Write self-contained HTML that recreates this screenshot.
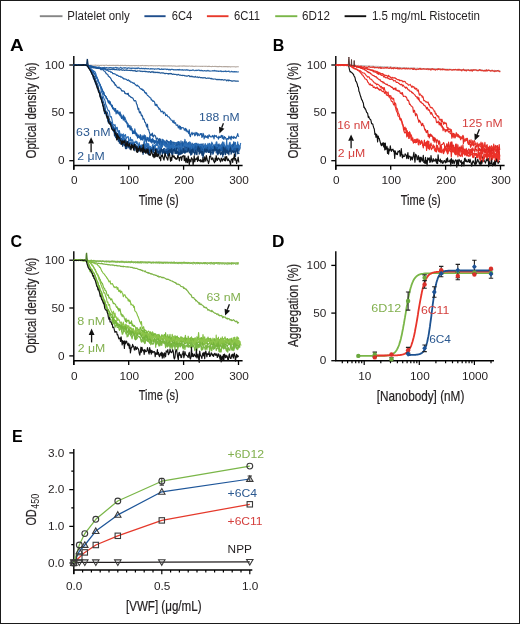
<!DOCTYPE html>
<html><head><meta charset="utf-8"><title>Figure</title><style>
html,body{margin:0;padding:0;background:#fff;overflow:hidden;}
svg{display:block;will-change:transform;}
text{font-family:"Liberation Sans",sans-serif;}
</style></head><body>
<svg width="520" height="624" viewBox="0 0 520 624">
<rect x="0" y="0" width="520" height="624" fill="#fff"/>
<line x1="39.8" y1="16.2" x2="62.5" y2="16.2" stroke="#858585" stroke-width="1.9"/>
<line x1="144.4" y1="16.2" x2="165.6" y2="16.2" stroke="#1f4e8c" stroke-width="1.9"/>
<line x1="206.9" y1="16.2" x2="228.5" y2="16.2" stroke="#e8392b" stroke-width="1.9"/>
<line x1="275.2" y1="16.2" x2="297.3" y2="16.2" stroke="#7ab648" stroke-width="1.9"/>
<line x1="344.6" y1="16.2" x2="366.2" y2="16.2" stroke="#111" stroke-width="1.9"/>
<text x="67.3" y="19.8" font-size="12.3" fill="#231f20" textLength="62.5" lengthAdjust="spacingAndGlyphs">Platelet only</text>
<text x="171.7" y="19.8" font-size="12.3" fill="#231f20" textLength="20.5" lengthAdjust="spacingAndGlyphs">6C4</text>
<text x="234" y="19.8" font-size="12.3" fill="#231f20" textLength="26" lengthAdjust="spacingAndGlyphs">6C11</text>
<text x="302.1" y="19.8" font-size="12.3" fill="#231f20" textLength="27.8" lengthAdjust="spacingAndGlyphs">6D12</text>
<text x="371.9" y="19.8" font-size="12.3" fill="#231f20" textLength="108" lengthAdjust="spacingAndGlyphs">1.5 mg/mL Ristocetin</text>
<text transform="translate(16.7 0) scale(1.17 1) translate(-16.7 0)" x="10.9" y="50.8" font-size="16.2" font-weight="bold" fill="#000">A</text>
<path d="M73.8 56 V169.8 M73.1 165.5 H242.6" stroke="#000" stroke-width="1.4" fill="none"/>
<line x1="69.3" y1="65" x2="73.8" y2="65" stroke="#000" stroke-width="1.3"/>
<text x="64.5" y="68.6" font-size="11.8" fill="#231f20" text-anchor="end">100</text>
<line x1="69.3" y1="112.8" x2="73.8" y2="112.8" stroke="#000" stroke-width="1.3"/>
<text x="64.5" y="116.4" font-size="11.8" fill="#231f20" text-anchor="end">50</text>
<line x1="69.3" y1="160.7" x2="73.8" y2="160.7" stroke="#000" stroke-width="1.3"/>
<text x="64.5" y="164.3" font-size="11.8" fill="#231f20" text-anchor="end">0</text>
<line x1="73.8" y1="165.5" x2="73.8" y2="169.8" stroke="#000" stroke-width="1.3"/>
<text x="74.4" y="184.3" font-size="11.8" fill="#231f20" text-anchor="middle">0</text>
<line x1="128.7" y1="165.5" x2="128.7" y2="169.8" stroke="#000" stroke-width="1.3"/>
<text x="129.3" y="184.3" font-size="11.8" fill="#231f20" text-anchor="middle">100</text>
<line x1="183.6" y1="165.5" x2="183.6" y2="169.8" stroke="#000" stroke-width="1.3"/>
<text x="184.2" y="184.3" font-size="11.8" fill="#231f20" text-anchor="middle">200</text>
<line x1="238.5" y1="165.5" x2="238.5" y2="169.8" stroke="#000" stroke-width="1.3"/>
<text x="239.1" y="184.3" font-size="11.8" fill="#231f20" text-anchor="middle">300</text>
<text x="138.8" y="204.5" font-size="14.5" fill="#231f20" textLength="40" lengthAdjust="spacingAndGlyphs" stroke="#231f20" stroke-width="0.22">Time (s)</text>
<text transform="translate(36.2 110.4) rotate(-90)" x="0" y="0" font-size="14.5" fill="#231f20" text-anchor="middle" stroke="#231f20" stroke-width="0.22" textLength="96" lengthAdjust="spacingAndGlyphs">Optical density (%)</text>
<text x="272.7" y="50.5" font-size="16" font-weight="bold" fill="#000">B</text>
<path d="M335.8 56 V169.8 M335.1 165.5 H504.6" stroke="#000" stroke-width="1.4" fill="none"/>
<line x1="331.3" y1="65" x2="335.8" y2="65" stroke="#000" stroke-width="1.3"/>
<text x="326.5" y="68.6" font-size="11.8" fill="#231f20" text-anchor="end">100</text>
<line x1="331.3" y1="112.8" x2="335.8" y2="112.8" stroke="#000" stroke-width="1.3"/>
<text x="326.5" y="116.4" font-size="11.8" fill="#231f20" text-anchor="end">50</text>
<line x1="331.3" y1="160.7" x2="335.8" y2="160.7" stroke="#000" stroke-width="1.3"/>
<text x="326.5" y="164.3" font-size="11.8" fill="#231f20" text-anchor="end">0</text>
<line x1="335.8" y1="165.5" x2="335.8" y2="169.8" stroke="#000" stroke-width="1.3"/>
<text x="336.4" y="184.3" font-size="11.8" fill="#231f20" text-anchor="middle">0</text>
<line x1="390.7" y1="165.5" x2="390.7" y2="169.8" stroke="#000" stroke-width="1.3"/>
<text x="391.3" y="184.3" font-size="11.8" fill="#231f20" text-anchor="middle">100</text>
<line x1="445.6" y1="165.5" x2="445.6" y2="169.8" stroke="#000" stroke-width="1.3"/>
<text x="446.2" y="184.3" font-size="11.8" fill="#231f20" text-anchor="middle">200</text>
<line x1="500.5" y1="165.5" x2="500.5" y2="169.8" stroke="#000" stroke-width="1.3"/>
<text x="501.1" y="184.3" font-size="11.8" fill="#231f20" text-anchor="middle">300</text>
<text x="400.8" y="204.5" font-size="14.5" fill="#231f20" textLength="40" lengthAdjust="spacingAndGlyphs" stroke="#231f20" stroke-width="0.22">Time (s)</text>
<text transform="translate(298.2 110.4) rotate(-90)" x="0" y="0" font-size="14.5" fill="#231f20" text-anchor="middle" stroke="#231f20" stroke-width="0.22" textLength="96" lengthAdjust="spacingAndGlyphs">Optical density (%)</text>
<text x="10.5" y="246.8" font-size="16" font-weight="bold" fill="#000">C</text>
<path d="M73.8 251.2 V365 M73.1 360.7 H242.6" stroke="#000" stroke-width="1.4" fill="none"/>
<line x1="69.3" y1="260.2" x2="73.8" y2="260.2" stroke="#000" stroke-width="1.3"/>
<text x="64.5" y="263.8" font-size="11.8" fill="#231f20" text-anchor="end">100</text>
<line x1="69.3" y1="308" x2="73.8" y2="308" stroke="#000" stroke-width="1.3"/>
<text x="64.5" y="311.6" font-size="11.8" fill="#231f20" text-anchor="end">50</text>
<line x1="69.3" y1="355.9" x2="73.8" y2="355.9" stroke="#000" stroke-width="1.3"/>
<text x="64.5" y="359.5" font-size="11.8" fill="#231f20" text-anchor="end">0</text>
<line x1="73.8" y1="360.7" x2="73.8" y2="365" stroke="#000" stroke-width="1.3"/>
<text x="74.4" y="379.5" font-size="11.8" fill="#231f20" text-anchor="middle">0</text>
<line x1="128.7" y1="360.7" x2="128.7" y2="365" stroke="#000" stroke-width="1.3"/>
<text x="129.3" y="379.5" font-size="11.8" fill="#231f20" text-anchor="middle">100</text>
<line x1="183.6" y1="360.7" x2="183.6" y2="365" stroke="#000" stroke-width="1.3"/>
<text x="184.2" y="379.5" font-size="11.8" fill="#231f20" text-anchor="middle">200</text>
<line x1="238.5" y1="360.7" x2="238.5" y2="365" stroke="#000" stroke-width="1.3"/>
<text x="239.1" y="379.5" font-size="11.8" fill="#231f20" text-anchor="middle">300</text>
<text x="138.8" y="399.7" font-size="14.5" fill="#231f20" textLength="40" lengthAdjust="spacingAndGlyphs" stroke="#231f20" stroke-width="0.22">Time (s)</text>
<text transform="translate(36.2 305.6) rotate(-90)" x="0" y="0" font-size="14.5" fill="#231f20" text-anchor="middle" stroke="#231f20" stroke-width="0.22" textLength="96" lengthAdjust="spacingAndGlyphs">Optical density (%)</text>
<path d="M73.8 64.9 L74.3 65 L74.9 65.1 L75.4 65.1 L76 64.9 L76.5 65.2 L77.1 65.1 L77.6 65.1 L78.2 65.2 L78.7 65.2 L79.3 65.4 L79.8 65 L80.4 65.1 L80.9 65.3 L81.5 65 L82 65.2 L82.6 65.1 L83.1 65.1 L83.7 65.2 L84.2 64.9 L84.8 65.1 L85.3 65 L85.9 65.2 L86.4 65.1 L87 65.4 L87.5 65.1 L88.1 65.4 L88.6 65.2 L89.2 65.3 L89.7 65.2 L90.3 65.2 L90.8 65.1 L91.4 65.3 L91.9 65.3 L92.5 65.3 L93 65.3 L93.6 65.2 L94.1 65.2 L94.7 65.2 L95.2 65.1 L95.8 65.3 L96.3 65.2 L96.9 65.3 L97.4 65.6 L98 65.3 L98.5 65.3 L99.1 65.4 L99.6 65.5 L100.2 65.5 L100.7 65.3 L101.3 65.6 L101.8 65.3 L102.4 65.2 L102.9 65.2 L103.5 65.5 L104 65.4 L104.6 65.5 L105.1 65.3 L105.7 65.3 L106.2 65.2 L106.8 65.1 L107.3 65.4 L107.9 65.6 L108.4 65.5 L109 65.3 L109.5 65.5 L110.1 65.3 L110.6 65.4 L111.2 65.5 L111.7 65.4 L112.3 65.3 L112.8 65.5 L113.4 65.4 L113.9 65.4 L114.5 65.5 L115 65.4 L115.6 65.5 L116.1 65.3 L116.7 65.5 L117.2 65.3 L117.8 65.4 L118.3 65.2 L118.9 65.6 L119.4 65.5 L120 65.5 L120.5 65.3 L121.1 65.5 L121.6 65.4 L122.2 65.6 L122.7 65.3 L123.3 65.5 L123.8 65.6 L124.4 65.4 L124.9 65.5 L125.5 65.4 L126 65.5 L126.6 65.6 L127.1 65.7 L127.7 65.5 L128.2 65.4 L128.8 65.6 L129.3 65.5 L129.9 65.7 L130.4 65.5 L131 65.7 L131.5 65.6 L132.1 65.6 L132.6 65.7 L133.2 65.5 L133.7 65.5 L134.3 65.6 L134.8 65.6 L135.4 65.6 L135.9 65.5 L136.5 65.5 L137 65.7 L137.6 65.8 L138.1 65.4 L138.7 65.8 L139.2 65.7 L139.8 65.8 L140.3 65.6 L140.9 65.5 L141.4 65.6 L142 65.5 L142.5 65.4 L143.1 65.6 L143.6 65.7 L144.2 65.6 L144.7 65.7 L145.3 65.5 L145.8 65.8 L146.4 65.6 L146.9 65.7 L147.5 65.8 L148 65.6 L148.6 66 L149.1 65.8 L149.7 65.8 L150.2 65.7 L150.8 65.6 L151.3 65.8 L151.9 65.6 L152.4 65.8 L153 65.8 L153.5 65.9 L154.1 65.8 L154.6 65.8 L155.2 65.9 L155.7 65.7 L156.3 65.7 L156.8 65.7 L157.4 66 L157.9 65.8 L158.5 65.7 L159 65.6 L159.6 65.7 L160.1 65.8 L160.7 65.9 L161.2 66 L161.8 65.7 L162.3 65.9 L162.9 66 L163.4 65.6 L164 66.1 L164.5 65.7 L165.1 65.7 L165.6 66 L166.2 65.9 L166.7 66 L167.3 66 L167.8 65.9 L168.4 65.9 L168.9 65.8 L169.5 66 L170 65.7 L170.6 65.9 L171.1 66 L171.7 65.8 L172.2 66 L172.8 66.1 L173.3 66 L173.9 65.9 L174.4 66 L175 66.1 L175.5 66 L176.1 66.2 L176.6 66.2 L177.2 66.1 L177.7 66.2 L178.3 66.2 L178.8 65.9 L179.4 66.3 L179.9 65.9 L180.5 66.1 L181 65.9 L181.6 66.1 L182.1 66.1 L182.7 66.1 L183.2 65.7 L183.8 66.2 L184.3 66.1 L184.9 65.8 L185.4 66.3 L186 66.1 L186.5 66 L187.1 66.2 L187.6 66.1 L188.2 66.2 L188.7 66.1 L189.3 66 L189.8 66 L190.4 66.3 L190.9 66.2 L191.5 66.1 L192 66.1 L192.6 66.1 L193.1 66.5 L193.7 66.3 L194.2 66.2 L194.8 66.4 L195.3 66.2 L195.9 66.1 L196.4 66.2 L197 66.3 L197.5 66.2 L198.1 66.2 L198.6 66.3 L199.2 66.2 L199.7 66.2 L200.3 66.4 L200.8 66.3 L201.4 66.3 L201.9 66.4 L202.5 66.4 L203 66.2 L203.6 66.3 L204.1 66.2 L204.7 66.2 L205.2 66.4 L205.8 66.3 L206.3 66.3 L206.9 66.2 L207.4 66.6 L208 66.4 L208.5 66.4 L209.1 66.4 L209.6 66.3 L210.2 66.5 L210.7 66.5 L211.3 66.6 L211.8 66.5 L212.4 66.3 L212.9 66.5 L213.5 66.5 L214 66.5 L214.6 66.4 L215.1 66.3 L215.7 66.5 L216.2 66.6 L216.8 66.4 L217.3 66.8 L217.9 66.6 L218.4 66.5 L219 66.8 L219.5 66.4 L220.1 66.5 L220.6 66.5 L221.2 66.8 L221.7 66.5 L222.3 66.7 L222.8 66.7 L223.4 66.6 L223.9 66.7 L224.5 66.5 L225 66.8 L225.6 66.6 L226.1 66.6 L226.7 66.8 L227.2 66.6 L227.8 66.9 L228.3 66.9 L228.9 66.5 L229.4 66.8 L230 66.7 L230.5 67 L231.1 66.7 L231.6 66.7 L232.2 66.8 L232.7 66.8 L233.3 66.7 L233.8 66.8 L234.4 66.8 L234.9 66.7 L235.5 67 L236 66.9 L236.6 66.7 L237.1 66.7 L237.7 66.8 L238.2 66.7 L238.8 66.7" fill="none" stroke="#b3a79e" stroke-width="1.1" stroke-linejoin="round"/>
<path d="M73.8 65 L74.3 64.7 L74.9 65.3 L75.4 65.3 L76 65.1 L76.5 65.2 L77.1 65.5 L77.6 65.3 L78.2 65.3 L78.7 65.3 L79.3 64.9 L79.8 65.3 L80.4 64.7 L80.9 65 L81.5 65 L82 64.7 L82.6 65.1 L83.1 65.5 L83.7 65.1 L84.2 64.9 L84.8 65.2 L85.3 65.4 L85.9 65.3 L86.4 65.3 L87 65 L87.5 65.5 L88.1 65.6 L88.6 65.9 L89.2 66 L89.7 66 L90.3 65.7 L90.8 65.9 L91.4 66.1 L91.9 66.6 L92.5 66.5 L93 67.2 L93.6 67 L94.1 67.2 L94.7 67.3 L95.2 67.3 L95.8 66.9 L96.3 67.8 L96.9 67.7 L97.4 67.7 L98 67.2 L98.5 67 L99.1 67.1 L99.6 67.2 L100.2 67.7 L100.7 67.7 L101.3 67.9 L101.8 68 L102.4 67.7 L102.9 67.7 L103.5 67.5 L104 67.6 L104.6 67.4 L105.1 67.8 L105.7 67.8 L106.2 67.6 L106.8 67.5 L107.3 67.8 L107.9 68 L108.4 67.8 L109 67.8 L109.5 67.7 L110.1 67.7 L110.6 67.7 L111.2 67.8 L111.7 67.7 L112.3 67.9 L112.8 68.2 L113.4 67.7 L113.9 68.2 L114.5 67.8 L115 67.8 L115.6 67.4 L116.1 67.4 L116.7 68.1 L117.2 67.7 L117.8 68.2 L118.3 68 L118.9 68.1 L119.4 68.3 L120 68 L120.5 67.3 L121.1 67.6 L121.6 68.3 L122.2 68.5 L122.7 68 L123.3 67.9 L123.8 67.8 L124.4 68.2 L124.9 67.7 L125.5 67.8 L126 68.1 L126.6 68.1 L127.1 68.1 L127.7 68.4 L128.2 67.9 L128.8 67.9 L129.3 68.1 L129.9 68.2 L130.4 68.1 L131 68.7 L131.5 68.1 L132.1 68.4 L132.6 68.1 L133.2 68.3 L133.7 68.2 L134.3 68.2 L134.8 68.7 L135.4 68.2 L135.9 68.7 L136.5 68.2 L137 68.2 L137.6 68.6 L138.1 67.8 L138.7 68 L139.2 68.4 L139.8 68.6 L140.3 68.6 L140.9 68.4 L141.4 68.2 L142 68.7 L142.5 68.6 L143.1 68.3 L143.6 68.6 L144.2 69 L144.7 68.6 L145.3 68.4 L145.8 68.6 L146.4 68.6 L146.9 68.8 L147.5 68.9 L148 68.5 L148.6 68.6 L149.1 69 L149.7 69 L150.2 69.1 L150.8 68.5 L151.3 68.6 L151.9 69.1 L152.4 68.7 L153 69 L153.5 68.9 L154.1 68.8 L154.6 69.3 L155.2 69 L155.7 68.9 L156.3 69 L156.8 69.1 L157.4 68.7 L157.9 68.9 L158.5 68.8 L159 68.6 L159.6 69.4 L160.1 69.5 L160.7 69.5 L161.2 68.8 L161.8 69.3 L162.3 69.4 L162.9 69.1 L163.4 69.5 L164 69.1 L164.5 69.1 L165.1 69.2 L165.6 69.2 L166.2 69.2 L166.7 69.6 L167.3 69.2 L167.8 69.3 L168.4 69.3 L168.9 70 L169.5 69.3 L170 69.6 L170.6 70 L171.1 69.3 L171.7 69.4 L172.2 69.5 L172.8 69.3 L173.3 69.9 L173.9 69.5 L174.4 69.9 L175 69.8 L175.5 69.7 L176.1 70 L176.6 69.7 L177.2 70 L177.7 69.5 L178.3 69.6 L178.8 70.1 L179.4 69.4 L179.9 70 L180.5 69.8 L181 69.8 L181.6 69.8 L182.1 70.2 L182.7 69.6 L183.2 70.2 L183.8 70.1 L184.3 69.9 L184.9 70 L185.4 70.2 L186 69.9 L186.5 69.7 L187.1 70.2 L187.6 69.9 L188.2 70.1 L188.7 70.2 L189.3 70.4 L189.8 70.6 L190.4 70.3 L190.9 70.3 L191.5 70.5 L192 70.4 L192.6 69.9 L193.1 70.2 L193.7 70.1 L194.2 70.5 L194.8 70.7 L195.3 70.5 L195.9 70.2 L196.4 70.6 L197 70.2 L197.5 70.5 L198.1 70.2 L198.6 70.2 L199.2 70.2 L199.7 70.6 L200.3 70.4 L200.8 70.7 L201.4 70.3 L201.9 70.7 L202.5 70.5 L203 71 L203.6 70.9 L204.1 70.7 L204.7 70.7 L205.2 70.8 L205.8 70.9 L206.3 70.7 L206.9 71.1 L207.4 70.7 L208 70.4 L208.5 70.9 L209.1 70.8 L209.6 71.1 L210.2 71.1 L210.7 71 L211.3 71 L211.8 71 L212.4 70.8 L212.9 70.7 L213.5 70.8 L214 71 L214.6 70.5 L215.1 71 L215.7 70.9 L216.2 71.1 L216.8 70.9 L217.3 71.2 L217.9 71.1 L218.4 71.5 L219 71.1 L219.5 71.2 L220.1 71.3 L220.6 70.8 L221.2 71 L221.7 71.6 L222.3 71.5 L222.8 71.4 L223.4 71.6 L223.9 71.3 L224.5 71.3 L225 71.4 L225.6 71 L226.1 71.7 L226.7 71.4 L227.2 71.5 L227.8 71.4 L228.3 71.4 L228.9 71 L229.4 71.6 L230 72.1 L230.5 71.8 L231.1 71.6 L231.6 71.4 L232.2 71.7 L232.7 71.8 L233.3 71.7 L233.8 71.9 L234.4 71.5 L234.9 72 L235.5 71.8 L236 71.7 L236.6 71.8 L237.1 71.9 L237.7 72 L238.2 71.9 L238.8 72" fill="none" stroke="#2c66a6" stroke-width="1.2" stroke-linejoin="round"/>
<path d="M73.8 65.3 L74.3 65.6 L74.9 65.4 L75.4 64.9 L76 65 L76.5 65.3 L77.1 65.1 L77.6 65.3 L78.2 64.7 L78.7 65.5 L79.3 65.5 L79.8 64.8 L80.4 65 L80.9 65 L81.5 65 L82 65.3 L82.6 65 L83.1 65 L83.7 65.3 L84.2 65.5 L84.8 65.1 L85.3 65.3 L85.9 65 L86.4 65.5 L87 65.8 L87.5 65.6 L88.1 65.6 L88.6 65.5 L89.2 66.1 L89.7 66.1 L90.3 67 L90.8 67.5 L91.4 67.6 L91.9 67.5 L92.5 67.7 L93 67.6 L93.6 67.9 L94.1 67.9 L94.7 68 L95.2 67.5 L95.8 68.2 L96.3 68.3 L96.9 68.1 L97.4 68.4 L98 68.5 L98.5 67.9 L99.1 68.6 L99.6 68.4 L100.2 68.3 L100.7 68.6 L101.3 68.4 L101.8 68.6 L102.4 68.5 L102.9 68.6 L103.5 68.5 L104 68.7 L104.6 68.6 L105.1 68.6 L105.7 69.2 L106.2 69 L106.8 69.1 L107.3 69.5 L107.9 69.3 L108.4 69.2 L109 69 L109.5 69.4 L110.1 69.4 L110.6 69.6 L111.2 69.3 L111.7 69.3 L112.3 69 L112.8 69.6 L113.4 69.1 L113.9 69.4 L114.5 69.7 L115 69.6 L115.6 69.6 L116.1 69.8 L116.7 69.3 L117.2 69.7 L117.8 70 L118.3 70 L118.9 69.5 L119.4 70.1 L120 70 L120.5 69.7 L121.1 69.6 L121.6 69.9 L122.2 70.3 L122.7 70.1 L123.3 69.8 L123.8 70.1 L124.4 70.4 L124.9 70.1 L125.5 70.1 L126 70.3 L126.6 69.8 L127.1 70.4 L127.7 70 L128.2 70.3 L128.8 70.5 L129.3 70.4 L129.9 70.3 L130.4 70.4 L131 70.7 L131.5 70.2 L132.1 70.4 L132.6 70.7 L133.2 70.8 L133.7 70.7 L134.3 70.6 L134.8 70.9 L135.4 70.7 L135.9 71.3 L136.5 71.2 L137 71.4 L137.6 70.8 L138.1 70.9 L138.7 71 L139.2 70.8 L139.8 71 L140.3 71.4 L140.9 71 L141.4 71.2 L142 71.6 L142.5 71.4 L143.1 71.5 L143.6 71.4 L144.2 71.3 L144.7 71.4 L145.3 71.6 L145.8 71.4 L146.4 71.6 L146.9 71.5 L147.5 71.7 L148 72.1 L148.6 71.9 L149.1 71.5 L149.7 71.8 L150.2 72.3 L150.8 72.4 L151.3 71.7 L151.9 72.1 L152.4 72.1 L153 71.5 L153.5 72.2 L154.1 72.7 L154.6 72.1 L155.2 72.2 L155.7 72.6 L156.3 72.3 L156.8 72.4 L157.4 72.6 L157.9 72.2 L158.5 72.7 L159 72.4 L159.6 72.7 L160.1 73 L160.7 73.2 L161.2 72.7 L161.8 73 L162.3 73.1 L162.9 72.6 L163.4 73.1 L164 73.2 L164.5 73.4 L165.1 73.8 L165.6 73.4 L166.2 73.4 L166.7 73.5 L167.3 73.6 L167.8 73.7 L168.4 74.1 L168.9 73.5 L169.5 73.8 L170 73.3 L170.6 73.5 L171.1 74 L171.7 73.6 L172.2 74.2 L172.8 74.5 L173.3 74.1 L173.9 74.2 L174.4 74.4 L175 74.4 L175.5 74.5 L176.1 74.4 L176.6 74.9 L177.2 74.8 L177.7 74.8 L178.3 74.3 L178.8 74.8 L179.4 75 L179.9 75.3 L180.5 75 L181 75.4 L181.6 75.5 L182.1 75.2 L182.7 75.6 L183.2 75.5 L183.8 75.3 L184.3 75.6 L184.9 76 L185.4 75.9 L186 75.9 L186.5 76.1 L187.1 76.2 L187.6 76.1 L188.2 75.7 L188.7 75.6 L189.3 75.8 L189.8 76.7 L190.4 76.6 L190.9 76.1 L191.5 76.7 L192 76.2 L192.6 76.7 L193.1 76.9 L193.7 76.7 L194.2 77 L194.8 77.1 L195.3 76.5 L195.9 77 L196.4 77.2 L197 77 L197.5 76.9 L198.1 77.6 L198.6 77.4 L199.2 77.2 L199.7 77.2 L200.3 77.5 L200.8 77.8 L201.4 77.5 L201.9 77.8 L202.5 77.8 L203 77.7 L203.6 77.8 L204.1 77.9 L204.7 77.7 L205.2 77.7 L205.8 78.3 L206.3 78.5 L206.9 78.3 L207.4 78 L208 78.3 L208.5 78.2 L209.1 78.1 L209.6 78.2 L210.2 78.4 L210.7 78.7 L211.3 78.4 L211.8 79 L212.4 78.8 L212.9 79.1 L213.5 79.1 L214 79 L214.6 79 L215.1 79.1 L215.7 79.2 L216.2 79.4 L216.8 79.7 L217.3 79.4 L217.9 79.7 L218.4 79.6 L219 79.4 L219.5 79.6 L220.1 79.7 L220.6 79.8 L221.2 79.6 L221.7 80 L222.3 79.6 L222.8 79.8 L223.4 80.1 L223.9 80 L224.5 79.8 L225 79.7 L225.6 80 L226.1 80 L226.7 80.8 L227.2 80 L227.8 80 L228.3 80.9 L228.9 80 L229.4 80.3 L230 80.7 L230.5 80.6 L231.1 80.7 L231.6 81.1 L232.2 81.3 L232.7 80.9 L233.3 80.9 L233.8 80.8 L234.4 80.8 L234.9 80.9 L235.5 81.1 L236 81 L236.6 81.2 L237.1 81.1 L237.7 81 L238.2 81.2 L238.8 81.3" fill="none" stroke="#235a97" stroke-width="1.2" stroke-linejoin="round"/>
<path d="M73.8 65.4 L74.3 65 L74.9 65.3 L75.4 65 L76 65.3 L76.5 64.9 L77.1 65 L77.6 65 L78.2 64.8 L78.7 65.2 L79.3 64.9 L79.8 64.9 L80.4 65 L80.9 65.2 L81.5 65 L82 65.4 L82.6 65.1 L83.1 65.1 L83.7 65.2 L84.2 65.2 L84.8 65 L85.3 65.1 L85.9 65.3 L86.4 65.5 L87 65.4 L87.5 65.4 L88.1 65.1 L88.6 65.5 L89.2 65.6 L89.7 66 L90.3 66.1 L90.8 66 L91.4 66.2 L91.9 66.2 L92.5 66.3 L93 66.5 L93.6 66.6 L94.1 66.9 L94.7 67.1 L95.2 67 L95.8 67.4 L96.3 67.1 L96.9 67.4 L97.4 67.5 L98 67.3 L98.5 67.9 L99.1 68 L99.6 68.3 L100.2 68.1 L100.7 68.3 L101.3 68.5 L101.8 68.1 L102.4 68.7 L102.9 68.4 L103.5 69 L104 69.2 L104.6 69.3 L105.1 69 L105.7 69.9 L106.2 69.9 L106.8 70.3 L107.3 70.2 L107.9 70.5 L108.4 71.3 L109 71 L109.5 71.3 L110.1 71.5 L110.6 72.2 L111.2 71.8 L111.7 72.4 L112.3 72.5 L112.8 73.7 L113.4 73.6 L113.9 73.6 L114.5 73.9 L115 74 L115.6 74.2 L116.1 74.6 L116.7 75.5 L117.2 75.1 L117.8 75.4 L118.3 75.8 L118.9 76.5 L119.4 76.4 L120 76.2 L120.5 76.9 L121.1 77.1 L121.6 76.9 L122.2 77.4 L122.7 78.1 L123.3 78 L123.8 79.1 L124.4 78.9 L124.9 78.8 L125.5 79.2 L126 79.2 L126.6 79.5 L127.1 80.3 L127.7 80.3 L128.2 79.8 L128.8 80.2 L129.3 81.3 L129.9 80.8 L130.4 81.5 L131 82.3 L131.5 82 L132.1 82.3 L132.6 82.5 L133.2 83.5 L133.7 83 L134.3 83 L134.8 84 L135.4 85 L135.9 84.8 L136.5 85.7 L137 85.9 L137.6 85.2 L138.1 86.1 L138.7 86.5 L139.2 86.9 L139.8 88 L140.3 88.6 L140.9 88.7 L141.4 89.4 L142 88.9 L142.5 90.3 L143.1 89.7 L143.6 90.7 L144.2 90.7 L144.7 92.7 L145.3 92.3 L145.8 93.6 L146.4 92.9 L146.9 94.5 L147.5 95.5 L148 95.6 L148.6 96.3 L149.1 96.8 L149.7 97.3 L150.2 97.7 L150.8 98 L151.3 100 L151.9 99.9 L152.4 100.6 L153 101.5 L153.5 100.9 L154.1 101.5 L154.6 102.2 L155.2 105.3 L155.7 104.3 L156.3 105.8 L156.8 104.3 L157.4 106.2 L157.9 107.2 L158.5 107.2 L159 109.3 L159.6 108.6 L160.1 109.4 L160.7 111 L161.2 112 L161.8 111.3 L162.3 111.1 L162.9 111.8 L163.4 113.7 L164 112 L164.5 112.6 L165.1 113.1 L165.6 115.6 L166.2 115.5 L166.7 114.7 L167.3 115.4 L167.8 116.7 L168.4 116.8 L168.9 116.8 L169.5 117.6 L170 118.8 L170.6 118.9 L171.1 120.1 L171.7 120.3 L172.2 120.4 L172.8 122.2 L173.3 122.7 L173.9 120.4 L174.4 123.3 L175 122.9 L175.5 122.7 L176.1 125.1 L176.6 125 L177.2 125.7 L177.7 124.8 L178.3 127.9 L178.8 126.8 L179.4 125.8 L179.9 129.2 L180.5 126.3 L181 129.4 L181.6 127.6 L182.1 127.6 L182.7 127.8 L183.2 127.8 L183.8 128.2 L184.3 130.2 L184.9 130 L185.4 128.4 L186 131 L186.5 129.1 L187.1 132 L187.6 131 L188.2 131.6 L188.7 133.6 L189.3 129.7 L189.8 135.4 L190.4 136.7 L190.9 134.3 L191.5 133.8 L192 132.3 L192.6 134.8 L193.1 133.3 L193.7 133.3 L194.2 132.8 L194.8 135.8 L195.3 135.2 L195.9 132.3 L196.4 134.2 L197 132.7 L197.5 135.8 L198.1 133.5 L198.6 134.7 L199.2 135.7 L199.7 134.8 L200.3 133.5 L200.8 134.7 L201.4 133.6 L201.9 137.4 L202.5 136.9 L203 133.3 L203.6 134.2 L204.1 138.9 L204.7 136.8 L205.2 135.6 L205.8 137.3 L206.3 136.6 L206.9 137.3 L207.4 135.7 L208 138.5 L208.5 136.7 L209.1 134.7 L209.6 136.3 L210.2 136 L210.7 137 L211.3 136.9 L211.8 136.7 L212.4 135.4 L212.9 136.9 L213.5 135.9 L214 138.9 L214.6 135.2 L215.1 136.4 L215.7 136.1 L216.2 135.5 L216.8 137.4 L217.3 137.3 L217.9 137.2 L218.4 139.1 L219 136.2 L219.5 137.7 L220.1 137.2 L220.6 137.5 L221.2 135.4 L221.7 135.5 L222.3 138.3 L222.8 135.6 L223.4 138.8 L223.9 139.4 L224.5 136.5 L225 137.8 L225.6 137.6 L226.1 139.4 L226.7 140.3 L227.2 138.5 L227.8 138.6 L228.3 139.2 L228.9 136.1 L229.4 137.4 L230 138.7 L230.5 136.8 L231.1 139.8 L231.6 136.2 L232.2 137.3 L232.7 137.7 L233.3 138.5 L233.8 136.3 L234.4 137 L234.9 138.1 L235.5 137.7 L236 138.4 L236.6 136.4 L237.1 136 L237.7 133.6 L238.2 135.7 L238.8 136.8" fill="none" stroke="#1f5da3" stroke-width="1.15" stroke-linejoin="round"/>
<path d="M73.8 65.3 L74.3 65.3 L74.9 65.1 L75.4 65.1 L76 65.1 L76.5 65.1 L77.1 65.4 L77.6 65.1 L78.2 65.1 L78.7 65 L79.3 65.3 L79.8 65 L80.4 65.1 L80.9 65.2 L81.5 65.2 L82 65 L82.6 65.4 L83.1 65.2 L83.7 65.3 L84.2 65.2 L84.8 65.5 L85.3 65.2 L85.9 65.2 L86.4 65.3 L87 65.5 L87.5 65.4 L88.1 65.6 L88.6 65.8 L89.2 65.5 L89.7 66.1 L90.3 66.2 L90.8 66.1 L91.4 66.3 L91.9 66.4 L92.5 66.9 L93 66.8 L93.6 67.2 L94.1 67.5 L94.7 67.1 L95.2 67.7 L95.8 67.7 L96.3 67.7 L96.9 68.1 L97.4 68.1 L98 67.9 L98.5 68.2 L99.1 68.5 L99.6 68.5 L100.2 68.5 L100.7 69.6 L101.3 69.5 L101.8 69.7 L102.4 69.7 L102.9 69.4 L103.5 70.3 L104 70.9 L104.6 71.2 L105.1 71.7 L105.7 72.6 L106.2 73.7 L106.8 73.8 L107.3 74.4 L107.9 74.8 L108.4 76.3 L109 76.5 L109.5 77 L110.1 77.5 L110.6 78.1 L111.2 79.2 L111.7 80.8 L112.3 80.7 L112.8 81.7 L113.4 81.8 L113.9 83.1 L114.5 82.8 L115 85.1 L115.6 84.6 L116.1 85.8 L116.7 86.1 L117.2 87.4 L117.8 87.5 L118.3 88 L118.9 87.1 L119.4 87.9 L120 88.3 L120.5 88.8 L121.1 89.3 L121.6 90.9 L122.2 90.7 L122.7 91.2 L123.3 90.9 L123.8 91.3 L124.4 91.4 L124.9 93.5 L125.5 93.2 L126 94 L126.6 94 L127.1 93.5 L127.7 94.5 L128.2 93.2 L128.8 95.9 L129.3 95.7 L129.9 96.3 L130.4 96.7 L131 97.5 L131.5 97.3 L132.1 98 L132.6 97.9 L133.2 98.8 L133.7 99.9 L134.3 101.1 L134.8 100.6 L135.4 100.6 L135.9 101.1 L136.5 103.8 L137 104.5 L137.6 107.1 L138.1 109.6 L138.7 108.3 L139.2 111.9 L139.8 113 L140.3 111.7 L140.9 113.4 L141.4 115.9 L142 115.2 L142.5 116 L143.1 119.3 L143.6 118.6 L144.2 119.5 L144.7 122.2 L145.3 122.3 L145.8 123.4 L146.4 126.1 L146.9 127.1 L147.5 124.2 L148 129.5 L148.6 129.5 L149.1 131.4 L149.7 133.3 L150.2 135.7 L150.8 134.9 L151.3 134.1 L151.9 135.6 L152.4 133.1 L153 137 L153.5 137 L154.1 135.1 L154.6 135.1 L155.2 135.6 L155.7 136.8 L156.3 139.5 L156.8 138.5 L157.4 138 L157.9 138.9 L158.5 141.8 L159 139.4 L159.6 138.7 L160.1 144.1 L160.7 139.1 L161.2 141.6 L161.8 142.5 L162.3 141.4 L162.9 140.9 L163.4 143.7 L164 141.9 L164.5 142.9 L165.1 141.9 L165.6 145 L166.2 140.6 L166.7 140.2 L167.3 140.9 L167.8 142.4 L168.4 142.2 L168.9 143 L169.5 141.8 L170 143.8 L170.6 140.6 L171.1 141 L171.7 142.8 L172.2 142.1 L172.8 142 L173.3 142.5 L173.9 142.4 L174.4 144.2 L175 145.1 L175.5 146.1 L176.1 144.3 L176.6 142.8 L177.2 142.2 L177.7 142.3 L178.3 141.5 L178.8 145.4 L179.4 147.5 L179.9 144.4 L180.5 145.1 L181 140.8 L181.6 144.7 L182.1 143.7 L182.7 145 L183.2 143.6 L183.8 143.8 L184.3 143.6 L184.9 144.1 L185.4 148.9 L186 146.6 L186.5 142.8 L187.1 145.1 L187.6 144.9 L188.2 149.3 L188.7 142.4 L189.3 146.9 L189.8 147.3 L190.4 149.8 L190.9 149 L191.5 145.7 L192 143.1 L192.6 144.2 L193.1 144.9 L193.7 145.8 L194.2 145 L194.8 143.8 L195.3 147.4 L195.9 146.6 L196.4 145.6 L197 145.5 L197.5 145.3 L198.1 144.6 L198.6 151.2 L199.2 145.9 L199.7 145.5 L200.3 149.4 L200.8 146 L201.4 147.3 L201.9 144.9 L202.5 146 L203 143.5 L203.6 147.7 L204.1 150.7 L204.7 147.4 L205.2 147.7 L205.8 149.2 L206.3 149.2 L206.9 145.5 L207.4 145.7 L208 146.6 L208.5 149.6 L209.1 145 L209.6 146.2 L210.2 146.9 L210.7 147.4 L211.3 147.8 L211.8 146.7 L212.4 149.7 L212.9 146.1 L213.5 151.3 L214 147.9 L214.6 148.8 L215.1 145.3 L215.7 148.2 L216.2 145.3 L216.8 144.9 L217.3 149.1 L217.9 147.7 L218.4 145.5 L219 143.9 L219.5 149.1 L220.1 147.8 L220.6 149.3 L221.2 149.6 L221.7 150 L222.3 143.6 L222.8 141.8 L223.4 149.1 L223.9 144.3 L224.5 150 L225 148.7 L225.6 147.9 L226.1 147.8 L226.7 144.9 L227.2 147.8 L227.8 147.6 L228.3 148.7 L228.9 151.7 L229.4 147 L230 149.3 L230.5 151.4 L231.1 146.7 L231.6 146.4 L232.2 146.6 L232.7 145.9 L233.3 144.9 L233.8 149.3 L234.4 150.9 L234.9 149.2 L235.5 147.1 L236 147 L236.6 148.6 L237.1 146.7 L237.7 147.8 L238.2 147.2 L238.8 149.9" fill="none" stroke="#1c5699" stroke-width="1.15" stroke-linejoin="round"/>
<path d="M73.8 65.2 L74.3 65.4 L74.9 65.5 L75.4 65.1 L76 65.1 L76.5 65.3 L77.1 65.1 L77.6 65.2 L78.2 65.3 L78.7 65.2 L79.3 65.3 L79.8 64.8 L80.4 65.3 L80.9 65.1 L81.5 65 L82 65.1 L82.6 64.9 L83.1 65 L83.7 64.9 L84.2 65.1 L84.8 65 L85.3 65.1 L85.9 65.4 L86.4 65.3 L87 65.1 L87.5 65.6 L88.1 66 L88.6 66.4 L89.2 66.9 L89.7 67.5 L90.3 67.9 L90.8 69 L91.4 69.5 L91.9 70 L92.5 70.8 L93 71.5 L93.6 72.8 L94.1 73.2 L94.7 73.6 L95.2 75.1 L95.8 76.4 L96.3 77.3 L96.9 77.9 L97.4 78.4 L98 81.3 L98.5 81.1 L99.1 82.9 L99.6 84.1 L100.2 85.1 L100.7 86.4 L101.3 87.2 L101.8 88.4 L102.4 89.8 L102.9 91.1 L103.5 94 L104 92.6 L104.6 95.3 L105.1 95.6 L105.7 96.3 L106.2 96.5 L106.8 98.7 L107.3 98.7 L107.9 100.7 L108.4 101.6 L109 100.8 L109.5 103.7 L110.1 103.2 L110.6 104.1 L111.2 105.1 L111.7 105.2 L112.3 107.3 L112.8 108.7 L113.4 107.9 L113.9 109.4 L114.5 111.1 L115 110.4 L115.6 110 L116.1 112.1 L116.7 111.4 L117.2 111.6 L117.8 110.7 L118.3 113 L118.9 112.3 L119.4 114.1 L120 111.8 L120.5 113.4 L121.1 117.2 L121.6 118.2 L122.2 117.1 L122.7 117.6 L123.3 115 L123.8 119.3 L124.4 118.5 L124.9 117.3 L125.5 119.5 L126 120.2 L126.6 123.3 L127.1 123.4 L127.7 127.2 L128.2 126.7 L128.8 125.5 L129.3 127 L129.9 125.3 L130.4 129.2 L131 128.2 L131.5 129.7 L132.1 130.7 L132.6 130.9 L133.2 130.8 L133.7 133.1 L134.3 133.6 L134.8 128.8 L135.4 132.2 L135.9 133.3 L136.5 133 L137 134.5 L137.6 136 L138.1 135.2 L138.7 135 L139.2 137.2 L139.8 136.5 L140.3 136.6 L140.9 139.9 L141.4 138.5 L142 135.3 L142.5 139.5 L143.1 136.3 L143.6 138.1 L144.2 134.8 L144.7 139.9 L145.3 135.5 L145.8 139.4 L146.4 142.5 L146.9 140.1 L147.5 139.3 L148 137.6 L148.6 139 L149.1 141.2 L149.7 135.8 L150.2 138 L150.8 142.2 L151.3 139.4 L151.9 142.3 L152.4 141.6 L153 139 L153.5 140.4 L154.1 143.3 L154.6 140.4 L155.2 141 L155.7 142.2 L156.3 140.4 L156.8 141 L157.4 142.5 L157.9 141.4 L158.5 141.8 L159 143.1 L159.6 145.3 L160.1 142.1 L160.7 141.2 L161.2 147.8 L161.8 144.3 L162.3 139.2 L162.9 141.9 L163.4 139.8 L164 144.3 L164.5 140.8 L165.1 142.2 L165.6 146.2 L166.2 142 L166.7 143.3 L167.3 144 L167.8 145.2 L168.4 145.4 L168.9 146.3 L169.5 142.4 L170 144.4 L170.6 140.5 L171.1 143.7 L171.7 143.4 L172.2 147 L172.8 144.4 L173.3 143.2 L173.9 143.2 L174.4 142.3 L175 143.1 L175.5 142.7 L176.1 144 L176.6 143 L177.2 144.2 L177.7 146.1 L178.3 142.1 L178.8 142.8 L179.4 141.9 L179.9 148.1 L180.5 147.5 L181 145.4 L181.6 144.6 L182.1 142.8 L182.7 146.5 L183.2 144.8 L183.8 145.4 L184.3 144.9 L184.9 139.4 L185.4 141.7 L186 143.8 L186.5 145.8 L187.1 143 L187.6 145.3 L188.2 144.3 L188.7 142.9 L189.3 146.2 L189.8 142.9 L190.4 142.7 L190.9 148.3 L191.5 147.9 L192 145.7 L192.6 147.4 L193.1 144 L193.7 144.8 L194.2 146.1 L194.8 146.1 L195.3 146.5 L195.9 143 L196.4 147.3 L197 143.4 L197.5 145.4 L198.1 150.5 L198.6 147.5 L199.2 144.6 L199.7 146.3 L200.3 144.2 L200.8 144.4 L201.4 144.1 L201.9 145 L202.5 145.7 L203 146.9 L203.6 149.8 L204.1 146.6 L204.7 146.3 L205.2 143.6 L205.8 148.2 L206.3 146.1 L206.9 148.8 L207.4 146 L208 149.1 L208.5 144.8 L209.1 145.2 L209.6 145.5 L210.2 145.4 L210.7 146.5 L211.3 146.2 L211.8 142.1 L212.4 143.7 L212.9 144.3 L213.5 146.8 L214 145.1 L214.6 147 L215.1 147 L215.7 146.2 L216.2 142 L216.8 149.5 L217.3 146.8 L217.9 145 L218.4 146.7 L219 145.2 L219.5 146.3 L220.1 144.6 L220.6 150.2 L221.2 145.7 L221.7 147.1 L222.3 145 L222.8 147.9 L223.4 149.1 L223.9 146.8 L224.5 145 L225 147 L225.6 146.2 L226.1 148.1 L226.7 147 L227.2 147.2 L227.8 146.2 L228.3 146 L228.9 146.5 L229.4 148.9 L230 146.4 L230.5 147.5 L231.1 145.5 L231.6 145.7 L232.2 144.1 L232.7 145.9 L233.3 145 L233.8 142 L234.4 144.4 L234.9 143.2 L235.5 145.4 L236 145.2 L236.6 148.3 L237.1 146.2 L237.7 144.8 L238.2 145.1 L238.8 145.1" fill="none" stroke="#2363ab" stroke-width="1.15" stroke-linejoin="round"/>
<path d="M73.8 65.3 L74.3 65.2 L74.9 65.2 L75.4 65.1 L76 65.3 L76.5 64.9 L77.1 65.3 L77.6 65.1 L78.2 65.1 L78.7 64.9 L79.3 64.9 L79.8 65 L80.4 65.2 L80.9 65.1 L81.5 65.2 L82 65.1 L82.6 65.2 L83.1 65.1 L83.7 65 L84.2 65.2 L84.8 65.1 L85.3 65.3 L85.9 65.2 L86.4 65.3 L87 65.4 L87.5 65.7 L88.1 65.8 L88.6 66.3 L89.2 66.9 L89.7 67.7 L90.3 68 L90.8 68.6 L91.4 70.2 L91.9 70.1 L92.5 70.9 L93 71.1 L93.6 72.3 L94.1 73.3 L94.7 74 L95.2 75 L95.8 76.1 L96.3 77.2 L96.9 78.5 L97.4 78.6 L98 79.7 L98.5 81.8 L99.1 82.9 L99.6 83.6 L100.2 84.6 L100.7 86.2 L101.3 87.9 L101.8 89.5 L102.4 90.9 L102.9 91.8 L103.5 91.7 L104 94.8 L104.6 95.1 L105.1 95.6 L105.7 96.6 L106.2 98.5 L106.8 98.5 L107.3 99.5 L107.9 100.8 L108.4 102.8 L109 101 L109.5 103.9 L110.1 101.6 L110.6 103.4 L111.2 105.1 L111.7 106.7 L112.3 105.2 L112.8 108.2 L113.4 109.2 L113.9 108.2 L114.5 109 L115 109.8 L115.6 108.5 L116.1 113.9 L116.7 112.3 L117.2 110.8 L117.8 113.4 L118.3 113.8 L118.9 113.6 L119.4 114.4 L120 115.9 L120.5 114.7 L121.1 114.7 L121.6 118.5 L122.2 117.4 L122.7 117 L123.3 120.2 L123.8 116 L124.4 118.2 L124.9 121.1 L125.5 121.3 L126 122.2 L126.6 121.8 L127.1 122.5 L127.7 123.3 L128.2 124.3 L128.8 126.5 L129.3 127.8 L129.9 128 L130.4 130 L131 126.3 L131.5 129.3 L132.1 128.7 L132.6 133.7 L133.2 131.4 L133.7 133.3 L134.3 133.2 L134.8 132.1 L135.4 132.3 L135.9 135 L136.5 135.8 L137 134.2 L137.6 138.2 L138.1 135.8 L138.7 137.4 L139.2 136.9 L139.8 138.3 L140.3 134.5 L140.9 139.7 L141.4 138.9 L142 139.1 L142.5 140.1 L143.1 139.3 L143.6 136.1 L144.2 137.8 L144.7 137 L145.3 138.2 L145.8 140.3 L146.4 142 L146.9 137.2 L147.5 137.8 L148 140 L148.6 141.1 L149.1 140.8 L149.7 139.5 L150.2 141.3 L150.8 141.4 L151.3 139.6 L151.9 143.2 L152.4 138.6 L153 141.4 L153.5 141.4 L154.1 142.3 L154.6 143.5 L155.2 141 L155.7 141.8 L156.3 143.2 L156.8 145.2 L157.4 141.3 L157.9 143.7 L158.5 143 L159 141.2 L159.6 143.8 L160.1 141.3 L160.7 143.1 L161.2 143.5 L161.8 147.2 L162.3 141.8 L162.9 144.8 L163.4 144.1 L164 143.5 L164.5 143.2 L165.1 146.4 L165.6 142.9 L166.2 145.5 L166.7 143.7 L167.3 145.4 L167.8 145.7 L168.4 141.5 L168.9 142.7 L169.5 144.3 L170 144.7 L170.6 142.1 L171.1 145.4 L171.7 146.4 L172.2 144.6 L172.8 145.1 L173.3 142.7 L173.9 146.9 L174.4 148.3 L175 150.1 L175.5 145.4 L176.1 148.6 L176.6 144.2 L177.2 146 L177.7 145.5 L178.3 142.6 L178.8 144.3 L179.4 145.5 L179.9 145.5 L180.5 144.8 L181 145.6 L181.6 147.3 L182.1 147.7 L182.7 141.6 L183.2 144.9 L183.8 145.9 L184.3 141.5 L184.9 146.7 L185.4 148.4 L186 143.5 L186.5 141.8 L187.1 145.1 L187.6 148.6 L188.2 151.3 L188.7 147 L189.3 146.4 L189.8 144.8 L190.4 147.7 L190.9 145.1 L191.5 146.7 L192 148.6 L192.6 146.8 L193.1 144.8 L193.7 147.3 L194.2 148.9 L194.8 149 L195.3 143.7 L195.9 147.7 L196.4 147.8 L197 146.4 L197.5 144.9 L198.1 145.6 L198.6 145.5 L199.2 151 L199.7 147.6 L200.3 146.7 L200.8 147.9 L201.4 149.9 L201.9 147.2 L202.5 148.9 L203 148.6 L203.6 146.6 L204.1 150.4 L204.7 148 L205.2 149.7 L205.8 150.2 L206.3 146.8 L206.9 146.1 L207.4 146.5 L208 151.8 L208.5 147.8 L209.1 147 L209.6 150.7 L210.2 146.5 L210.7 151.4 L211.3 146.6 L211.8 148.5 L212.4 148.1 L212.9 148.6 L213.5 149.7 L214 149.4 L214.6 145.7 L215.1 146 L215.7 147.9 L216.2 149.5 L216.8 147.4 L217.3 146.9 L217.9 144.6 L218.4 149.1 L219 148.5 L219.5 146.2 L220.1 147.5 L220.6 150.9 L221.2 147 L221.7 146.8 L222.3 149.5 L222.8 144.8 L223.4 147.5 L223.9 147.8 L224.5 146.8 L225 147.5 L225.6 147.6 L226.1 148.5 L226.7 147.9 L227.2 149.6 L227.8 149.8 L228.3 148.3 L228.9 147.8 L229.4 144.1 L230 150.2 L230.5 148.8 L231.1 148.8 L231.6 150.3 L232.2 147.2 L232.7 147.1 L233.3 149.6 L233.8 141.9 L234.4 149.9 L234.9 148.8 L235.5 145.8 L236 146.8 L236.6 150.3 L237.1 147 L237.7 149.9 L238.2 149 L238.8 148.4" fill="none" stroke="#1a5aa2" stroke-width="1.15" stroke-linejoin="round"/>
<path d="M73.8 65.3 L74.3 64.9 L74.9 65.2 L75.4 65.4 L76 64.9 L76.5 65.2 L77.1 65 L77.6 65.3 L78.2 65 L78.7 65 L79.3 65.4 L79.8 65.3 L80.4 65.1 L80.9 64.8 L81.5 64.9 L82 65.2 L82.6 65.2 L83.1 64.9 L83.7 65.3 L84.2 65.3 L84.8 65.1 L85.3 65.2 L85.9 65.3 L86.4 65.2 L87 65.5 L87.5 65.8 L88.1 66.6 L88.6 67.7 L89.2 68.3 L89.7 68.6 L90.3 69.7 L90.8 70.2 L91.4 71.3 L91.9 72.2 L92.5 72.5 L93 74.2 L93.6 75.5 L94.1 76.1 L94.7 76.6 L95.2 78.3 L95.8 80 L96.3 81.6 L96.9 83.1 L97.4 83.9 L98 85.5 L98.5 87.9 L99.1 91.1 L99.6 90.8 L100.2 92.3 L100.7 94.5 L101.3 97.2 L101.8 97.5 L102.4 96.9 L102.9 100.6 L103.5 102.3 L104 103.7 L104.6 105 L105.1 107 L105.7 112.6 L106.2 111.9 L106.8 112.7 L107.3 112.2 L107.9 114.8 L108.4 117.3 L109 118 L109.5 119.4 L110.1 123.4 L110.6 124.4 L111.2 124.3 L111.7 122.3 L112.3 126.1 L112.8 125.2 L113.4 127 L113.9 128.9 L114.5 130.7 L115 132.8 L115.6 127.9 L116.1 134.1 L116.7 132.7 L117.2 134.5 L117.8 133.8 L118.3 139.1 L118.9 136.9 L119.4 139.2 L120 136.7 L120.5 140.7 L121.1 139.7 L121.6 138.2 L122.2 139.8 L122.7 139.3 L123.3 139.3 L123.8 143.8 L124.4 142 L124.9 141 L125.5 139 L126 144.3 L126.6 142.4 L127.1 142.2 L127.7 141.4 L128.2 146.3 L128.8 145.9 L129.3 143.1 L129.9 143 L130.4 143.5 L131 144.2 L131.5 144.8 L132.1 142.2 L132.6 143.9 L133.2 145.6 L133.7 148 L134.3 147.2 L134.8 146.6 L135.4 144.9 L135.9 147.5 L136.5 148.7 L137 149.1 L137.6 150.1 L138.1 146.9 L138.7 146.4 L139.2 150 L139.8 146.9 L140.3 149.3 L140.9 148.2 L141.4 145 L142 148.3 L142.5 147.9 L143.1 147.7 L143.6 147.5 L144.2 145.8 L144.7 147.4 L145.3 147.6 L145.8 150.8 L146.4 148.3 L146.9 149.4 L147.5 152.5 L148 145 L148.6 151.3 L149.1 149.5 L149.7 148.3 L150.2 146.6 L150.8 151.5 L151.3 150 L151.9 148.5 L152.4 147 L153 151.6 L153.5 152.7 L154.1 147.5 L154.6 149.4 L155.2 150.2 L155.7 151.4 L156.3 148.7 L156.8 153.9 L157.4 149.5 L157.9 148.9 L158.5 147.9 L159 147.3 L159.6 151.2 L160.1 149.8 L160.7 148 L161.2 147.6 L161.8 151.8 L162.3 152.2 L162.9 151.1 L163.4 150.1 L164 148.6 L164.5 152 L165.1 152.6 L165.6 150.3 L166.2 149.4 L166.7 153.5 L167.3 148.3 L167.8 150.9 L168.4 154.4 L168.9 150.2 L169.5 149.6 L170 145.3 L170.6 148.1 L171.1 149.7 L171.7 154 L172.2 147.4 L172.8 154.8 L173.3 150.1 L173.9 149.5 L174.4 151 L175 147.3 L175.5 151.1 L176.1 153.5 L176.6 145.9 L177.2 148.1 L177.7 147.3 L178.3 150.3 L178.8 150.3 L179.4 154 L179.9 147.6 L180.5 152.5 L181 148.9 L181.6 150.9 L182.1 149.7 L182.7 151.4 L183.2 148.1 L183.8 152.1 L184.3 151.5 L184.9 146.5 L185.4 148.9 L186 150.3 L186.5 147.3 L187.1 147.2 L187.6 148.2 L188.2 150.4 L188.7 150.7 L189.3 147.8 L189.8 150.8 L190.4 145.6 L190.9 154.4 L191.5 149 L192 153 L192.6 149.1 L193.1 149.3 L193.7 151 L194.2 150.7 L194.8 146.7 L195.3 148.9 L195.9 149.7 L196.4 149.2 L197 149.2 L197.5 148.9 L198.1 149.1 L198.6 151 L199.2 149.7 L199.7 149.4 L200.3 148.2 L200.8 152.5 L201.4 149.3 L201.9 153.2 L202.5 149.4 L203 147.8 L203.6 149.4 L204.1 149.2 L204.7 149.3 L205.2 149.7 L205.8 149.6 L206.3 152.4 L206.9 148 L207.4 147.7 L208 147.7 L208.5 152.4 L209.1 149.4 L209.6 150.2 L210.2 152.7 L210.7 150.1 L211.3 147 L211.8 150.7 L212.4 152.1 L212.9 154.3 L213.5 153 L214 150 L214.6 150.1 L215.1 150.1 L215.7 148.9 L216.2 152.8 L216.8 149.3 L217.3 148.9 L217.9 147.1 L218.4 146.3 L219 149.1 L219.5 150.9 L220.1 147.6 L220.6 148.6 L221.2 146.9 L221.7 147.3 L222.3 147.8 L222.8 151.6 L223.4 154.3 L223.9 152.1 L224.5 150.2 L225 148.4 L225.6 152 L226.1 147.6 L226.7 146.7 L227.2 152.1 L227.8 146.8 L228.3 151.8 L228.9 149.5 L229.4 151.5 L230 146.1 L230.5 150.7 L231.1 150.6 L231.6 150.9 L232.2 146.6 L232.7 148.6 L233.3 146.1 L233.8 152.5 L234.4 149.2 L234.9 149 L235.5 151.4 L236 148.4 L236.6 149.6 L237.1 148.6 L237.7 150.8 L238.2 144.6 L238.8 151.7 L239.3 149.6 L239.9 147.2" fill="none" stroke="#174a88" stroke-width="1.15" stroke-linejoin="round"/>
<path d="M73.8 65.6 L74.3 65.2 L74.9 65.5 L75.4 65 L76 65.2 L76.5 65.3 L77.1 64.8 L77.6 65.1 L78.2 65.2 L78.7 65.5 L79.3 65 L79.8 65.2 L80.4 65 L80.9 65.3 L81.5 65.5 L82 65.3 L82.6 64.9 L83.1 65 L83.7 64.9 L84.2 65.1 L84.8 65 L85.3 65.5 L85.9 65.3 L86.4 65.7 L87 65.4 L87.5 65.9 L88.1 66.6 L88.6 67.6 L89.2 68.4 L89.7 69.2 L90.3 69.8 L90.8 70.6 L91.4 72 L91.9 73.3 L92.5 74.2 L93 74.8 L93.6 76.9 L94.1 77.6 L94.7 78.3 L95.2 80.6 L95.8 81.3 L96.3 84.4 L96.9 85.3 L97.4 86.2 L98 87.9 L98.5 89.9 L99.1 91.2 L99.6 92.6 L100.2 96.7 L100.7 96.4 L101.3 98.1 L101.8 98.5 L102.4 103 L102.9 104.6 L103.5 106.6 L104 106.4 L104.6 110.7 L105.1 109.1 L105.7 110.5 L106.2 113.1 L106.8 114.5 L107.3 117.2 L107.9 121.3 L108.4 119.5 L109 122.7 L109.5 122.9 L110.1 122.1 L110.6 121.6 L111.2 125 L111.7 124.5 L112.3 126.1 L112.8 128.9 L113.4 128.7 L113.9 131.9 L114.5 127.9 L115 130.1 L115.6 137.7 L116.1 135.5 L116.7 135.3 L117.2 136.8 L117.8 133.8 L118.3 134.7 L118.9 139.1 L119.4 134.1 L120 139.5 L120.5 134.7 L121.1 141.8 L121.6 140.7 L122.2 139.6 L122.7 141.1 L123.3 141.2 L123.8 139.1 L124.4 138.6 L124.9 141 L125.5 142.7 L126 140.1 L126.6 142.6 L127.1 146.3 L127.7 142.5 L128.2 142.7 L128.8 140 L129.3 146.6 L129.9 143.4 L130.4 143.3 L131 141.9 L131.5 146.8 L132.1 144.9 L132.6 145.9 L133.2 144.8 L133.7 143.2 L134.3 146.4 L134.8 146.9 L135.4 144.6 L135.9 144.8 L136.5 146.4 L137 145.9 L137.6 150 L138.1 151.6 L138.7 146.4 L139.2 145.7 L139.8 149.5 L140.3 148.3 L140.9 147.8 L141.4 147.5 L142 149.6 L142.5 148.4 L143.1 148.6 L143.6 149.4 L144.2 142.7 L144.7 148.6 L145.3 148.6 L145.8 147.9 L146.4 146.9 L146.9 144.7 L147.5 143.8 L148 147.6 L148.6 144.9 L149.1 151.5 L149.7 149.6 L150.2 148 L150.8 150.8 L151.3 149.2 L151.9 148 L152.4 151.7 L153 149.3 L153.5 149 L154.1 149.9 L154.6 149.8 L155.2 150.2 L155.7 148 L156.3 148.4 L156.8 150.3 L157.4 149.4 L157.9 150 L158.5 146.4 L159 148.5 L159.6 147.8 L160.1 149.3 L160.7 150.6 L161.2 148.3 L161.8 149.5 L162.3 149.5 L162.9 150.5 L163.4 149.5 L164 148.9 L164.5 148.4 L165.1 149 L165.6 152.3 L166.2 152.7 L166.7 150.2 L167.3 147.9 L167.8 149.5 L168.4 150.8 L168.9 145.4 L169.5 148.2 L170 152.8 L170.6 149.2 L171.1 146.6 L171.7 147.9 L172.2 144.8 L172.8 148.1 L173.3 147.9 L173.9 148.1 L174.4 148.1 L175 148.1 L175.5 150.5 L176.1 149.1 L176.6 147.7 L177.2 148.6 L177.7 144.6 L178.3 148.2 L178.8 153 L179.4 151.7 L179.9 150.3 L180.5 147.1 L181 149 L181.6 153.9 L182.1 149.1 L182.7 149 L183.2 151.6 L183.8 152.7 L184.3 150.9 L184.9 152.6 L185.4 147.9 L186 152.5 L186.5 149 L187.1 150.7 L187.6 145.7 L188.2 150.4 L188.7 148.8 L189.3 150.2 L189.8 147.4 L190.4 145.9 L190.9 148.5 L191.5 150.6 L192 148.6 L192.6 147.9 L193.1 148.1 L193.7 151.9 L194.2 148.6 L194.8 146.3 L195.3 152.1 L195.9 149.1 L196.4 150.1 L197 145.8 L197.5 148.7 L198.1 150.1 L198.6 151.1 L199.2 150.4 L199.7 152 L200.3 149.8 L200.8 148.3 L201.4 146 L201.9 152.2 L202.5 150.4 L203 154.7 L203.6 153.5 L204.1 148 L204.7 151.2 L205.2 151.2 L205.8 151.4 L206.3 147.1 L206.9 148.5 L207.4 148.4 L208 151.8 L208.5 149.4 L209.1 147.2 L209.6 147.1 L210.2 148.7 L210.7 146.2 L211.3 146.9 L211.8 148.8 L212.4 151.1 L212.9 149.6 L213.5 149 L214 146.6 L214.6 146.9 L215.1 145 L215.7 149.7 L216.2 149 L216.8 147.8 L217.3 154.1 L217.9 148.7 L218.4 151.8 L219 149.2 L219.5 150.1 L220.1 146.6 L220.6 149.4 L221.2 150.8 L221.7 144.3 L222.3 152 L222.8 146.9 L223.4 148.5 L223.9 148 L224.5 151.1 L225 150.2 L225.6 147.6 L226.1 147.8 L226.7 149.8 L227.2 147.7 L227.8 147.5 L228.3 147.9 L228.9 151.1 L229.4 145.9 L230 145.9 L230.5 149.6 L231.1 147.4 L231.6 145.7 L232.2 150.1 L232.7 147.3 L233.3 146.6 L233.8 146 L234.4 151.8 L234.9 148.3 L235.5 152.1 L236 150 L236.6 147.2 L237.1 151.8 L237.7 148.8 L238.2 150.5 L238.8 145.9" fill="none" stroke="#1d5ba1" stroke-width="1.15" stroke-linejoin="round"/>
<path d="M73.8 65.3 L74.3 65.3 L74.9 65.2 L75.4 65 L76 65.2 L76.5 65.2 L77.1 65.1 L77.6 65.1 L78.2 65.1 L78.7 65.1 L79.3 65.1 L79.8 65 L80.4 65.1 L80.9 65 L81.5 64.9 L82 65.1 L82.6 65.3 L83.1 65.2 L83.7 65.2 L84.2 65.4 L84.8 65.3 L85.3 65.2 L85.9 65.2 L86.4 65.5 L87 65.3 L87.5 65.9 L88.1 66.9 L88.6 67.8 L89.2 67.8 L89.7 68.6 L90.3 68.8 L90.8 69.2 L91.4 69.4 L91.9 69.8 L92.5 70.4 L93 70.6 L93.6 70.7 L94.1 71.3 L94.7 71.6 L95.2 72.2 L95.8 73.7 L96.3 75.6 L96.9 77.1 L97.4 78.1 L98 81.2 L98.5 82.2 L99.1 82.9 L99.6 84.8 L100.2 86.5 L100.7 87.9 L101.3 90.8 L101.8 92.7 L102.4 93.2 L102.9 95.4 L103.5 97.2 L104 98.5 L104.6 99.5 L105.1 101.1 L105.7 104.3 L106.2 105.6 L106.8 107 L107.3 108.5 L107.9 110.1 L108.4 110.8 L109 110.6 L109.5 111.8 L110.1 116.9 L110.6 117 L111.2 116.5 L111.7 118.4 L112.3 121.3 L112.8 124 L113.4 124.7 L113.9 124.8 L114.5 125.8 L115 124.6 L115.6 127.6 L116.1 127.3 L116.7 129.2 L117.2 127.3 L117.8 131.5 L118.3 130.7 L118.9 133.7 L119.4 130.5 L120 134.8 L120.5 134.7 L121.1 133.9 L121.6 136.1 L122.2 134.6 L122.7 138.5 L123.3 133.9 L123.8 141.6 L124.4 135.7 L124.9 135 L125.5 134.6 L126 139 L126.6 137.9 L127.1 136.9 L127.7 137.1 L128.2 136.6 L128.8 140.4 L129.3 140.4 L129.9 140.6 L130.4 137.4 L131 141.1 L131.5 139.6 L132.1 141 L132.6 139.7 L133.2 142.4 L133.7 144 L134.3 141.9 L134.8 143 L135.4 142.5 L135.9 141 L136.5 143.7 L137 141.7 L137.6 143.8 L138.1 145.1 L138.7 146.7 L139.2 142.6 L139.8 146.2 L140.3 147.7 L140.9 145 L141.4 145.4 L142 146 L142.5 146.1 L143.1 144.7 L143.6 146.3 L144.2 140 L144.7 142.9 L145.3 145.1 L145.8 147.5 L146.4 143.2 L146.9 143.1 L147.5 144 L148 146.9 L148.6 143.7 L149.1 147 L149.7 149.3 L150.2 146.4 L150.8 148.7 L151.3 147.8 L151.9 149.3 L152.4 145.1 L153 144.4 L153.5 148 L154.1 149.5 L154.6 145.1 L155.2 147.6 L155.7 144.3 L156.3 145.5 L156.8 142.8 L157.4 145.3 L157.9 144.2 L158.5 148.7 L159 146.1 L159.6 148.4 L160.1 149.8 L160.7 142.8 L161.2 149.7 L161.8 146.5 L162.3 146.9 L162.9 145.3 L163.4 142.7 L164 144 L164.5 145.5 L165.1 143.3 L165.6 146.3 L166.2 147.6 L166.7 144.4 L167.3 145.1 L167.8 148 L168.4 143.3 L168.9 147.5 L169.5 143 L170 148.4 L170.6 146.1 L171.1 145 L171.7 145.8 L172.2 149.9 L172.8 143.6 L173.3 143.8 L173.9 148.1 L174.4 148.1 L175 145.7 L175.5 147.8 L176.1 146.1 L176.6 147.6 L177.2 146.2 L177.7 146.7 L178.3 146.7 L178.8 145.3 L179.4 146.3 L179.9 147.3 L180.5 146.6 L181 143.8 L181.6 146.9 L182.1 150.9 L182.7 148.1 L183.2 147.3 L183.8 145.7 L184.3 143.4 L184.9 145.6 L185.4 144 L186 146.7 L186.5 142.6 L187.1 146.2 L187.6 144.7 L188.2 146.4 L188.7 145.2 L189.3 147.3 L189.8 141.7 L190.4 145.3 L190.9 146.5 L191.5 148.5 L192 145.6 L192.6 144.8 L193.1 145.2 L193.7 146.9 L194.2 145.8 L194.8 143.7 L195.3 144.6 L195.9 143.9 L196.4 145.3 L197 145.6 L197.5 148 L198.1 146.2 L198.6 143.9 L199.2 145.7 L199.7 144.3 L200.3 145 L200.8 145.4 L201.4 146.1 L201.9 145.3 L202.5 146.6 L203 148.3 L203.6 148.7 L204.1 149.7 L204.7 145.2 L205.2 144.8 L205.8 145 L206.3 146.9 L206.9 145.1 L207.4 145.8 L208 143.3 L208.5 145.3 L209.1 148.6 L209.6 143.3 L210.2 144.4 L210.7 145.5 L211.3 147.1 L211.8 144.6 L212.4 148 L212.9 148.7 L213.5 148.9 L214 147 L214.6 146.1 L215.1 144.2 L215.7 146 L216.2 146.5 L216.8 141.8 L217.3 146.4 L217.9 146.6 L218.4 147.2 L219 150.6 L219.5 146.6 L220.1 147 L220.6 148 L221.2 145.9 L221.7 146.4 L222.3 142.5 L222.8 143.9 L223.4 145.1 L223.9 142.4 L224.5 147.8 L225 147.2 L225.6 147.2 L226.1 145.9 L226.7 140.5 L227.2 147.5 L227.8 145.8 L228.3 149.8 L228.9 147.7 L229.4 143.1 L230 142.2 L230.5 145.4 L231.1 145.7 L231.6 146.2 L232.2 149.5 L232.7 149.7 L233.3 147.6 L233.8 147 L234.4 145.8 L234.9 147.5 L235.5 142.3 L236 147.8 L236.6 146 L237.1 149.4 L237.7 141.9 L238.2 147.6 L238.8 147 L239.3 145.7 L239.9 149.1 L240.4 143.7 L241 143.2" fill="none" stroke="#2a6cb4" stroke-width="1.15" stroke-linejoin="round"/>
<path d="M73.8 65.2 L74.3 65.2 L74.9 65.3 L75.4 65.1 L76 64.9 L76.5 65.1 L77.1 65.2 L77.6 65.3 L78.2 65.4 L78.7 64.9 L79.3 65 L79.8 65.1 L80.4 65.2 L80.9 65.1 L81.5 65 L82 65.1 L82.6 64.9 L83.1 65 L83.7 65.2 L84.2 65.2 L84.8 65 L85.3 64.9 L85.9 65.4 L86.4 65.5 L87 65.3 L87.5 65.8 L88.1 66.7 L88.6 67.6 L89.2 68.6 L89.7 69.8 L90.3 70.5 L90.8 71 L91.4 73.1 L91.9 74.1 L92.5 74.8 L93 77.1 L93.6 78.9 L94.1 79.2 L94.7 81 L95.2 82.7 L95.8 83.7 L96.3 85.4 L96.9 86.3 L97.4 87.8 L98 89.5 L98.5 91.4 L99.1 92.8 L99.6 93.6 L100.2 95.5 L100.7 98.1 L101.3 99.7 L101.8 101.1 L102.4 103.7 L102.9 104.7 L103.5 108.9 L104 108.6 L104.6 113.6 L105.1 112.4 L105.7 111.7 L106.2 115.8 L106.8 115.6 L107.3 117 L107.9 118.8 L108.4 122.9 L109 121.9 L109.5 121.8 L110.1 122 L110.6 124.4 L111.2 126.5 L111.7 127.2 L112.3 129.2 L112.8 129.4 L113.4 131.3 L113.9 128.1 L114.5 136 L115 131.7 L115.6 134.7 L116.1 135.6 L116.7 137 L117.2 138.9 L117.8 138.5 L118.3 141.3 L118.9 137.1 L119.4 143.1 L120 140.6 L120.5 144.1 L121.1 142.7 L121.6 143.9 L122.2 144.2 L122.7 146.5 L123.3 141.2 L123.8 143.7 L124.4 145.6 L124.9 144.1 L125.5 148.6 L126 143.2 L126.6 148.7 L127.1 144.3 L127.7 141.7 L128.2 147.9 L128.8 142.4 L129.3 146.3 L129.9 149.2 L130.4 149.2 L131 148.6 L131.5 146.7 L132.1 147.7 L132.6 144.9 L133.2 146.8 L133.7 146.6 L134.3 146.8 L134.8 150.7 L135.4 148 L135.9 147.6 L136.5 147.6 L137 151.6 L137.6 149 L138.1 149.9 L138.7 150 L139.2 149.1 L139.8 151.2 L140.3 150.8 L140.9 148.3 L141.4 148.7 L142 148.3 L142.5 150 L143.1 154.5 L143.6 149.6 L144.2 152.5 L144.7 148 L145.3 150.8 L145.8 152.4 L146.4 150.6 L146.9 151 L147.5 153.9 L148 147.8 L148.6 151.8 L149.1 153.5 L149.7 153.7 L150.2 149.7 L150.8 148.7 L151.3 151.1 L151.9 149.7 L152.4 149.5 L153 149.1 L153.5 146.9 L154.1 153.5 L154.6 154 L155.2 154.2 L155.7 151.9 L156.3 149.8 L156.8 149.7 L157.4 152.3 L157.9 151 L158.5 154.3 L159 150.7 L159.6 151.8 L160.1 154.9 L160.7 150.3 L161.2 148.7 L161.8 149.6 L162.3 154.3 L162.9 153.3 L163.4 149 L164 152.9 L164.5 151.1 L165.1 154.7 L165.6 151.9 L166.2 151.4 L166.7 151.3 L167.3 152.9 L167.8 156 L168.4 150.3 L168.9 154.6 L169.5 149.9 L170 152.2 L170.6 149.5 L171.1 152.8 L171.7 148.5 L172.2 154.9 L172.8 152.8 L173.3 149.5 L173.9 150.5 L174.4 148.7 L175 153.4 L175.5 150.7 L176.1 153.6 L176.6 148 L177.2 153.2 L177.7 151.2 L178.3 155.6 L178.8 152.4 L179.4 153.5 L179.9 154.7 L180.5 154.1 L181 150 L181.6 153.3 L182.1 153.4 L182.7 152.6 L183.2 148.1 L183.8 151.8 L184.3 150.7 L184.9 153.4 L185.4 150.8 L186 151.2 L186.5 151.8 L187.1 152.1 L187.6 151.4 L188.2 148.3 L188.7 148.8 L189.3 152.9 L189.8 152.6 L190.4 151 L190.9 155.3 L191.5 149.8 L192 154.3 L192.6 149 L193.1 149.9 L193.7 152.6 L194.2 152.2 L194.8 154.9 L195.3 151.1 L195.9 150 L196.4 154.3 L197 154.7 L197.5 149.1 L198.1 146.1 L198.6 147.8 L199.2 154.3 L199.7 148 L200.3 153.1 L200.8 152.1 L201.4 151.2 L201.9 155.1 L202.5 151.3 L203 158 L203.6 154.4 L204.1 153.1 L204.7 148.8 L205.2 150.1 L205.8 152.1 L206.3 149.8 L206.9 149 L207.4 150.4 L208 151.3 L208.5 152.4 L209.1 150.9 L209.6 152.4 L210.2 150.7 L210.7 155.3 L211.3 152.7 L211.8 152.2 L212.4 150 L212.9 149.7 L213.5 150 L214 151.2 L214.6 146.5 L215.1 148.6 L215.7 150.2 L216.2 150.3 L216.8 149 L217.3 151.5 L217.9 154.9 L218.4 149.9 L219 153.7 L219.5 149.3 L220.1 151 L220.6 154.7 L221.2 154.2 L221.7 152.1 L222.3 151.5 L222.8 157 L223.4 147.2 L223.9 154.4 L224.5 150.1 L225 147.6 L225.6 154.8 L226.1 149.9 L226.7 152.7 L227.2 150.3 L227.8 153.7 L228.3 151.9 L228.9 155 L229.4 150.5 L230 150.4 L230.5 147.8 L231.1 154.1 L231.6 152.5 L232.2 151.4 L232.7 150.5 L233.3 152.8 L233.8 151.4 L234.4 151.7 L234.9 150.9 L235.5 156.5 L236 151.3 L236.6 150.6 L237.1 148.2 L237.7 153.8 L238.2 153.3 L238.8 152.8 L239.3 153.8" fill="none" stroke="#0f3d73" stroke-width="1.15" stroke-linejoin="round"/>
<path d="M73.8 65.2 L74.3 65.1 L74.9 65.2 L75.4 65 L76 65.2 L76.5 65.5 L77.1 65.2 L77.6 65.2 L78.2 65 L78.7 65 L79.3 65.2 L79.8 65 L80.4 65 L80.9 65.2 L81.5 65 L82 65.2 L82.6 65 L83.1 65.3 L83.7 64.8 L84.2 65 L84.8 65 L85.3 65.2 L85.9 65 L86.4 65.4 L87 65.2 L87.5 66.1 L88.1 66.8 L88.6 67.9 L89.2 68.8 L89.7 69.3 L90.3 70.4 L90.8 71.5 L91.4 72.4 L91.9 73.8 L92.5 75 L93 75.6 L93.6 76.3 L94.1 78.4 L94.7 80.6 L95.2 81.3 L95.8 82.8 L96.3 84.4 L96.9 86.5 L97.4 88.7 L98 88.1 L98.5 91.7 L99.1 92.5 L99.6 93.4 L100.2 97.2 L100.7 97.9 L101.3 99.4 L101.8 101.7 L102.4 102.6 L102.9 106 L103.5 106.3 L104 110.9 L104.6 110.9 L105.1 111.2 L105.7 113 L106.2 113.4 L106.8 116.9 L107.3 118.5 L107.9 116.4 L108.4 120.5 L109 122.6 L109.5 124.2 L110.1 123.5 L110.6 124.4 L111.2 126.5 L111.7 128.9 L112.3 129.5 L112.8 130.2 L113.4 130.4 L113.9 130.3 L114.5 129.9 L115 134 L115.6 133.2 L116.1 135.2 L116.7 140 L117.2 133.7 L117.8 139.2 L118.3 135.9 L118.9 137.6 L119.4 137.6 L120 139.4 L120.5 140.9 L121.1 141.1 L121.6 144.3 L122.2 140.5 L122.7 143.8 L123.3 141.5 L123.8 141 L124.4 142.9 L124.9 140.4 L125.5 145.9 L126 146.5 L126.6 143.3 L127.1 141.5 L127.7 145.6 L128.2 144.9 L128.8 146.3 L129.3 143.5 L129.9 145.8 L130.4 146.7 L131 149.9 L131.5 144.3 L132.1 147.8 L132.6 145.3 L133.2 146.9 L133.7 150.1 L134.3 144.1 L134.8 144.3 L135.4 147.2 L135.9 147 L136.5 152 L137 146.3 L137.6 152.5 L138.1 148.5 L138.7 150.8 L139.2 148 L139.8 146.2 L140.3 149.2 L140.9 151.8 L141.4 149 L142 148.4 L142.5 152.6 L143.1 144.5 L143.6 150.6 L144.2 152.2 L144.7 149.3 L145.3 150.7 L145.8 153.5 L146.4 152 L146.9 149.1 L147.5 152.4 L148 149.5 L148.6 154.5 L149.1 155.1 L149.7 154.5 L150.2 155.4 L150.8 153.8 L151.3 150 L151.9 152.2 L152.4 154.2 L153 156.7 L153.5 154.4 L154.1 157.8 L154.6 152.5 L155.2 157 L155.7 149.3 L156.3 156.3 L156.8 153.2 L157.4 156.7 L157.9 154.9 L158.5 154.2 L159 156.6 L159.6 158.3 L160.1 157.2 L160.7 160.8 L161.2 155.3 L161.8 156.5 L162.3 154.8 L162.9 157 L163.4 158.7 L164 160.1 L164.5 156.7 L165.1 153.2 L165.6 155.6 L166.2 157.2 L166.7 157.5 L167.3 159.2 L167.8 160.1 L168.4 155.9 L168.9 154.7 L169.5 153.5 L170 157.5 L170.6 161.3 L171.1 157.5 L171.7 160.5 L172.2 155 L172.8 156.4 L173.3 157.1 L173.9 155.7 L174.4 156.7 L175 158.5 L175.5 157.7 L176.1 159.5 L176.6 158.6 L177.2 158.9 L177.7 155.7 L178.3 157 L178.8 157.5 L179.4 160.9 L179.9 157.6 L180.5 157.2 L181 156.7 L181.6 160.4 L182.1 157.5 L182.7 156.1 L183.2 155.7 L183.8 155.9 L184.3 160.6 L184.9 155.8 L185.4 160.6 L186 162.6 L186.5 158 L187.1 160.7 L187.6 162.7 L188.2 156 L188.7 158.5 L189.3 165.2 L189.8 159.5 L190.4 160.2 L190.9 161.8 L191.5 157.7 L192 158.9 L192.6 159 L193.1 165.1 L193.7 160.6 L194.2 155.8 L194.8 161.8 L195.3 158.9 L195.9 159.5 L196.4 159.2 L197 157.7 L197.5 161.4 L198.1 156 L198.6 160.2 L199.2 160.8 L199.7 160.9 L200.3 159.6 L200.8 161.9 L201.4 161.7 L201.9 160 L202.5 161.9 L203 157.6 L203.6 162 L204.1 161.8 L204.7 156.8 L205.2 159.2 L205.8 161.2 L206.3 155.5 L206.9 158.1 L207.4 160 L208 161.3 L208.5 163.7 L209.1 161.6 L209.6 156.3 L210.2 156.1 L210.7 156.4 L211.3 159.1 L211.8 159.7 L212.4 157.9 L212.9 158 L213.5 160.6 L214 161.8 L214.6 162.8 L215.1 158.2 L215.7 161.5 L216.2 155.7 L216.8 158.5 L217.3 160.5 L217.9 159.3 L218.4 158 L219 158.6 L219.5 159.4 L220.1 160.7 L220.6 162 L221.2 158 L221.7 158.6 L222.3 161.2 L222.8 159.5 L223.4 158.7 L223.9 159.6 L224.5 160.6 L225 156.8 L225.6 160.9 L226.1 156.5 L226.7 156.7 L227.2 159.3 L227.8 160.7 L228.3 158.9 L228.9 160.4 L229.4 160.7 L230 162.2 L230.5 165.5 L231.1 159.9 L231.6 159.5 L232.2 158.7 L232.7 162.5 L233.3 158 L233.8 158.8 L234.4 154 L234.9 160.3 L235.5 158.4 L236 159.6 L236.6 163.7 L237.1 160.9 L237.7 159.7 L238.2 157.2 L238.8 162.5" fill="none" stroke="#111111" stroke-width="1.15" stroke-linejoin="round"/>
<path d="M86.6 65.3 L87.1 60.2 L87.4 59 L87.8 62.5 L88.4 66.5" fill="none" stroke="#10355f" stroke-width="1.2"/>
<path d="M335.8 65.2 L336.4 65.1 L336.9 65.1 L337.5 65.2 L338 65.3 L338.6 65.2 L339.1 65.1 L339.7 64.9 L340.2 65 L340.8 65 L341.3 65.3 L341.9 64.8 L342.4 65.2 L343 65 L343.5 65.2 L344.1 64.8 L344.6 65.1 L345.2 65.2 L345.7 65.1 L346.3 65.3 L346.8 65.2 L347.4 65.3 L347.9 65.1 L348.5 65.2 L349 67.5 L349.6 70.1 L350.1 71.9 L350.7 71.5 L351.2 72.2 L351.8 72.6 L352.3 73.2 L352.9 74 L353.4 74 L354 76 L354.5 76.6 L355.1 78 L355.6 80.8 L356.2 81.6 L356.7 82.6 L357.3 84.2 L357.8 86.8 L358.4 87 L358.9 91.2 L359.5 92.3 L360 94.3 L360.6 96.3 L361.1 97.8 L361.7 99.9 L362.2 100 L362.8 102.2 L363.3 102.8 L363.9 107.4 L364.4 107.1 L365 109 L365.5 108.9 L366.1 110.8 L366.6 112.2 L367.2 112.7 L367.7 113.6 L368.3 117.5 L368.8 116.4 L369.4 118.5 L369.9 119.1 L370.5 119.3 L371 120.6 L371.6 123.6 L372.1 123.9 L372.7 123.9 L373.2 125.9 L373.8 128 L374.3 129 L374.9 134.4 L375.4 133.4 L376 137.5 L376.5 134.2 L377.1 135.7 L377.6 141.9 L378.2 136 L378.7 138.2 L379.3 138.5 L379.8 140.8 L380.4 142.6 L380.9 144.7 L381.5 145.7 L382 143.3 L382.6 145.2 L383.1 142.6 L383.7 147 L384.2 143.2 L384.8 150 L385.3 143.1 L385.9 149.3 L386.4 148.6 L387 146.4 L387.5 153.4 L388.1 148.2 L388.6 154.2 L389.2 149.5 L389.7 150.7 L390.3 145.8 L390.8 149.3 L391.4 151.4 L391.9 149.5 L392.5 149.9 L393 149.2 L393.6 151.6 L394.1 150.7 L394.7 158.4 L395.2 150.9 L395.8 153.1 L396.3 154.3 L396.9 153.2 L397.4 154.6 L398 151 L398.5 152 L399.1 151.5 L399.6 150.5 L400.2 156.3 L400.7 154.6 L401.3 148.6 L401.8 154.4 L402.4 157.9 L402.9 154.6 L403.5 156.4 L404 156.6 L404.6 156.3 L405.1 153.8 L405.7 154.6 L406.2 155.2 L406.8 158.7 L407.3 155.9 L407.9 152.6 L408.4 158.6 L409 156 L409.5 156.3 L410.1 156.3 L410.6 160.2 L411.2 157 L411.7 157.1 L412.3 159.8 L412.8 157.8 L413.4 155.2 L413.9 152.4 L414.5 158.9 L415 162.3 L415.6 154.2 L416.1 154.8 L416.7 156.5 L417.2 159.8 L417.8 159.4 L418.3 155.6 L418.9 158.5 L419.4 162 L420 157.1 L420.5 162 L421.1 157.3 L421.6 158.4 L422.2 161.2 L422.7 159.9 L423.3 155.3 L423.8 162.4 L424.4 161.1 L424.9 163.4 L425.5 157.3 L426 163.3 L426.6 160.4 L427.1 165.6 L427.7 157.9 L428.2 158.7 L428.8 159.9 L429.3 157.9 L429.9 162.4 L430.4 161.7 L431 155.5 L431.5 159.6 L432.1 162.1 L432.6 161.5 L433.2 158.5 L433.7 161.1 L434.3 160.9 L434.8 159.8 L435.4 161.1 L435.9 158.7 L436.5 163.1 L437 159.6 L437.6 163.7 L438.1 154.8 L438.7 160.3 L439.2 161.1 L439.8 161.5 L440.3 159 L440.9 162.9 L441.4 160.7 L442 160.5 L442.5 163.3 L443.1 163.1 L443.6 161.8 L444.2 160.5 L444.7 160.8 L445.3 162.9 L445.8 161.9 L446.4 158.9 L446.9 162.3 L447.5 157.8 L448 161.1 L448.6 161.3 L449.1 161.8 L449.7 160.5 L450.2 159.8 L450.8 165.8 L451.3 158.5 L451.9 161 L452.4 163.4 L453 159.9 L453.5 160.9 L454.1 163.8 L454.6 162.3 L455.2 160.4 L455.7 159.8 L456.3 160.7 L456.8 167.3 L457.4 160 L457.9 161.1 L458.5 164.8 L459 159.3 L459.6 160.7 L460.1 161.1 L460.7 162.3 L461.2 160.4 L461.8 166.3 L462.3 162.4 L462.9 163.4 L463.4 161.7 L464 166 L464.5 158.7 L465.1 158.2 L465.6 161.5 L466.2 159.9 L466.7 161.8 L467.3 161.6 L467.8 161.9 L468.4 159.4 L468.9 161 L469.5 162.5 L470 159.1 L470.6 161.5 L471.1 162.7 L471.7 166.1 L472.2 164 L472.8 161.2 L473.3 160.8 L473.9 162.8 L474.4 163.1 L475 165 L475.5 157.6 L476.1 164.2 L476.6 162.6 L477.2 161.5 L477.7 159.2 L478.3 160.8 L478.8 161.9 L479.4 163.9 L479.9 164.2 L480.5 159.8 L481 164.8 L481.6 160.7 L482.1 163.2 L482.7 156.8 L483.2 161.2 L483.8 159.6 L484.3 160.9 L484.9 161.6 L485.4 163.1 L486 161.4 L486.5 158.8 L487.1 160.7 L487.6 157.9 L488.2 158.2 L488.7 166.8 L489.3 161.4 L489.8 164.1 L490.4 163.4 L490.9 164.1 L491.5 157.5 L492 163.7 L492.6 166 L493.1 165.4 L493.7 162.4 L494.2 164.7 L494.8 160.3 L495.3 165.8 L495.9 160.3 L496.4 157.8 L497 161.7 L497.5 159.5 L498.1 163.5 L498.6 162.3 L499.2 161.1 L499.7 162.4" fill="none" stroke="#111111" stroke-width="1.15" stroke-linejoin="round"/>
<path d="M335.8 65.2 L336.4 64.9 L336.9 64.8 L337.5 64.9 L338 65.2 L338.6 65.1 L339.1 65 L339.7 65.1 L340.2 65.1 L340.8 65.2 L341.3 65.1 L341.9 65.2 L342.4 65 L343 65.1 L343.5 65 L344.1 65.1 L344.6 65.3 L345.2 65 L345.7 65 L346.3 65.1 L346.8 65.3 L347.4 65.2 L347.9 65.1 L348.5 65.2 L349 65.1 L349.6 65.1 L350.1 65.1 L350.7 65.3 L351.2 65.2 L351.8 65.3 L352.3 65.4 L352.9 65.3 L353.4 65.4 L354 65.2 L354.5 65.6 L355.1 65.2 L355.6 65.2 L356.2 65.4 L356.7 65.4 L357.3 65.5 L357.8 65.5 L358.4 65.3 L358.9 65.5 L359.5 65.8 L360 65.5 L360.6 65.7 L361.1 65.6 L361.7 65.6 L362.2 65.5 L362.8 65.6 L363.3 65.5 L363.9 65.8 L364.4 65.7 L365 65.7 L365.5 65.8 L366.1 65.7 L366.6 65.9 L367.2 65.9 L367.7 66 L368.3 65.9 L368.8 66.1 L369.4 65.9 L369.9 66 L370.5 66.1 L371 66.1 L371.6 66.1 L372.1 65.8 L372.7 66.2 L373.2 66.2 L373.8 66.1 L374.3 66.3 L374.9 66.4 L375.4 66.3 L376 66.4 L376.5 66.3 L377.1 66.3 L377.6 66.4 L378.2 66.3 L378.7 66.4 L379.3 66.5 L379.8 66.5 L380.4 66.5 L380.9 66.4 L381.5 66.7 L382 66.6 L382.6 66.6 L383.1 66.7 L383.7 66.8 L384.2 66.6 L384.8 66.7 L385.3 66.9 L385.9 66.7 L386.4 66.9 L387 67.1 L387.5 66.8 L388.1 66.9 L388.6 67 L389.2 67.1 L389.7 67 L390.3 66.9 L390.8 66.9 L391.4 67.1 L391.9 66.9 L392.5 67.4 L393 67.1 L393.6 67.3 L394.1 67.3 L394.7 67.3 L395.2 67.3 L395.8 67.2 L396.3 67.3 L396.9 67.4 L397.4 67.4 L398 67.5 L398.5 67.5 L399.1 67.6 L399.6 67.4 L400.2 67.6 L400.7 67.7 L401.3 67.6 L401.8 67.6 L402.4 67.7 L402.9 67.8 L403.5 67.6 L404 67.6 L404.6 67.8 L405.1 67.9 L405.7 67.7 L406.2 67.8 L406.8 67.9 L407.3 68.2 L407.9 67.9 L408.4 67.9 L409 67.9 L409.5 68.1 L410.1 68 L410.6 67.8 L411.2 67.9 L411.7 67.9 L412.3 68 L412.8 68.1 L413.4 68.2 L413.9 68 L414.5 68.2 L415 68 L415.6 68.3 L416.1 68.2 L416.7 68.3 L417.2 68.1 L417.8 68.2 L418.3 68.3 L418.9 68.5 L419.4 68.4 L420 68.5 L420.5 68.4 L421.1 68.5 L421.6 68.4 L422.2 68.6 L422.7 68.5 L423.3 68.5 L423.8 68.6 L424.4 68.6 L424.9 68.5 L425.5 68.7 L426 68.5 L426.6 68.7 L427.1 68.5 L427.7 68.7 L428.2 68.6 L428.8 68.7 L429.3 68.7 L429.9 68.7 L430.4 68.6 L431 68.7 L431.5 68.7 L432.1 68.8 L432.6 68.8 L433.2 68.8 L433.7 69 L434.3 68.8 L434.8 68.9 L435.4 68.6 L435.9 68.8 L436.5 68.9 L437 68.8 L437.6 68.9 L438.1 69 L438.7 69.1 L439.2 69 L439.8 69 L440.3 68.9 L440.9 69 L441.4 69.3 L442 69.1 L442.5 69.1 L443.1 69.1 L443.6 69.3 L444.2 69.2 L444.7 69.4 L445.3 69.2 L445.8 69.2 L446.4 69.2 L446.9 69.2 L447.5 69.2 L448 69.1 L448.6 69.3 L449.1 69.4 L449.7 69.3 L450.2 69.3 L450.8 69.4 L451.3 69.4 L451.9 69.4 L452.4 69.5 L453 69.6 L453.5 69.4 L454.1 69.4 L454.6 69.6 L455.2 69.5 L455.7 69.7 L456.3 69.6 L456.8 69.6 L457.4 69.5 L457.9 69.5 L458.5 69.7 L459 69.6 L459.6 69.6 L460.1 69.6 L460.7 69.6 L461.2 69.6 L461.8 69.7 L462.3 69.6 L462.9 69.8 L463.4 69.8 L464 69.7 L464.5 69.7 L465.1 69.9 L465.6 69.9 L466.2 69.9 L466.7 69.7 L467.3 69.8 L467.8 69.8 L468.4 69.9 L468.9 70 L469.5 70 L470 70 L470.6 69.8 L471.1 70.1 L471.7 69.9 L472.2 70.1 L472.8 70.1 L473.3 69.8 L473.9 70 L474.4 70 L475 70 L475.5 70.1 L476.1 70.1 L476.6 69.8 L477.2 70.1 L477.7 70.1 L478.3 70.2 L478.8 70.3 L479.4 70.3 L479.9 70.2 L480.5 70.2 L481 70.3 L481.6 69.9 L482.1 70.1 L482.7 70.3 L483.2 70.3 L483.8 70.4 L484.3 70.3 L484.9 70.4 L485.4 70.3 L486 70.4 L486.5 70.2 L487.1 70.2 L487.6 70.3 L488.2 70.3 L488.7 70.6 L489.3 70.5 L489.8 70.4 L490.4 70.6 L490.9 70.5 L491.5 70.3 L492 70.5 L492.6 70.5 L493.1 70.6 L493.7 70.6 L494.2 70.4 L494.8 70.4 L495.3 70.5 L495.9 70.7 L496.4 70.7 L497 70.7 L497.5 70.8 L498.1 70.4 L498.6 70.4 L499.2 70.6 L499.7 70.6 L500.3 70.7" fill="none" stroke="#a6a6a6" stroke-width="1.0" stroke-linejoin="round"/>
<path d="M335.8 65.7 L336.4 65 L336.9 64.8 L337.5 65 L338 64.8 L338.6 65.6 L339.1 65.4 L339.7 65.3 L340.2 65.5 L340.8 64.9 L341.3 64.7 L341.9 65.2 L342.4 65.2 L343 64.8 L343.5 65.3 L344.1 65.6 L344.6 65 L345.2 65.2 L345.7 65.3 L346.3 65.3 L346.8 65.5 L347.4 65.4 L347.9 65.7 L348.5 65 L349 65.2 L349.6 65.6 L350.1 65.3 L350.7 65.3 L351.2 65.5 L351.8 65.7 L352.3 65.5 L352.9 65.9 L353.4 66.2 L354 65.3 L354.5 65.3 L355.1 66.3 L355.6 65.9 L356.2 66.6 L356.7 67.1 L357.3 66.3 L357.8 66.3 L358.4 66.5 L358.9 66.6 L359.5 66.5 L360 66.3 L360.6 66.8 L361.1 66.1 L361.7 66.8 L362.2 66.8 L362.8 67.2 L363.3 66.9 L363.9 67 L364.4 66.6 L365 67 L365.5 67.2 L366.1 67.3 L366.6 67.1 L367.2 67.5 L367.7 67.5 L368.3 66.9 L368.8 66.4 L369.4 66.8 L369.9 67.2 L370.5 67.3 L371 67.2 L371.6 67.2 L372.1 67.5 L372.7 67.2 L373.2 66.7 L373.8 67.3 L374.3 67.8 L374.9 67.2 L375.4 67.7 L376 67.7 L376.5 67.5 L377.1 67.7 L377.6 67.3 L378.2 67.6 L378.7 68.1 L379.3 67.7 L379.8 67.4 L380.4 68.2 L380.9 67.3 L381.5 68.3 L382 67.8 L382.6 68 L383.1 68 L383.7 67.9 L384.2 68.2 L384.8 67.9 L385.3 67.7 L385.9 68 L386.4 67.4 L387 68 L387.5 67.5 L388.1 68 L388.6 68.3 L389.2 68.3 L389.7 68.1 L390.3 67.3 L390.8 68 L391.4 68.6 L391.9 68 L392.5 68.4 L393 68 L393.6 68.7 L394.1 67.6 L394.7 68.1 L395.2 68.2 L395.8 68.5 L396.3 68.3 L396.9 68.4 L397.4 67.7 L398 69 L398.5 68.5 L399.1 68.2 L399.6 68.9 L400.2 68.1 L400.7 68.6 L401.3 68.8 L401.8 68.8 L402.4 68.6 L402.9 68.5 L403.5 68.3 L404 68.7 L404.6 68.2 L405.1 68.9 L405.7 68.9 L406.2 68.7 L406.8 68.1 L407.3 68.9 L407.9 68.9 L408.4 68.4 L409 68.6 L409.5 68.8 L410.1 69 L410.6 68.7 L411.2 68.5 L411.7 68.7 L412.3 68.5 L412.8 69.4 L413.4 69.4 L413.9 68.2 L414.5 68.8 L415 69.4 L415.6 69.4 L416.1 69.6 L416.7 69.3 L417.2 69.1 L417.8 69.1 L418.3 69.4 L418.9 69.2 L419.4 68.5 L420 69.1 L420.5 68.5 L421.1 69.3 L421.6 69.2 L422.2 69 L422.7 69.2 L423.3 68.6 L423.8 69 L424.4 69 L424.9 69.2 L425.5 69.1 L426 69.2 L426.6 69.3 L427.1 68.8 L427.7 68.8 L428.2 69.6 L428.8 69 L429.3 69.2 L429.9 69.5 L430.4 69.2 L431 70 L431.5 69 L432.1 69.1 L432.6 68.7 L433.2 69.6 L433.7 69.2 L434.3 69.5 L434.8 69.5 L435.4 70.1 L435.9 69.6 L436.5 69.3 L437 69.3 L437.6 69.7 L438.1 68.8 L438.7 69.3 L439.2 69 L439.8 69.2 L440.3 69.8 L440.9 69.2 L441.4 69.3 L442 69.8 L442.5 69 L443.1 69.6 L443.6 69.2 L444.2 69.6 L444.7 69.4 L445.3 69.9 L445.8 69.6 L446.4 69.7 L446.9 70.1 L447.5 69.6 L448 70 L448.6 69.9 L449.1 69.9 L449.7 69.4 L450.2 69.7 L450.8 69.7 L451.3 69.9 L451.9 70.1 L452.4 70 L453 69.9 L453.5 69.6 L454.1 69.6 L454.6 69.9 L455.2 69.4 L455.7 69.7 L456.3 69.8 L456.8 70 L457.4 70 L457.9 69.5 L458.5 70.1 L459 69.3 L459.6 69.7 L460.1 70.2 L460.7 69.8 L461.2 70.1 L461.8 70.7 L462.3 69.9 L462.9 69.9 L463.4 69.3 L464 70.1 L464.5 70.5 L465.1 70.1 L465.6 70.1 L466.2 71 L466.7 70.1 L467.3 70.2 L467.8 70.2 L468.4 69.8 L468.9 70.4 L469.5 70.6 L470 70.5 L470.6 70.5 L471.1 70 L471.7 70.1 L472.2 71.1 L472.8 69.9 L473.3 69.8 L473.9 70.3 L474.4 69.8 L475 69.9 L475.5 69.9 L476.1 70 L476.6 70.3 L477.2 70.6 L477.7 70.5 L478.3 70.7 L478.8 70.3 L479.4 69.6 L479.9 70.2 L480.5 69.9 L481 70.6 L481.6 70.7 L482.1 70.4 L482.7 70.5 L483.2 70.8 L483.8 71 L484.3 70.4 L484.9 70.9 L485.4 70.5 L486 71 L486.5 69.8 L487.1 70.6 L487.6 70.8 L488.2 70.3 L488.7 70 L489.3 70.4 L489.8 70.7 L490.4 71 L490.9 71 L491.5 70.9 L492 70.4 L492.6 70.5 L493.1 71.1 L493.7 71.2 L494.2 71 L494.8 71.6 L495.3 70.8 L495.9 71 L496.4 71.1 L497 71 L497.5 70.6 L498.1 70.7 L498.6 71.1 L499.2 71.3 L499.7 71.7 L500.3 71.2" fill="none" stroke="#df3a30" stroke-width="1.3" stroke-linejoin="round"/>
<path d="M335.8 65.1 L336.4 65.1 L336.9 65.3 L337.5 65.4 L338 65 L338.6 65.5 L339.1 65.3 L339.7 65 L340.2 65 L340.8 65.1 L341.3 65 L341.9 64.9 L342.4 64.8 L343 65.2 L343.5 65 L344.1 65.4 L344.6 65.5 L345.2 65.1 L345.7 65.4 L346.3 65.1 L346.8 65.5 L347.4 65.4 L347.9 65 L348.5 65.2 L349 65.3 L349.6 65.4 L350.1 65.6 L350.7 65.1 L351.2 65.5 L351.8 66 L352.3 65.5 L352.9 65.6 L353.4 65.8 L354 65.6 L354.5 66.1 L355.1 66.1 L355.6 66.3 L356.2 66.4 L356.7 66.7 L357.3 66.4 L357.8 66.6 L358.4 66.3 L358.9 67 L359.5 66.9 L360 67.1 L360.6 67.1 L361.1 67.3 L361.7 67.6 L362.2 67.5 L362.8 67.7 L363.3 67.8 L363.9 67.9 L364.4 68.3 L365 68.1 L365.5 68.3 L366.1 68.3 L366.6 68.6 L367.2 68.8 L367.7 68.8 L368.3 69.1 L368.8 69.6 L369.4 69.4 L369.9 69.6 L370.5 70.2 L371 70.2 L371.6 70.6 L372.1 70.3 L372.7 70.8 L373.2 71.8 L373.8 71.6 L374.3 71.7 L374.9 72.1 L375.4 72 L376 72.3 L376.5 72.8 L377.1 73.3 L377.6 72.7 L378.2 74.4 L378.7 73.6 L379.3 74.1 L379.8 73.6 L380.4 74.3 L380.9 75 L381.5 75.4 L382 75 L382.6 75.2 L383.1 75.6 L383.7 76.9 L384.2 76.3 L384.8 77.2 L385.3 77.1 L385.9 77.9 L386.4 77.7 L387 77.5 L387.5 77.5 L388.1 78.6 L388.6 78.4 L389.2 78.7 L389.7 79.3 L390.3 79.1 L390.8 79.5 L391.4 79.1 L391.9 79.1 L392.5 79.3 L393 79.8 L393.6 81 L394.1 80.7 L394.7 80.8 L395.2 80.6 L395.8 81.3 L396.3 82.5 L396.9 82.5 L397.4 82.4 L398 82.5 L398.5 83.3 L399.1 83.3 L399.6 84.1 L400.2 84.4 L400.7 84.8 L401.3 84.3 L401.8 84.3 L402.4 86.2 L402.9 85 L403.5 85.5 L404 86.3 L404.6 87.1 L405.1 87.1 L405.7 88.2 L406.2 87.2 L406.8 87.6 L407.3 88.3 L407.9 89.6 L408.4 89.9 L409 89.8 L409.5 91 L410.1 91.1 L410.6 91.3 L411.2 91.4 L411.7 92.6 L412.3 92.4 L412.8 93.3 L413.4 93.2 L413.9 94 L414.5 94.7 L415 95 L415.6 96.2 L416.1 96.5 L416.7 96.8 L417.2 98.2 L417.8 97 L418.3 99.6 L418.9 97.8 L419.4 100.7 L420 101.4 L420.5 102.2 L421.1 101.9 L421.6 102.8 L422.2 103.5 L422.7 103.4 L423.3 104.2 L423.8 105.3 L424.4 105.4 L424.9 105.6 L425.5 106.6 L426 107.1 L426.6 109 L427.1 107.4 L427.7 108.2 L428.2 110.3 L428.8 109.7 L429.3 109.9 L429.9 111.7 L430.4 113 L431 114.2 L431.5 112.5 L432.1 113.9 L432.6 115.3 L433.2 116.2 L433.7 117.3 L434.3 117.7 L434.8 117.8 L435.4 117.3 L435.9 119 L436.5 122.3 L437 122.7 L437.6 122.4 L438.1 121.1 L438.7 122.4 L439.2 124.9 L439.8 122.1 L440.3 123.5 L440.9 125.9 L441.4 123.2 L442 127.3 L442.5 126.2 L443.1 130.6 L443.6 127.9 L444.2 129.3 L444.7 129.5 L445.3 131.8 L445.8 129.6 L446.4 131 L446.9 129.9 L447.5 128.7 L448 131.4 L448.6 132.1 L449.1 131.3 L449.7 131.3 L450.2 133.5 L450.8 133.6 L451.3 133.4 L451.9 138.3 L452.4 134.3 L453 136.7 L453.5 133.4 L454.1 138 L454.6 135.2 L455.2 134.9 L455.7 135.5 L456.3 136.2 L456.8 135.7 L457.4 135.2 L457.9 136.8 L458.5 135.8 L459 137.2 L459.6 137.4 L460.1 136.6 L460.7 138.7 L461.2 138.4 L461.8 138.4 L462.3 137.4 L462.9 135.3 L463.4 143.6 L464 140.6 L464.5 139.5 L465.1 141.1 L465.6 140.7 L466.2 140.7 L466.7 138.4 L467.3 139 L467.8 142.8 L468.4 143.8 L468.9 144.4 L469.5 140.2 L470 144.1 L470.6 147.3 L471.1 144.3 L471.7 144.5 L472.2 144.4 L472.8 140.5 L473.3 145.6 L473.9 145.9 L474.4 144.2 L475 143.2 L475.5 144 L476.1 145.5 L476.6 147 L477.2 145.4 L477.7 146 L478.3 145.7 L478.8 144.6 L479.4 144.2 L479.9 146.4 L480.5 145.8 L481 146.6 L481.6 150.8 L482.1 148.1 L482.7 144.4 L483.2 148 L483.8 147.5 L484.3 151 L484.9 148.5 L485.4 150.1 L486 149.1 L486.5 148.8 L487.1 144.5 L487.6 150.1 L488.2 151.8 L488.7 147.5 L489.3 151.5 L489.8 146 L490.4 148.9 L490.9 149.3 L491.5 150.9 L492 150.6 L492.6 147.9 L493.1 152.8 L493.7 146.5 L494.2 147.9 L494.8 148.1 L495.3 145.3 L495.9 147.2 L496.4 149.5 L497 153.1 L497.5 152.3 L498.1 149.5 L498.6 150.6 L499.2 144.6 L499.7 150.1" fill="none" stroke="#e52a24" stroke-width="1.15" stroke-linejoin="round"/>
<path d="M335.8 65.3 L336.4 65.2 L336.9 65.5 L337.5 65.3 L338 65.1 L338.6 65 L339.1 65 L339.7 65.2 L340.2 64.8 L340.8 65.1 L341.3 64.9 L341.9 65 L342.4 65 L343 65.3 L343.5 65.2 L344.1 65.4 L344.6 65.3 L345.2 65 L345.7 65.2 L346.3 65.1 L346.8 65.6 L347.4 65.1 L347.9 65.3 L348.5 65.1 L349 65.4 L349.6 65.6 L350.1 65.5 L350.7 65.6 L351.2 65.7 L351.8 65.5 L352.3 65.5 L352.9 65.7 L353.4 65.8 L354 65.8 L354.5 65.7 L355.1 66.2 L355.6 66.1 L356.2 66.5 L356.7 66.4 L357.3 66.4 L357.8 66.9 L358.4 67.1 L358.9 67.1 L359.5 67.1 L360 67.1 L360.6 67.8 L361.1 67.3 L361.7 67.9 L362.2 68.3 L362.8 68 L363.3 67.7 L363.9 68.4 L364.4 68.5 L365 68.9 L365.5 68.4 L366.1 68.9 L366.6 68.5 L367.2 69.1 L367.7 69.5 L368.3 69.5 L368.8 69.4 L369.4 69.4 L369.9 69.7 L370.5 69.7 L371 69.9 L371.6 70.1 L372.1 69.9 L372.7 70.2 L373.2 70.6 L373.8 70.3 L374.3 71 L374.9 71.3 L375.4 71 L376 71.5 L376.5 71.6 L377.1 71.3 L377.6 72.3 L378.2 72.5 L378.7 72.2 L379.3 72.7 L379.8 72.7 L380.4 73.6 L380.9 73.3 L381.5 73.9 L382 74 L382.6 73.5 L383.1 74.6 L383.7 74.4 L384.2 74.9 L384.8 75.6 L385.3 75.3 L385.9 75.2 L386.4 75.6 L387 75.6 L387.5 76.3 L388.1 76.7 L388.6 75.3 L389.2 76.3 L389.7 76.6 L390.3 77.4 L390.8 77.1 L391.4 77.9 L391.9 78.1 L392.5 77.3 L393 77.8 L393.6 78.1 L394.1 77.7 L394.7 78.1 L395.2 77.9 L395.8 78.8 L396.3 78.6 L396.9 79.4 L397.4 79.6 L398 79.6 L398.5 79.9 L399.1 79.6 L399.6 80.8 L400.2 80.6 L400.7 80.4 L401.3 80.3 L401.8 80.8 L402.4 80.8 L402.9 82 L403.5 81.6 L404 81.2 L404.6 81.6 L405.1 81.6 L405.7 82.6 L406.2 83.3 L406.8 83.6 L407.3 83.7 L407.9 84.2 L408.4 85.2 L409 85 L409.5 85 L410.1 84.3 L410.6 85.3 L411.2 86 L411.7 87.3 L412.3 86.1 L412.8 87.1 L413.4 86.7 L413.9 86.6 L414.5 88.7 L415 87.8 L415.6 89.2 L416.1 89 L416.7 88.4 L417.2 90.9 L417.8 90.7 L418.3 89.9 L418.9 93.4 L419.4 95.2 L420 93.7 L420.5 94.8 L421.1 95.4 L421.6 95.4 L422.2 97.3 L422.7 96.2 L423.3 97.8 L423.8 100.7 L424.4 100.5 L424.9 100.8 L425.5 101.8 L426 101.8 L426.6 101.7 L427.1 102.7 L427.7 102.3 L428.2 102.1 L428.8 104.9 L429.3 104.3 L429.9 106.2 L430.4 107.6 L431 107.2 L431.5 108 L432.1 107.5 L432.6 108.3 L433.2 109.3 L433.7 109.8 L434.3 111.7 L434.8 111 L435.4 114.2 L435.9 113.2 L436.5 114.8 L437 116 L437.6 115.6 L438.1 117.2 L438.7 116.2 L439.2 119 L439.8 119.9 L440.3 119.9 L440.9 119.2 L441.4 122.1 L442 119.4 L442.5 121.6 L443.1 122.3 L443.6 124.3 L444.2 122.1 L444.7 123.4 L445.3 123.7 L445.8 122.7 L446.4 123.6 L446.9 127.5 L447.5 127.7 L448 127.5 L448.6 129.7 L449.1 129.7 L449.7 128.8 L450.2 129 L450.8 132 L451.3 129.6 L451.9 133.2 L452.4 133.5 L453 136.3 L453.5 136.7 L454.1 133.7 L454.6 134.7 L455.2 137.8 L455.7 135.4 L456.3 132.7 L456.8 133.6 L457.4 136 L457.9 134.3 L458.5 134.9 L459 136.4 L459.6 136.1 L460.1 138.1 L460.7 139.8 L461.2 137.1 L461.8 138.3 L462.3 136.3 L462.9 139 L463.4 136 L464 139.4 L464.5 141 L465.1 139.2 L465.6 138.8 L466.2 140.2 L466.7 140.1 L467.3 138.3 L467.8 140.4 L468.4 144.4 L468.9 143.1 L469.5 142.3 L470 141.1 L470.6 142.8 L471.1 139.7 L471.7 145.8 L472.2 144.6 L472.8 142.1 L473.3 143.5 L473.9 141.3 L474.4 140.7 L475 142.3 L475.5 144.5 L476.1 144.3 L476.6 143.8 L477.2 142.8 L477.7 145.7 L478.3 148.9 L478.8 144 L479.4 144.5 L479.9 144.1 L480.5 144.8 L481 142 L481.6 146.6 L482.1 143.4 L482.7 142.8 L483.2 145.9 L483.8 148.2 L484.3 146.1 L484.9 142.4 L485.4 146.9 L486 148.1 L486.5 145.4 L487.1 148.7 L487.6 147.1 L488.2 148.6 L488.7 149.1 L489.3 146.3 L489.8 146.8 L490.4 147.7 L490.9 148.3 L491.5 145.7 L492 146.6 L492.6 148.6 L493.1 149.6 L493.7 144.1 L494.2 147.8 L494.8 150.5 L495.3 151.7 L495.9 145.7 L496.4 146.2 L497 147.1 L497.5 148.5 L498.1 148.4 L498.6 147.7 L499.2 147 L499.7 147" fill="none" stroke="#e8332a" stroke-width="1.15" stroke-linejoin="round"/>
<path d="M335.8 65.1 L336.4 65.5 L336.9 65.4 L337.5 65.2 L338 65.2 L338.6 65.1 L339.1 65.2 L339.7 65.3 L340.2 65.1 L340.8 65.3 L341.3 65.1 L341.9 65.2 L342.4 64.8 L343 65.4 L343.5 65.1 L344.1 65.3 L344.6 65 L345.2 65.5 L345.7 65.1 L346.3 64.9 L346.8 65.1 L347.4 65.3 L347.9 65.1 L348.5 65.4 L349 65.3 L349.6 65 L350.1 65.2 L350.7 65.4 L351.2 65.5 L351.8 65.6 L352.3 65.6 L352.9 65.6 L353.4 65.9 L354 66.2 L354.5 66.1 L355.1 66.2 L355.6 66.4 L356.2 66.9 L356.7 66.8 L357.3 66.5 L357.8 67.3 L358.4 67.4 L358.9 67.4 L359.5 67.4 L360 67.8 L360.6 67.3 L361.1 68.4 L361.7 68.2 L362.2 68.5 L362.8 69 L363.3 69.1 L363.9 69.2 L364.4 69.3 L365 70.1 L365.5 70.1 L366.1 70.7 L366.6 70.8 L367.2 71.6 L367.7 71.6 L368.3 72.6 L368.8 72 L369.4 72.8 L369.9 72.7 L370.5 73.5 L371 74 L371.6 74 L372.1 75 L372.7 75.2 L373.2 75.6 L373.8 75.5 L374.3 76 L374.9 76.5 L375.4 76.9 L376 76.6 L376.5 77 L377.1 78.2 L377.6 78.1 L378.2 79 L378.7 79.2 L379.3 80 L379.8 79.9 L380.4 79.9 L380.9 81.2 L381.5 81.6 L382 81.5 L382.6 81.8 L383.1 83 L383.7 82 L384.2 83 L384.8 83.4 L385.3 83.7 L385.9 84.2 L386.4 84.7 L387 84.1 L387.5 84.6 L388.1 85.5 L388.6 85.7 L389.2 85.7 L389.7 85.5 L390.3 86.4 L390.8 86.5 L391.4 87.4 L391.9 87 L392.5 87.5 L393 88.6 L393.6 89.3 L394.1 88.2 L394.7 88.7 L395.2 89.9 L395.8 87.8 L396.3 90.2 L396.9 90.3 L397.4 90.8 L398 90.1 L398.5 91.3 L399.1 90.9 L399.6 90.9 L400.2 93.1 L400.7 93.4 L401.3 92.8 L401.8 94.1 L402.4 92.6 L402.9 95.1 L403.5 96.5 L404 96.3 L404.6 96.2 L405.1 96.2 L405.7 97 L406.2 96.9 L406.8 98.1 L407.3 100 L407.9 100.5 L408.4 100.2 L409 101.8 L409.5 104.5 L410.1 104.1 L410.6 105 L411.2 106 L411.7 106.2 L412.3 106.9 L412.8 107.3 L413.4 112.3 L413.9 110.6 L414.5 110.3 L415 113 L415.6 115.8 L416.1 113.7 L416.7 114.2 L417.2 115.5 L417.8 118.8 L418.3 119.8 L418.9 122.4 L419.4 120.2 L420 121.3 L420.5 122.3 L421.1 123.5 L421.6 125.6 L422.2 124.6 L422.7 123.3 L423.3 125.8 L423.8 125.5 L424.4 128.3 L424.9 130.1 L425.5 129.3 L426 132.1 L426.6 132.6 L427.1 130.6 L427.7 130.6 L428.2 136.5 L428.8 134.2 L429.3 137.9 L429.9 134.6 L430.4 134 L431 136.5 L431.5 134.9 L432.1 135.9 L432.6 136.7 L433.2 140.6 L433.7 137.1 L434.3 142.2 L434.8 137.9 L435.4 138.9 L435.9 141.3 L436.5 143.2 L437 139.4 L437.6 140.7 L438.1 140.9 L438.7 144.3 L439.2 140.8 L439.8 142.1 L440.3 148 L440.9 147 L441.4 144.9 L442 144.3 L442.5 144.3 L443.1 143.5 L443.6 142.6 L444.2 143.9 L444.7 146.6 L445.3 146.7 L445.8 148.8 L446.4 145.4 L446.9 143.7 L447.5 146.8 L448 148.4 L448.6 142 L449.1 146 L449.7 148.1 L450.2 145.7 L450.8 142.2 L451.3 148.9 L451.9 141.7 L452.4 145.6 L453 148.8 L453.5 145.1 L454.1 151.2 L454.6 148.4 L455.2 146.9 L455.7 144 L456.3 149.4 L456.8 147.7 L457.4 151 L457.9 144.8 L458.5 151.1 L459 149.5 L459.6 147 L460.1 150.2 L460.7 148.3 L461.2 145.9 L461.8 149.5 L462.3 153.3 L462.9 144.8 L463.4 149.7 L464 149.8 L464.5 149.2 L465.1 152.6 L465.6 150 L466.2 152 L466.7 150 L467.3 151.5 L467.8 151.7 L468.4 149.5 L468.9 148.9 L469.5 150.4 L470 152 L470.6 149.6 L471.1 149 L471.7 152.1 L472.2 152.3 L472.8 147.8 L473.3 149.6 L473.9 150.4 L474.4 151.4 L475 148 L475.5 146.2 L476.1 151.4 L476.6 149.6 L477.2 150 L477.7 150.2 L478.3 151.1 L478.8 150.4 L479.4 148.2 L479.9 150.9 L480.5 149.3 L481 152.9 L481.6 150.1 L482.1 150 L482.7 148.5 L483.2 149.1 L483.8 151.8 L484.3 151.6 L484.9 152.9 L485.4 150.6 L486 152.7 L486.5 149.4 L487.1 153.8 L487.6 152.5 L488.2 152.3 L488.7 147.7 L489.3 156.6 L489.8 149.1 L490.4 151.1 L490.9 152.7 L491.5 148.4 L492 153.5 L492.6 153.5 L493.1 153.2 L493.7 148.5 L494.2 154.8 L494.8 155.7 L495.3 153.9 L495.9 155.3 L496.4 152.2 L497 153.3 L497.5 145.5 L498.1 152.2 L498.6 154.4 L499.2 150 L499.7 156.7" fill="none" stroke="#e22822" stroke-width="1.15" stroke-linejoin="round"/>
<path d="M335.8 65.3 L336.4 65.2 L336.9 65.4 L337.5 65.2 L338 65.1 L338.6 65.1 L339.1 64.9 L339.7 64.8 L340.2 65.1 L340.8 65.3 L341.3 65 L341.9 65 L342.4 65 L343 65.2 L343.5 65.2 L344.1 65.5 L344.6 65 L345.2 65.3 L345.7 65.2 L346.3 65.1 L346.8 65.4 L347.4 65.2 L347.9 65.2 L348.5 65.4 L349 65.3 L349.6 65.6 L350.1 66 L350.7 66.3 L351.2 66.5 L351.8 66.9 L352.3 67.8 L352.9 67.7 L353.4 67.9 L354 68.6 L354.5 68.8 L355.1 68.8 L355.6 68.9 L356.2 69.1 L356.7 69 L357.3 69.6 L357.8 70.5 L358.4 70.6 L358.9 71 L359.5 71.5 L360 72.1 L360.6 72.9 L361.1 73.2 L361.7 74.2 L362.2 75 L362.8 75.1 L363.3 76.2 L363.9 76.9 L364.4 77.4 L365 78.9 L365.5 79 L366.1 79.2 L366.6 79.8 L367.2 80.3 L367.7 82.1 L368.3 82.5 L368.8 83.3 L369.4 84.7 L369.9 84.6 L370.5 83.9 L371 85.4 L371.6 85.4 L372.1 85.1 L372.7 85.5 L373.2 87.3 L373.8 87.3 L374.3 86.8 L374.9 87.7 L375.4 88.4 L376 87.7 L376.5 88.2 L377.1 87.1 L377.6 88.6 L378.2 88.3 L378.7 89.6 L379.3 89.2 L379.8 90.4 L380.4 89.2 L380.9 89.6 L381.5 90.3 L382 91.3 L382.6 91.6 L383.1 91.5 L383.7 91 L384.2 92.6 L384.8 93.5 L385.3 92.9 L385.9 91.6 L386.4 95.1 L387 94.8 L387.5 95.6 L388.1 94.8 L388.6 95.8 L389.2 97.2 L389.7 96.4 L390.3 98.5 L390.8 99.3 L391.4 101.3 L391.9 101.4 L392.5 101.6 L393 102.9 L393.6 104.8 L394.1 105 L394.7 102.9 L395.2 106.7 L395.8 108.1 L396.3 110.8 L396.9 111.9 L397.4 112.8 L398 115.9 L398.5 116.3 L399.1 116.5 L399.6 117.9 L400.2 119.8 L400.7 118.4 L401.3 121 L401.8 120.9 L402.4 122.9 L402.9 125.2 L403.5 129.3 L404 131.3 L404.6 132.9 L405.1 133 L405.7 132.2 L406.2 131 L406.8 137 L407.3 133.8 L407.9 136.1 L408.4 132.8 L409 138.4 L409.5 131.7 L410.1 132.9 L410.6 136.2 L411.2 140.3 L411.7 137.8 L412.3 139.4 L412.8 137.8 L413.4 143.1 L413.9 142.1 L414.5 142.5 L415 139.4 L415.6 142.7 L416.1 141.4 L416.7 142.5 L417.2 140.9 L417.8 138.8 L418.3 140.4 L418.9 142.5 L419.4 141 L420 142.5 L420.5 144.4 L421.1 142.2 L421.6 142.8 L422.2 142.2 L422.7 144.8 L423.3 147.9 L423.8 144.3 L424.4 140.1 L424.9 144.7 L425.5 142.9 L426 143.5 L426.6 141.7 L427.1 146.1 L427.7 141.1 L428.2 141.8 L428.8 146.8 L429.3 144.9 L429.9 146.6 L430.4 145 L431 143 L431.5 145.5 L432.1 146.2 L432.6 146.3 L433.2 146.9 L433.7 145.6 L434.3 146.1 L434.8 147.9 L435.4 149.5 L435.9 151.7 L436.5 144.8 L437 146.1 L437.6 147.8 L438.1 148.7 L438.7 150.9 L439.2 151.9 L439.8 148.6 L440.3 148.1 L440.9 147.8 L441.4 146.7 L442 150.5 L442.5 150.4 L443.1 150.1 L443.6 153.7 L444.2 151.8 L444.7 146 L445.3 149.7 L445.8 150.2 L446.4 149.7 L446.9 152.2 L447.5 150.3 L448 147.8 L448.6 149 L449.1 148.6 L449.7 150.5 L450.2 147.5 L450.8 148.3 L451.3 157 L451.9 150.1 L452.4 147.3 L453 152 L453.5 151 L454.1 152.2 L454.6 148.1 L455.2 147.5 L455.7 154.8 L456.3 149.8 L456.8 144 L457.4 149.5 L457.9 153.8 L458.5 154.1 L459 149.7 L459.6 148.9 L460.1 152.7 L460.7 148.4 L461.2 150.1 L461.8 152.7 L462.3 152.3 L462.9 149.7 L463.4 152.5 L464 153.6 L464.5 149.5 L465.1 150.4 L465.6 154.9 L466.2 148.4 L466.7 150.8 L467.3 153.9 L467.8 151.7 L468.4 153.6 L468.9 152.3 L469.5 150.7 L470 156.3 L470.6 155 L471.1 153.6 L471.7 148.8 L472.2 150.4 L472.8 156.7 L473.3 154 L473.9 153.2 L474.4 152.8 L475 155 L475.5 154.7 L476.1 153.4 L476.6 157.6 L477.2 154.8 L477.7 157.1 L478.3 148.4 L478.8 153.1 L479.4 159.2 L479.9 152.7 L480.5 154 L481 152.4 L481.6 153.6 L482.1 153.2 L482.7 149.9 L483.2 155.7 L483.8 158.7 L484.3 158.9 L484.9 155.2 L485.4 154.9 L486 157.1 L486.5 153.9 L487.1 158.9 L487.6 151.2 L488.2 155.5 L488.7 155.4 L489.3 156.5 L489.8 151.6 L490.4 152.6 L490.9 156.3 L491.5 151.6 L492 159.6 L492.6 158.8 L493.1 156.8 L493.7 150.9 L494.2 157.4 L494.8 155.2 L495.3 154.8 L495.9 154 L496.4 155.3 L497 158.8 L497.5 154.2 L498.1 161.8 L498.6 155 L499.2 151.9 L499.7 160" fill="none" stroke="#e82c25" stroke-width="1.15" stroke-linejoin="round"/>
<path d="M335.8 65.3 L336.4 64.9 L336.9 65.2 L337.5 65 L338 65 L338.6 65.2 L339.1 65 L339.7 65.2 L340.2 65 L340.8 65.5 L341.3 65.3 L341.9 65.3 L342.4 65.2 L343 65.1 L343.5 65.2 L344.1 64.9 L344.6 65.1 L345.2 64.8 L345.7 65.3 L346.3 65.1 L346.8 65.1 L347.4 65.2 L347.9 65.5 L348.5 65.5 L349 65.4 L349.6 65.8 L350.1 65.9 L350.7 65.9 L351.2 66.3 L351.8 66.7 L352.3 66.6 L352.9 67.2 L353.4 67.7 L354 67.7 L354.5 68.2 L355.1 68.6 L355.6 68.8 L356.2 69.3 L356.7 69.5 L357.3 69.9 L357.8 70 L358.4 70 L358.9 70.3 L359.5 70.5 L360 71.3 L360.6 70.8 L361.1 71.7 L361.7 72.1 L362.2 72.5 L362.8 72.9 L363.3 73 L363.9 73 L364.4 73.2 L365 73.8 L365.5 74.5 L366.1 75.4 L366.6 75.9 L367.2 76.3 L367.7 77.1 L368.3 77 L368.8 76.6 L369.4 77.5 L369.9 78.9 L370.5 79 L371 79.4 L371.6 79.4 L372.1 80.3 L372.7 81 L373.2 81.3 L373.8 82.1 L374.3 82.8 L374.9 83 L375.4 83.5 L376 83.4 L376.5 84.8 L377.1 84.4 L377.6 84.1 L378.2 84.7 L378.7 84.8 L379.3 85.4 L379.8 86.1 L380.4 87.3 L380.9 86.3 L381.5 86.5 L382 88.6 L382.6 87.6 L383.1 87.6 L383.7 90 L384.2 87.5 L384.8 90.1 L385.3 91.3 L385.9 91.8 L386.4 92.8 L387 92.8 L387.5 93.2 L388.1 92.1 L388.6 95.6 L389.2 95.4 L389.7 96.3 L390.3 95.9 L390.8 95.7 L391.4 98.4 L391.9 97.5 L392.5 98.9 L393 99.1 L393.6 98.3 L394.1 101.7 L394.7 103.8 L395.2 103.1 L395.8 104.1 L396.3 109.1 L396.9 108.3 L397.4 109.1 L398 112 L398.5 113.8 L399.1 114 L399.6 116.6 L400.2 119.7 L400.7 119.5 L401.3 119 L401.8 122.4 L402.4 124.8 L402.9 124.6 L403.5 126.8 L404 127.5 L404.6 130 L405.1 127.1 L405.7 130.3 L406.2 128.3 L406.8 133.8 L407.3 130.7 L407.9 134.2 L408.4 132.6 L409 138.4 L409.5 136.4 L410.1 135.3 L410.6 136.3 L411.2 134.8 L411.7 136.5 L412.3 140.1 L412.8 141.3 L413.4 140.9 L413.9 139.9 L414.5 140.1 L415 139.5 L415.6 142.6 L416.1 140.2 L416.7 139.1 L417.2 141.4 L417.8 140.1 L418.3 144.6 L418.9 145 L419.4 140.1 L420 141.3 L420.5 142 L421.1 142.7 L421.6 140.4 L422.2 141.9 L422.7 145.4 L423.3 144.2 L423.8 144.3 L424.4 145.5 L424.9 142.8 L425.5 146 L426 144.1 L426.6 150.4 L427.1 145.6 L427.7 141 L428.2 148.5 L428.8 141.4 L429.3 149.6 L429.9 146.3 L430.4 145.1 L431 148.6 L431.5 149.7 L432.1 147.8 L432.6 148.1 L433.2 144.7 L433.7 147.4 L434.3 149.1 L434.8 150.9 L435.4 151.1 L435.9 149.1 L436.5 151.9 L437 147.5 L437.6 145.5 L438.1 150.1 L438.7 151.2 L439.2 147.8 L439.8 151.6 L440.3 152.3 L440.9 147.6 L441.4 152.1 L442 152.8 L442.5 150.4 L443.1 150.1 L443.6 149.2 L444.2 148.7 L444.7 151.4 L445.3 148.9 L445.8 148 L446.4 149.2 L446.9 147.9 L447.5 153.9 L448 153.6 L448.6 150.8 L449.1 146.6 L449.7 150.2 L450.2 151.6 L450.8 151.5 L451.3 151.2 L451.9 151.1 L452.4 147.6 L453 146.7 L453.5 151 L454.1 148.6 L454.6 153.4 L455.2 154.4 L455.7 154 L456.3 154.7 L456.8 147.4 L457.4 151.7 L457.9 156.8 L458.5 153.1 L459 151 L459.6 155.8 L460.1 155.6 L460.7 156.3 L461.2 153.4 L461.8 153.7 L462.3 156.6 L462.9 148.2 L463.4 153.6 L464 152.8 L464.5 155.2 L465.1 149.5 L465.6 152.9 L466.2 153.7 L466.7 155.9 L467.3 152 L467.8 155.8 L468.4 155.6 L468.9 156.6 L469.5 153.3 L470 149.5 L470.6 153.2 L471.1 154.5 L471.7 154.6 L472.2 155 L472.8 157.4 L473.3 155.9 L473.9 157.7 L474.4 154.6 L475 153.6 L475.5 153.4 L476.1 155.7 L476.6 153.4 L477.2 156.9 L477.7 157.7 L478.3 154.4 L478.8 155.2 L479.4 154.7 L479.9 156.6 L480.5 161 L481 152.1 L481.6 155.4 L482.1 159.5 L482.7 159.1 L483.2 161.8 L483.8 155.1 L484.3 154.9 L484.9 153.8 L485.4 154.8 L486 155.8 L486.5 151.2 L487.1 151.3 L487.6 157.5 L488.2 154.1 L488.7 156.7 L489.3 154.3 L489.8 160.7 L490.4 155.2 L490.9 154.2 L491.5 157.7 L492 155.2 L492.6 159.1 L493.1 152.9 L493.7 157.1 L494.2 152.6 L494.8 156.7 L495.3 160.6 L495.9 154.1 L496.4 157.3 L497 152.6 L497.5 158.4 L498.1 159.1 L498.6 154.5 L499.2 157.4 L499.7 155" fill="none" stroke="#ec3128" stroke-width="1.15" stroke-linejoin="round"/>
<path d="M348.3 65.5 L348.7 58.5 L348.9 57 L349.2 60 L349.6 66 M351.2 65.8 L351.5 59.5 L351.8 66 M353.9 66.2 L354.2 60.5 L354.5 66.5" fill="none" stroke="#5a3a36" stroke-width="1"/>
<path d="M73.8 260.2 L74.3 260.1 L74.9 260.2 L75.4 260.2 L76 260.2 L76.5 260.2 L77.1 260.2 L77.6 260.2 L78.2 260.3 L78.7 260.2 L79.3 260.2 L79.8 260.2 L80.4 260.4 L80.9 260.3 L81.5 260.4 L82 260.4 L82.6 260.2 L83.1 260.4 L83.7 260.4 L84.2 260.4 L84.8 260.4 L85.3 260.4 L85.9 260.3 L86.4 260.2 L87 260.5 L87.5 260.5 L88.1 260.5 L88.6 260.5 L89.2 260.5 L89.7 260.5 L90.3 260.7 L90.8 260.4 L91.4 260.5 L91.9 260.4 L92.5 260.6 L93 260.5 L93.6 260.7 L94.1 260.6 L94.7 260.4 L95.2 260.6 L95.8 260.6 L96.3 260.6 L96.9 260.7 L97.4 260.5 L98 260.7 L98.5 260.7 L99.1 260.6 L99.6 260.6 L100.2 260.7 L100.7 260.7 L101.3 260.5 L101.8 260.8 L102.4 260.6 L102.9 260.8 L103.5 260.6 L104 260.9 L104.6 260.9 L105.1 260.9 L105.7 260.9 L106.2 260.9 L106.8 261 L107.3 261 L107.9 260.9 L108.4 260.8 L109 261.1 L109.5 260.9 L110.1 261.1 L110.6 261.1 L111.2 261 L111.7 261 L112.3 260.9 L112.8 260.9 L113.4 261.2 L113.9 261 L114.5 261.1 L115 261 L115.6 261.1 L116.1 261.1 L116.7 261.2 L117.2 261.1 L117.8 261.1 L118.3 261.3 L118.9 261.1 L119.4 261.3 L120 261.2 L120.5 261.4 L121.1 261.1 L121.6 261.2 L122.2 261.3 L122.7 261.4 L123.3 261.3 L123.8 261.3 L124.4 261.4 L124.9 261.4 L125.5 261.4 L126 261.5 L126.6 261.2 L127.1 261.5 L127.7 261.4 L128.2 261.4 L128.8 261.4 L129.3 261.7 L129.9 261.6 L130.4 261.6 L131 261.5 L131.5 261.6 L132.1 261.6 L132.6 261.5 L133.2 261.8 L133.7 261.6 L134.3 261.6 L134.8 261.7 L135.4 261.7 L135.9 261.5 L136.5 261.6 L137 261.6 L137.6 261.8 L138.1 261.7 L138.7 261.5 L139.2 261.5 L139.8 261.7 L140.3 261.7 L140.9 261.7 L141.4 261.5 L142 261.7 L142.5 261.9 L143.1 261.8 L143.6 261.7 L144.2 262 L144.7 261.7 L145.3 261.9 L145.8 261.9 L146.4 261.8 L146.9 261.8 L147.5 262 L148 261.9 L148.6 261.9 L149.1 262 L149.7 261.8 L150.2 261.9 L150.8 261.8 L151.3 261.9 L151.9 262.1 L152.4 262.1 L153 262.1 L153.5 262 L154.1 262 L154.6 262.1 L155.2 261.9 L155.7 262 L156.3 262.1 L156.8 262 L157.4 262 L157.9 262 L158.5 262 L159 262.1 L159.6 262.1 L160.1 262.1 L160.7 262 L161.2 262 L161.8 262.1 L162.3 262 L162.9 262.1 L163.4 261.9 L164 262.1 L164.5 262.1 L165.1 262.1 L165.6 262.1 L166.2 262.2 L166.7 262.2 L167.3 262.1 L167.8 262.2 L168.4 262.2 L168.9 262.2 L169.5 262.2 L170 262.2 L170.6 262.3 L171.1 262.2 L171.7 262.1 L172.2 262.3 L172.8 262.4 L173.3 262.3 L173.9 262.2 L174.4 262.4 L175 262.4 L175.5 262.5 L176.1 262.1 L176.6 262.3 L177.2 262.3 L177.7 262.3 L178.3 262.2 L178.8 262.6 L179.4 262.5 L179.9 262.4 L180.5 262.3 L181 262.4 L181.6 262.2 L182.1 262.1 L182.7 262.4 L183.2 262.3 L183.8 262.3 L184.3 262.3 L184.9 262.5 L185.4 262.4 L186 262.4 L186.5 262.4 L187.1 262.3 L187.6 262.4 L188.2 262.4 L188.7 262.4 L189.3 262.5 L189.8 262.5 L190.4 262.4 L190.9 262.4 L191.5 262.5 L192 262.7 L192.6 262.4 L193.1 262.6 L193.7 262.4 L194.2 262.4 L194.8 262.5 L195.3 262.6 L195.9 262.5 L196.4 262.5 L197 262.6 L197.5 262.4 L198.1 262.8 L198.6 262.6 L199.2 262.5 L199.7 262.7 L200.3 262.5 L200.8 262.5 L201.4 262.5 L201.9 262.5 L202.5 262.6 L203 262.5 L203.6 262.7 L204.1 262.7 L204.7 262.6 L205.2 262.7 L205.8 262.6 L206.3 262.5 L206.9 262.6 L207.4 262.7 L208 262.5 L208.5 262.8 L209.1 262.5 L209.6 262.7 L210.2 262.6 L210.7 262.7 L211.3 262.7 L211.8 262.7 L212.4 262.7 L212.9 262.6 L213.5 262.6 L214 262.7 L214.6 262.7 L215.1 262.7 L215.7 262.6 L216.2 262.7 L216.8 262.7 L217.3 262.5 L217.9 262.7 L218.4 262.8 L219 262.7 L219.5 262.8 L220.1 262.7 L220.6 262.8 L221.2 262.8 L221.7 262.7 L222.3 262.9 L222.8 262.6 L223.4 262.6 L223.9 262.7 L224.5 262.8 L225 262.7 L225.6 262.7 L226.1 262.8 L226.7 262.7 L227.2 262.9 L227.8 262.8 L228.3 262.8 L228.9 262.8 L229.4 262.7 L230 262.8 L230.5 262.6 L231.1 262.7 L231.6 262.5 L232.2 262.8 L232.7 262.7 L233.3 262.7 L233.8 262.7 L234.4 262.9 L234.9 262.8 L235.5 262.8 L236 262.8 L236.6 262.8 L237.1 262.7 L237.7 262.8 L238.2 262.9 L238.8 262.7" fill="none" stroke="#b5b5a5" stroke-width="0.8" stroke-linejoin="round"/>
<path d="M73.8 260.5 L74.3 260 L74.9 260 L75.4 260.1 L76 260.3 L76.5 259.9 L77.1 260.4 L77.6 260.2 L78.2 260.3 L78.7 260.1 L79.3 260.2 L79.8 260.2 L80.4 259.5 L80.9 260.5 L81.5 260.3 L82 260.2 L82.6 260.7 L83.1 260.4 L83.7 260.6 L84.2 260.3 L84.8 260.6 L85.3 260.5 L85.9 260.4 L86.4 260.6 L87 260.5 L87.5 260.1 L88.1 260.6 L88.6 260.6 L89.2 260.9 L89.7 260.9 L90.3 260.4 L90.8 260.8 L91.4 260.2 L91.9 260.7 L92.5 261 L93 260.9 L93.6 260.5 L94.1 261.1 L94.7 260.9 L95.2 260.9 L95.8 261.1 L96.3 261.3 L96.9 261 L97.4 261.2 L98 261 L98.5 261.1 L99.1 261.2 L99.6 261.3 L100.2 261.3 L100.7 261 L101.3 261.5 L101.8 261.4 L102.4 261 L102.9 261.1 L103.5 261.4 L104 261.3 L104.6 261.6 L105.1 261.7 L105.7 261.4 L106.2 261.1 L106.8 261.5 L107.3 261.5 L107.9 261.6 L108.4 261.3 L109 261.4 L109.5 261.7 L110.1 261.7 L110.6 261.9 L111.2 261.1 L111.7 261.3 L112.3 261.5 L112.8 261.1 L113.4 261.5 L113.9 261.6 L114.5 261.5 L115 261.5 L115.6 261.7 L116.1 261.9 L116.7 261.8 L117.2 261.5 L117.8 261.9 L118.3 261.6 L118.9 261.7 L119.4 261.6 L120 261.8 L120.5 261.8 L121.1 261.4 L121.6 261.6 L122.2 261.6 L122.7 261.5 L123.3 262 L123.8 262 L124.4 261.8 L124.9 262.3 L125.5 261.9 L126 261.8 L126.6 262.3 L127.1 262 L127.7 262.2 L128.2 261.9 L128.8 261.7 L129.3 261.9 L129.9 262 L130.4 261.7 L131 262.2 L131.5 261.3 L132.1 262 L132.6 262.1 L133.2 262 L133.7 262.1 L134.3 262.4 L134.8 262.1 L135.4 261.9 L135.9 262 L136.5 262.6 L137 262.5 L137.6 261.8 L138.1 262.3 L138.7 262.1 L139.2 262.7 L139.8 262.5 L140.3 261.7 L140.9 262.5 L141.4 261.9 L142 262.1 L142.5 261.9 L143.1 262.2 L143.6 262.2 L144.2 262 L144.7 262.2 L145.3 262 L145.8 262.7 L146.4 262.5 L146.9 262.1 L147.5 262.1 L148 262.3 L148.6 262 L149.1 262.5 L149.7 262.1 L150.2 262.4 L150.8 262.3 L151.3 262.6 L151.9 262.6 L152.4 262.4 L153 262.2 L153.5 262.2 L154.1 262.7 L154.6 262.5 L155.2 262.6 L155.7 262.4 L156.3 262.1 L156.8 262.5 L157.4 262.5 L157.9 262.4 L158.5 262.2 L159 262.3 L159.6 262.2 L160.1 262.5 L160.7 262.4 L161.2 262.3 L161.8 262.6 L162.3 262.4 L162.9 263 L163.4 262.5 L164 262.8 L164.5 262.3 L165.1 262.4 L165.6 262.7 L166.2 262.3 L166.7 262.4 L167.3 262.7 L167.8 262.4 L168.4 262.7 L168.9 262.7 L169.5 262.5 L170 262.3 L170.6 262.8 L171.1 262.7 L171.7 262.4 L172.2 262.6 L172.8 262.6 L173.3 262.4 L173.9 262.3 L174.4 262.1 L175 263 L175.5 262.7 L176.1 262.6 L176.6 262.7 L177.2 262.8 L177.7 263.3 L178.3 262.6 L178.8 262.8 L179.4 262.6 L179.9 262.5 L180.5 262.7 L181 263 L181.6 262.7 L182.1 262.6 L182.7 262.7 L183.2 262.6 L183.8 262.3 L184.3 262.7 L184.9 262.4 L185.4 262.8 L186 262.7 L186.5 262.9 L187.1 262.6 L187.6 263.2 L188.2 262.7 L188.7 262.6 L189.3 262.7 L189.8 262.8 L190.4 263.3 L190.9 263.1 L191.5 262.8 L192 263.2 L192.6 263 L193.1 262.6 L193.7 262.5 L194.2 262.7 L194.8 263 L195.3 263 L195.9 262.8 L196.4 262.6 L197 262.9 L197.5 262.7 L198.1 263.4 L198.6 262.7 L199.2 262.8 L199.7 263.4 L200.3 262.8 L200.8 263 L201.4 263 L201.9 263.3 L202.5 263.3 L203 263.2 L203.6 262.7 L204.1 262.6 L204.7 263.5 L205.2 262.7 L205.8 262.7 L206.3 263.3 L206.9 263.1 L207.4 262.9 L208 262.9 L208.5 263.2 L209.1 263.2 L209.6 262.9 L210.2 263.2 L210.7 262.7 L211.3 262.5 L211.8 263 L212.4 263.4 L212.9 263 L213.5 263 L214 262.6 L214.6 263.3 L215.1 262.9 L215.7 262.8 L216.2 262.9 L216.8 262.6 L217.3 263 L217.9 262.9 L218.4 263.1 L219 262.6 L219.5 263.2 L220.1 262.8 L220.6 262.9 L221.2 263 L221.7 263.1 L222.3 263.2 L222.8 262.8 L223.4 263.2 L223.9 263.2 L224.5 263.2 L225 263.2 L225.6 263.2 L226.1 263.3 L226.7 263.2 L227.2 263.1 L227.8 262.9 L228.3 263.1 L228.9 263.4 L229.4 263.1 L230 263.5 L230.5 263.4 L231.1 263.6 L231.6 262.8 L232.2 263.4 L232.7 262.9 L233.3 263.3 L233.8 263.2 L234.4 263.1 L234.9 263.3 L235.5 263.1 L236 263.2 L236.6 263.2 L237.1 262.8 L237.7 263.5 L238.2 262.8 L238.8 262.9" fill="none" stroke="#86bd4c" stroke-width="1.3" stroke-linejoin="round"/>
<path d="M73.8 260.4 L74.3 260.2 L74.9 259.9 L75.4 260.3 L76 260.2 L76.5 260.7 L77.1 260.6 L77.6 260.4 L78.2 260.8 L78.7 260.6 L79.3 260.4 L79.8 259.9 L80.4 260.1 L80.9 260.3 L81.5 260.1 L82 260.5 L82.6 260.3 L83.1 260.4 L83.7 260.3 L84.2 260.7 L84.8 260.3 L85.3 260.6 L85.9 260.8 L86.4 260.7 L87 260.3 L87.5 260.7 L88.1 260.4 L88.6 260.9 L89.2 260.6 L89.7 260.5 L90.3 260.8 L90.8 261 L91.4 260.9 L91.9 260.8 L92.5 261 L93 261.2 L93.6 261.1 L94.1 261.4 L94.7 261 L95.2 261.3 L95.8 261.3 L96.3 261.3 L96.9 261.6 L97.4 261.1 L98 261.5 L98.5 261.6 L99.1 261.5 L99.6 261.1 L100.2 261.2 L100.7 261.4 L101.3 261.8 L101.8 261.7 L102.4 261.5 L102.9 261.4 L103.5 261.5 L104 261.3 L104.6 261.8 L105.1 261.8 L105.7 261.6 L106.2 262 L106.8 261.9 L107.3 261.7 L107.9 261.6 L108.4 261.9 L109 261.8 L109.5 262.2 L110.1 261.9 L110.6 261.6 L111.2 262 L111.7 261.9 L112.3 261.8 L112.8 262.3 L113.4 261.8 L113.9 262 L114.5 261.9 L115 262 L115.6 262.3 L116.1 262.4 L116.7 262.2 L117.2 262.4 L117.8 262.1 L118.3 262 L118.9 262 L119.4 262.5 L120 262.3 L120.5 262.2 L121.1 262.2 L121.6 262.5 L122.2 262.4 L122.7 262.4 L123.3 262.3 L123.8 262.1 L124.4 262.6 L124.9 262.5 L125.5 262.4 L126 262.6 L126.6 262.4 L127.1 262.6 L127.7 262.5 L128.2 262.5 L128.8 262.6 L129.3 262.6 L129.9 262.6 L130.4 262.7 L131 262.8 L131.5 262.4 L132.1 262.5 L132.6 262.5 L133.2 262.9 L133.7 262.7 L134.3 262.6 L134.8 262.5 L135.4 262.9 L135.9 262.9 L136.5 262.5 L137 262.7 L137.6 262.8 L138.1 262.6 L138.7 263.2 L139.2 262.8 L139.8 262.7 L140.3 262.8 L140.9 262.9 L141.4 263.1 L142 262.9 L142.5 262.7 L143.1 262.8 L143.6 262.9 L144.2 262.9 L144.7 262.8 L145.3 262.8 L145.8 262.9 L146.4 262.9 L146.9 263.1 L147.5 263.2 L148 262.8 L148.6 262.7 L149.1 262.9 L149.7 262.5 L150.2 263.1 L150.8 262.9 L151.3 263.3 L151.9 263 L152.4 262.9 L153 262.8 L153.5 263 L154.1 263.1 L154.6 262.5 L155.2 262.9 L155.7 263 L156.3 263.1 L156.8 262.8 L157.4 263 L157.9 263.1 L158.5 263.1 L159 263 L159.6 263.5 L160.1 263.1 L160.7 263.1 L161.2 263.3 L161.8 263.1 L162.3 263.2 L162.9 263.1 L163.4 263.1 L164 263.4 L164.5 262.8 L165.1 263.1 L165.6 263.4 L166.2 263.2 L166.7 263.1 L167.3 263.2 L167.8 263 L168.4 263.3 L168.9 263 L169.5 263 L170 263.2 L170.6 263.2 L171.1 263.2 L171.7 263.2 L172.2 263.3 L172.8 263.3 L173.3 263.4 L173.9 263.4 L174.4 263.4 L175 263.2 L175.5 263.3 L176.1 263.5 L176.6 263.2 L177.2 263.2 L177.7 263.1 L178.3 263.6 L178.8 263.5 L179.4 263.5 L179.9 263.1 L180.5 263.5 L181 263.2 L181.6 263.7 L182.1 263.4 L182.7 263.7 L183.2 263.5 L183.8 263.2 L184.3 263.4 L184.9 263.4 L185.4 263.3 L186 263.5 L186.5 263.3 L187.1 263.6 L187.6 263.4 L188.2 263.4 L188.7 263.5 L189.3 263.6 L189.8 263.6 L190.4 263.5 L190.9 263.4 L191.5 263.4 L192 264 L192.6 263.8 L193.1 263.6 L193.7 263.9 L194.2 263.5 L194.8 263.4 L195.3 263.8 L195.9 263.9 L196.4 263.5 L197 264.1 L197.5 263.7 L198.1 263.4 L198.6 263.5 L199.2 263.7 L199.7 263.9 L200.3 263.7 L200.8 263.5 L201.4 263.4 L201.9 263.8 L202.5 263.7 L203 263.7 L203.6 263.5 L204.1 263.3 L204.7 263.8 L205.2 263.8 L205.8 263.5 L206.3 263.7 L206.9 263.8 L207.4 264.2 L208 263.7 L208.5 263.5 L209.1 263.8 L209.6 263.6 L210.2 263.8 L210.7 264.1 L211.3 263.9 L211.8 263.7 L212.4 263.9 L212.9 263.7 L213.5 264.1 L214 263.8 L214.6 264.2 L215.1 263.8 L215.7 263.4 L216.2 263.5 L216.8 263.5 L217.3 263.8 L217.9 263.9 L218.4 263.9 L219 264.1 L219.5 264.1 L220.1 263.7 L220.6 263.8 L221.2 264.1 L221.7 263.8 L222.3 263.9 L222.8 264 L223.4 263.8 L223.9 263.9 L224.5 264.3 L225 264.1 L225.6 263.8 L226.1 263.8 L226.7 264.2 L227.2 264.1 L227.8 264.5 L228.3 264.1 L228.9 264 L229.4 263.8 L230 264.2 L230.5 263.6 L231.1 264.1 L231.6 264.4 L232.2 263.8 L232.7 263.9 L233.3 263.9 L233.8 263.9 L234.4 263.5 L234.9 263.9 L235.5 264.3 L236 264.2 L236.6 264.1 L237.1 264 L237.7 264.2 L238.2 264 L238.8 263.9" fill="none" stroke="#7ab648" stroke-width="1.0" stroke-linejoin="round"/>
<path d="M73.8 260.3 L74.3 260.3 L74.9 260.2 L75.4 260.4 L76 260.2 L76.5 260.6 L77.1 260.2 L77.6 260.2 L78.2 260.1 L78.7 260.4 L79.3 260.1 L79.8 260.5 L80.4 260.2 L80.9 260.4 L81.5 260.6 L82 260.2 L82.6 259.9 L83.1 260.5 L83.7 260.5 L84.2 260.4 L84.8 260.4 L85.3 260.6 L85.9 260.2 L86.4 260.5 L87 260.9 L87.5 260.7 L88.1 260.9 L88.6 261.1 L89.2 261.6 L89.7 261.4 L90.3 261.8 L90.8 262.3 L91.4 262.5 L91.9 262.3 L92.5 262.7 L93 262.7 L93.6 262.9 L94.1 263.2 L94.7 262.8 L95.2 262.9 L95.8 263.1 L96.3 262.9 L96.9 263 L97.4 263.3 L98 263.5 L98.5 263.4 L99.1 263.4 L99.6 263.5 L100.2 263.7 L100.7 263.7 L101.3 263.5 L101.8 263.5 L102.4 264 L102.9 263.6 L103.5 264.1 L104 264.2 L104.6 264 L105.1 264.2 L105.7 264.4 L106.2 264.3 L106.8 264.3 L107.3 264.6 L107.9 264.7 L108.4 264.8 L109 264.5 L109.5 264.9 L110.1 264.9 L110.6 265.1 L111.2 265 L111.7 264.9 L112.3 265.2 L112.8 264.9 L113.4 265.1 L113.9 265.3 L114.5 265.7 L115 265.3 L115.6 265.5 L116.1 265.6 L116.7 265.4 L117.2 265.9 L117.8 265.7 L118.3 265.8 L118.9 266 L119.4 265.8 L120 265.8 L120.5 266.4 L121.1 266.2 L121.6 266.4 L122.2 266.6 L122.7 266.4 L123.3 266.2 L123.8 266.8 L124.4 266.5 L124.9 266.5 L125.5 266.7 L126 266.9 L126.6 266.9 L127.1 266.7 L127.7 267.1 L128.2 266.8 L128.8 267.1 L129.3 267 L129.9 267 L130.4 267.4 L131 267.4 L131.5 267.3 L132.1 267.4 L132.6 267.6 L133.2 267.9 L133.7 268.1 L134.3 267.9 L134.8 268.2 L135.4 268.5 L135.9 268.2 L136.5 268.5 L137 268.4 L137.6 268.9 L138.1 269.2 L138.7 269.3 L139.2 269.6 L139.8 269.6 L140.3 269.5 L140.9 270 L141.4 270.5 L142 270.1 L142.5 271 L143.1 270.8 L143.6 271 L144.2 271 L144.7 271.7 L145.3 270.9 L145.8 271.9 L146.4 272.4 L146.9 272.3 L147.5 272.5 L148 273.1 L148.6 272.6 L149.1 273.3 L149.7 273.1 L150.2 273.5 L150.8 274 L151.3 273.7 L151.9 274.2 L152.4 274 L153 274.4 L153.5 274.8 L154.1 274.9 L154.6 274.9 L155.2 275.1 L155.7 275.4 L156.3 275.4 L156.8 275.5 L157.4 276.4 L157.9 276.1 L158.5 276 L159 277.2 L159.6 276.8 L160.1 276.6 L160.7 277 L161.2 277 L161.8 277.6 L162.3 277.8 L162.9 277.2 L163.4 277.5 L164 278 L164.5 277.9 L165.1 278.3 L165.6 278.5 L166.2 279.1 L166.7 279.3 L167.3 279.4 L167.8 279.1 L168.4 279.5 L168.9 279.6 L169.5 280.1 L170 280.3 L170.6 280.4 L171.1 280.9 L171.7 281 L172.2 281 L172.8 281.6 L173.3 281.7 L173.9 282.1 L174.4 282.4 L175 282.4 L175.5 283.1 L176.1 282.9 L176.6 284.1 L177.2 284 L177.7 284.3 L178.3 284 L178.8 284.7 L179.4 284.6 L179.9 285 L180.5 285.8 L181 286.5 L181.6 286.5 L182.1 286.9 L182.7 286.8 L183.2 286.8 L183.8 288.5 L184.3 287.9 L184.9 288.5 L185.4 289.2 L186 289 L186.5 289.6 L187.1 290.6 L187.6 290.9 L188.2 291.8 L188.7 292.8 L189.3 293.2 L189.8 293.9 L190.4 294.7 L190.9 294.6 L191.5 295.8 L192 297.4 L192.6 297.6 L193.1 297.6 L193.7 297.6 L194.2 298.6 L194.8 299.5 L195.3 299.4 L195.9 301 L196.4 300.4 L197 301.1 L197.5 301.6 L198.1 302.4 L198.6 302.5 L199.2 304.2 L199.7 302.9 L200.3 304.2 L200.8 304.6 L201.4 304.2 L201.9 305 L202.5 305.2 L203 305.6 L203.6 306.5 L204.1 307.4 L204.7 306.8 L205.2 307.7 L205.8 307.8 L206.3 307.5 L206.9 308.4 L207.4 308.9 L208 310.3 L208.5 309.7 L209.1 309.8 L209.6 310.4 L210.2 311 L210.7 310.9 L211.3 311.5 L211.8 310.3 L212.4 311.4 L212.9 311.6 L213.5 312.3 L214 312.6 L214.6 313.1 L215.1 313.1 L215.7 313.5 L216.2 313.5 L216.8 314.3 L217.3 314.1 L217.9 313.8 L218.4 315.2 L219 314.8 L219.5 315.8 L220.1 315.5 L220.6 315.6 L221.2 315.8 L221.7 315.4 L222.3 316.8 L222.8 317.8 L223.4 316.6 L223.9 317.2 L224.5 317.2 L225 317 L225.6 317.2 L226.1 318.4 L226.7 318.6 L227.2 318.1 L227.8 319.1 L228.3 318.5 L228.9 318.7 L229.4 318.9 L230 320.1 L230.5 319.9 L231.1 319.6 L231.6 320.6 L232.2 320.6 L232.7 320.2 L233.3 319.6 L233.8 320.2 L234.4 320.4 L234.9 321.2 L235.5 321.3 L236 321.8 L236.6 321.1 L237.1 321.4 L237.7 323.2 L238.2 322.5 L238.8 323.2" fill="none" stroke="#7db346" stroke-width="1.2" stroke-linejoin="round"/>
<path d="M73.8 260.2 L74.3 260.3 L74.9 260.4 L75.4 260.4 L76 260.3 L76.5 260.2 L77.1 260.4 L77.6 260.3 L78.2 260.5 L78.7 260.4 L79.3 260.3 L79.8 260.3 L80.4 260.5 L80.9 260.4 L81.5 260.1 L82 260.3 L82.6 260.6 L83.1 260.4 L83.7 260 L84.2 260.3 L84.8 260.5 L85.3 260.7 L85.9 260.6 L86.4 260.3 L87 260.5 L87.5 260.7 L88.1 260.8 L88.6 260.7 L89.2 260.7 L89.7 261.2 L90.3 261.6 L90.8 261.3 L91.4 261.7 L91.9 261.8 L92.5 262.1 L93 262 L93.6 262.3 L94.1 262.5 L94.7 263.1 L95.2 263.8 L95.8 263.7 L96.3 264 L96.9 264.2 L97.4 264.4 L98 265.6 L98.5 265.8 L99.1 266.3 L99.6 267.4 L100.2 267.3 L100.7 268.6 L101.3 269.9 L101.8 271.2 L102.4 271.8 L102.9 272.8 L103.5 273.5 L104 273.7 L104.6 274.7 L105.1 275.3 L105.7 276.3 L106.2 276.6 L106.8 278.1 L107.3 278.1 L107.9 279.4 L108.4 280.3 L109 281.9 L109.5 281.5 L110.1 280.9 L110.6 284 L111.2 283.9 L111.7 283.9 L112.3 283.5 L112.8 284.5 L113.4 285.8 L113.9 287.1 L114.5 286.9 L115 287.7 L115.6 287.2 L116.1 286.9 L116.7 286.9 L117.2 289.3 L117.8 287.5 L118.3 289.5 L118.9 291.5 L119.4 291.5 L120 290 L120.5 292.8 L121.1 291.3 L121.6 291.3 L122.2 293 L122.7 293.6 L123.3 296.7 L123.8 295.2 L124.4 294.8 L124.9 294.8 L125.5 296.3 L126 297.7 L126.6 297.3 L127.1 298.2 L127.7 298.6 L128.2 300.8 L128.8 299.4 L129.3 301.6 L129.9 300.3 L130.4 301.6 L131 304.8 L131.5 304.2 L132.1 304.9 L132.6 305.4 L133.2 305.1 L133.7 307.4 L134.3 306.4 L134.8 310.7 L135.4 311.5 L135.9 311.8 L136.5 312.7 L137 313.9 L137.6 315.9 L138.1 316.5 L138.7 318.3 L139.2 319.4 L139.8 321.9 L140.3 321.8 L140.9 324.1 L141.4 321.6 L142 327.2 L142.5 328.7 L143.1 328.1 L143.6 326.7 L144.2 329.5 L144.7 330.6 L145.3 330.3 L145.8 330.4 L146.4 331.1 L146.9 332.7 L147.5 333.4 L148 331.3 L148.6 331.1 L149.1 331.7 L149.7 332.9 L150.2 332.6 L150.8 332.2 L151.3 333.3 L151.9 334.7 L152.4 331.9 L153 332.7 L153.5 336.5 L154.1 335.5 L154.6 336.4 L155.2 333.7 L155.7 333.7 L156.3 340.9 L156.8 336.1 L157.4 336.3 L157.9 338.6 L158.5 335.7 L159 334.4 L159.6 337.6 L160.1 338 L160.7 337.9 L161.2 337.4 L161.8 334.7 L162.3 335.2 L162.9 336.9 L163.4 337.3 L164 336.2 L164.5 338.8 L165.1 338.2 L165.6 338 L166.2 338.4 L166.7 337.6 L167.3 336.6 L167.8 336.6 L168.4 338 L168.9 336.8 L169.5 338.3 L170 339.1 L170.6 338.8 L171.1 341.7 L171.7 338.3 L172.2 334.3 L172.8 336.4 L173.3 336.5 L173.9 341.1 L174.4 338.4 L175 339.7 L175.5 338.1 L176.1 336.7 L176.6 338 L177.2 340.9 L177.7 341.9 L178.3 337.7 L178.8 339.6 L179.4 338.2 L179.9 340.7 L180.5 339.7 L181 337.3 L181.6 340.9 L182.1 338.3 L182.7 337.9 L183.2 338.4 L183.8 339.8 L184.3 338 L184.9 338.7 L185.4 335.3 L186 340.9 L186.5 338.5 L187.1 340.6 L187.6 340.7 L188.2 336.2 L188.7 339.6 L189.3 339.2 L189.8 338.3 L190.4 340.3 L190.9 338.5 L191.5 336.9 L192 340.1 L192.6 341.5 L193.1 338.5 L193.7 339 L194.2 342.1 L194.8 338.1 L195.3 337.8 L195.9 341.1 L196.4 341.3 L197 341.3 L197.5 340.1 L198.1 337.9 L198.6 332.5 L199.2 340.3 L199.7 340.1 L200.3 338.1 L200.8 338.3 L201.4 337.5 L201.9 340.1 L202.5 340.3 L203 334.6 L203.6 339.3 L204.1 339.9 L204.7 336.9 L205.2 342.8 L205.8 340.3 L206.3 340.4 L206.9 338.4 L207.4 338.5 L208 340.1 L208.5 340.1 L209.1 338.8 L209.6 339 L210.2 338.6 L210.7 338.3 L211.3 340.5 L211.8 340.3 L212.4 341.3 L212.9 340.1 L213.5 340.1 L214 339.1 L214.6 338.7 L215.1 342.6 L215.7 340.6 L216.2 339.6 L216.8 339.4 L217.3 341.9 L217.9 343.8 L218.4 343 L219 341.1 L219.5 343 L220.1 340.9 L220.6 338.1 L221.2 340.5 L221.7 340.3 L222.3 336.8 L222.8 341.5 L223.4 341.3 L223.9 338.6 L224.5 338.2 L225 336.9 L225.6 339 L226.1 340.1 L226.7 339.2 L227.2 338.5 L227.8 338.8 L228.3 340.3 L228.9 339.9 L229.4 340.5 L230 339.4 L230.5 341.5 L231.1 340.8 L231.6 338.2 L232.2 342.2 L232.7 340.4 L233.3 341.7 L233.8 342.2 L234.4 337.3 L234.9 337.4 L235.5 344.3 L236 339.9 L236.6 338.8 L237.1 336.7 L237.7 338.6 L238.2 337.7 L238.8 339.1" fill="none" stroke="#84c043" stroke-width="1.15" stroke-linejoin="round"/>
<path d="M73.8 260.7 L74.3 260.2 L74.9 260.5 L75.4 260.4 L76 260.4 L76.5 260.1 L77.1 260.1 L77.6 260.3 L78.2 260.5 L78.7 260.3 L79.3 260.3 L79.8 260.3 L80.4 260.3 L80.9 260.3 L81.5 260.3 L82 260.3 L82.6 260.3 L83.1 260.3 L83.7 260.4 L84.2 260.3 L84.8 260.6 L85.3 260.5 L85.9 260.3 L86.4 260.8 L87 260.7 L87.5 260.6 L88.1 261 L88.6 261.6 L89.2 261.9 L89.7 262.7 L90.3 262.9 L90.8 263.8 L91.4 264 L91.9 265.2 L92.5 265.7 L93 266.2 L93.6 267 L94.1 268 L94.7 269.1 L95.2 269.4 L95.8 271.1 L96.3 272.3 L96.9 273.6 L97.4 274.7 L98 274.8 L98.5 276.7 L99.1 277.1 L99.6 278.8 L100.2 279.4 L100.7 281.5 L101.3 281.9 L101.8 283.2 L102.4 283.4 L102.9 285.2 L103.5 287.2 L104 288.3 L104.6 288.4 L105.1 290.5 L105.7 290.6 L106.2 291.3 L106.8 293.8 L107.3 295.4 L107.9 295 L108.4 294.9 L109 298.2 L109.5 297.6 L110.1 298.2 L110.6 299.9 L111.2 299.7 L111.7 298.8 L112.3 300.7 L112.8 302 L113.4 303.7 L113.9 303.2 L114.5 303.8 L115 304.1 L115.6 304.7 L116.1 306.4 L116.7 307.5 L117.2 306.8 L117.8 309.2 L118.3 308.2 L118.9 311.1 L119.4 308.9 L120 308.9 L120.5 311.3 L121.1 314.9 L121.6 314 L122.2 316.7 L122.7 314.9 L123.3 315.8 L123.8 316.4 L124.4 318.5 L124.9 319.6 L125.5 321.6 L126 318.4 L126.6 322.5 L127.1 320.1 L127.7 321 L128.2 320.9 L128.8 320.2 L129.3 323.7 L129.9 322.2 L130.4 323.3 L131 323.3 L131.5 320.9 L132.1 325.8 L132.6 324.1 L133.2 325.5 L133.7 326.6 L134.3 325.4 L134.8 326.3 L135.4 327 L135.9 329.2 L136.5 328.1 L137 327.6 L137.6 328.2 L138.1 329.9 L138.7 329.7 L139.2 332.7 L139.8 329.1 L140.3 327.2 L140.9 328.4 L141.4 330.6 L142 330.4 L142.5 332.7 L143.1 329.5 L143.6 331.7 L144.2 333.2 L144.7 329.8 L145.3 333.7 L145.8 333.1 L146.4 332.4 L146.9 332.1 L147.5 332.7 L148 336.1 L148.6 333.9 L149.1 337.2 L149.7 333.3 L150.2 331.9 L150.8 334.3 L151.3 335.8 L151.9 334.3 L152.4 338.3 L153 335.7 L153.5 333.9 L154.1 336 L154.6 333.5 L155.2 335.6 L155.7 335.3 L156.3 334.9 L156.8 337.7 L157.4 334.9 L157.9 334.7 L158.5 334.7 L159 338 L159.6 335.5 L160.1 336.6 L160.7 339.2 L161.2 338.7 L161.8 335.6 L162.3 336.6 L162.9 336.1 L163.4 338.4 L164 334.9 L164.5 334.5 L165.1 337 L165.6 332.7 L166.2 338.1 L166.7 338.5 L167.3 337.4 L167.8 334.6 L168.4 340.3 L168.9 337.8 L169.5 337 L170 334.4 L170.6 340.1 L171.1 339.5 L171.7 337.5 L172.2 339.7 L172.8 339.2 L173.3 338.9 L173.9 339.2 L174.4 338.2 L175 335.6 L175.5 339.5 L176.1 336.9 L176.6 337.4 L177.2 336 L177.7 338 L178.3 338.2 L178.8 337.8 L179.4 339.8 L179.9 340.4 L180.5 340.2 L181 336.6 L181.6 338.1 L182.1 339 L182.7 338.4 L183.2 342.3 L183.8 340 L184.3 340.5 L184.9 343.3 L185.4 337.7 L186 338.2 L186.5 338.4 L187.1 341.3 L187.6 340.2 L188.2 339.6 L188.7 341.6 L189.3 339.9 L189.8 340.4 L190.4 337.8 L190.9 340.9 L191.5 341.6 L192 340.5 L192.6 338.3 L193.1 340.9 L193.7 339.3 L194.2 340.7 L194.8 343 L195.3 340 L195.9 340.3 L196.4 343.2 L197 336.7 L197.5 338.6 L198.1 337.7 L198.6 339.3 L199.2 340.8 L199.7 341.6 L200.3 340.2 L200.8 340 L201.4 338.1 L201.9 340.3 L202.5 340.7 L203 339.8 L203.6 341.3 L204.1 342.3 L204.7 340.8 L205.2 343.3 L205.8 339.3 L206.3 340.2 L206.9 339.3 L207.4 340.2 L208 337 L208.5 340.1 L209.1 339.1 L209.6 342.4 L210.2 341.8 L210.7 338.9 L211.3 343.5 L211.8 341.1 L212.4 340.5 L212.9 340 L213.5 341.2 L214 339 L214.6 340.1 L215.1 341.1 L215.7 340.3 L216.2 338.8 L216.8 342.2 L217.3 338.5 L217.9 340.3 L218.4 338.3 L219 340.7 L219.5 339.7 L220.1 341.5 L220.6 344.4 L221.2 340.4 L221.7 342.8 L222.3 342 L222.8 340.5 L223.4 338.9 L223.9 343.6 L224.5 340.9 L225 340.7 L225.6 342.3 L226.1 344.5 L226.7 341.1 L227.2 338.8 L227.8 339.9 L228.3 342.9 L228.9 344 L229.4 339 L230 342.7 L230.5 340.6 L231.1 339.5 L231.6 341 L232.2 341.9 L232.7 340.2 L233.3 341 L233.8 342.2 L234.4 345.2 L234.9 344.3 L235.5 340.3 L236 339.9 L236.6 345.3 L237.1 339.7 L237.7 340.5 L238.2 342.1 L238.8 342.2" fill="none" stroke="#78b83c" stroke-width="1.15" stroke-linejoin="round"/>
<path d="M73.8 260.3 L74.3 260.3 L74.9 260.3 L75.4 260 L76 260.6 L76.5 260.1 L77.1 260.5 L77.6 260.3 L78.2 260.3 L78.7 260.3 L79.3 260.2 L79.8 260.2 L80.4 260.2 L80.9 260.7 L81.5 260.3 L82 260.4 L82.6 260.5 L83.1 260.6 L83.7 260.4 L84.2 260.6 L84.8 260.3 L85.3 260.3 L85.9 260.6 L86.4 260.5 L87 261 L87.5 262 L88.1 262.9 L88.6 264.1 L89.2 265.2 L89.7 266.2 L90.3 267.4 L90.8 268.3 L91.4 269.1 L91.9 269.2 L92.5 270.7 L93 272 L93.6 272.5 L94.1 273.6 L94.7 274.9 L95.2 275.8 L95.8 277.6 L96.3 279 L96.9 281.1 L97.4 281.8 L98 283.8 L98.5 285.3 L99.1 285.7 L99.6 289.3 L100.2 290.1 L100.7 291 L101.3 291.9 L101.8 295 L102.4 295.7 L102.9 297.3 L103.5 298.6 L104 299 L104.6 300.7 L105.1 302.3 L105.7 305.6 L106.2 304.7 L106.8 306.1 L107.3 309.9 L107.9 310.9 L108.4 310.1 L109 312.2 L109.5 315.9 L110.1 313.1 L110.6 314.1 L111.2 314.9 L111.7 314 L112.3 314.4 L112.8 317.5 L113.4 317.3 L113.9 321.5 L114.5 319.6 L115 320.8 L115.6 321.5 L116.1 320.4 L116.7 322.8 L117.2 324.1 L117.8 323.7 L118.3 324.6 L118.9 326.7 L119.4 324.3 L120 326 L120.5 326.2 L121.1 327 L121.6 326.3 L122.2 327.2 L122.7 326.1 L123.3 329.1 L123.8 326.6 L124.4 326 L124.9 327.6 L125.5 330 L126 326.1 L126.6 326 L127.1 327.8 L127.7 327.7 L128.2 328.5 L128.8 328.8 L129.3 332 L129.9 328.4 L130.4 328.4 L131 328 L131.5 330.1 L132.1 333.1 L132.6 329.2 L133.2 330.2 L133.7 332.7 L134.3 332.7 L134.8 335.1 L135.4 330.8 L135.9 332.6 L136.5 335.5 L137 332.3 L137.6 335.9 L138.1 332.1 L138.7 333.1 L139.2 333 L139.8 333 L140.3 332.5 L140.9 336.2 L141.4 335.2 L142 335.8 L142.5 333.6 L143.1 335.4 L143.6 332.2 L144.2 336.3 L144.7 339.6 L145.3 334.2 L145.8 335.5 L146.4 333.2 L146.9 335.7 L147.5 337.4 L148 336.4 L148.6 341.8 L149.1 337 L149.7 335.8 L150.2 335.7 L150.8 339.5 L151.3 337.5 L151.9 337.7 L152.4 338.2 L153 336.3 L153.5 337.2 L154.1 337.3 L154.6 339.6 L155.2 339.7 L155.7 341.8 L156.3 340.4 L156.8 339.4 L157.4 337.3 L157.9 338 L158.5 338.9 L159 342.3 L159.6 336.2 L160.1 337.8 L160.7 339.3 L161.2 338.6 L161.8 339.4 L162.3 338.2 L162.9 340.4 L163.4 340.4 L164 337.5 L164.5 336.2 L165.1 338 L165.6 339.6 L166.2 340.2 L166.7 340.5 L167.3 335.7 L167.8 342.5 L168.4 338.4 L168.9 340.2 L169.5 338.7 L170 344.1 L170.6 339.2 L171.1 340.1 L171.7 338.6 L172.2 342.2 L172.8 340.7 L173.3 339.2 L173.9 340.5 L174.4 337.9 L175 339.8 L175.5 342.4 L176.1 343.9 L176.6 341.3 L177.2 340.4 L177.7 338.8 L178.3 340.6 L178.8 339.4 L179.4 340.3 L179.9 341.7 L180.5 342.1 L181 338.5 L181.6 341.7 L182.1 341.9 L182.7 341.2 L183.2 341.5 L183.8 338.3 L184.3 341.8 L184.9 339.3 L185.4 339 L186 341.4 L186.5 342.3 L187.1 339.3 L187.6 338.7 L188.2 345.3 L188.7 341.3 L189.3 341.9 L189.8 340.6 L190.4 341.9 L190.9 341.9 L191.5 342.6 L192 341.1 L192.6 341.2 L193.1 342.8 L193.7 343.8 L194.2 338.9 L194.8 340 L195.3 342.7 L195.9 340.8 L196.4 343.7 L197 341.9 L197.5 343.6 L198.1 341.9 L198.6 342.6 L199.2 341 L199.7 343.4 L200.3 344.6 L200.8 338.9 L201.4 340.5 L201.9 345 L202.5 341.6 L203 345.1 L203.6 343.8 L204.1 343.6 L204.7 340.7 L205.2 344 L205.8 343.4 L206.3 341.7 L206.9 343.6 L207.4 341.5 L208 338.4 L208.5 338.5 L209.1 340.8 L209.6 342.5 L210.2 339.4 L210.7 344.4 L211.3 344 L211.8 344 L212.4 341.7 L212.9 344.3 L213.5 342 L214 343.3 L214.6 342.1 L215.1 343.8 L215.7 344.3 L216.2 343.5 L216.8 339.8 L217.3 344.3 L217.9 347.6 L218.4 337.2 L219 347.2 L219.5 343.1 L220.1 339.8 L220.6 339.6 L221.2 343.2 L221.7 344.2 L222.3 340.9 L222.8 343.7 L223.4 347 L223.9 342.8 L224.5 341 L225 340.2 L225.6 341.8 L226.1 343.2 L226.7 341.7 L227.2 342 L227.8 343.5 L228.3 343.4 L228.9 341.7 L229.4 340.4 L230 341 L230.5 339.7 L231.1 342.8 L231.6 342 L232.2 341.8 L232.7 341.9 L233.3 342.6 L233.8 345.5 L234.4 345.3 L234.9 347.1 L235.5 340.8 L236 340.3 L236.6 345 L237.1 346.5 L237.7 342.5 L238.2 340.2 L238.8 341" fill="none" stroke="#80bc3f" stroke-width="1.15" stroke-linejoin="round"/>
<path d="M73.8 260.4 L74.3 260.5 L74.9 260.4 L75.4 260.3 L76 260.2 L76.5 260.1 L77.1 260.5 L77.6 260.5 L78.2 259.9 L78.7 260.4 L79.3 260.1 L79.8 260.2 L80.4 260.5 L80.9 260.5 L81.5 260.5 L82 260.2 L82.6 260.4 L83.1 260.6 L83.7 260.7 L84.2 260.5 L84.8 260.3 L85.3 260.6 L85.9 260.6 L86.4 260.6 L87 261 L87.5 261.7 L88.1 263.1 L88.6 264.4 L89.2 265 L89.7 266.7 L90.3 268.4 L90.8 269.5 L91.4 269.2 L91.9 270.7 L92.5 271.6 L93 272.3 L93.6 273 L94.1 273.3 L94.7 274.6 L95.2 275.9 L95.8 277.8 L96.3 279.1 L96.9 280.5 L97.4 281.3 L98 282.5 L98.5 285.4 L99.1 285.8 L99.6 286.9 L100.2 289.2 L100.7 290.8 L101.3 291.8 L101.8 292.5 L102.4 294.6 L102.9 296.5 L103.5 299.4 L104 302.2 L104.6 300.3 L105.1 302.5 L105.7 304.4 L106.2 305.2 L106.8 307.8 L107.3 309.1 L107.9 310 L108.4 309.4 L109 310.9 L109.5 312 L110.1 313.6 L110.6 314.8 L111.2 317.5 L111.7 317.6 L112.3 316.8 L112.8 322.1 L113.4 317.2 L113.9 323.1 L114.5 322.3 L115 323.2 L115.6 320.5 L116.1 324.4 L116.7 322.8 L117.2 325.5 L117.8 323 L118.3 325.9 L118.9 326.1 L119.4 324.4 L120 328.4 L120.5 329 L121.1 322.1 L121.6 331.8 L122.2 324.9 L122.7 325.3 L123.3 330.8 L123.8 329.9 L124.4 329.1 L124.9 327.5 L125.5 325.4 L126 330.6 L126.6 325.4 L127.1 332.9 L127.7 331.9 L128.2 331.3 L128.8 329 L129.3 333.1 L129.9 334.3 L130.4 330.5 L131 332.9 L131.5 335.2 L132.1 329 L132.6 331.3 L133.2 333.6 L133.7 332.6 L134.3 335 L134.8 338.2 L135.4 339.9 L135.9 338.1 L136.5 336 L137 335.6 L137.6 333.8 L138.1 333.9 L138.7 334 L139.2 332.1 L139.8 334.4 L140.3 334.5 L140.9 332.7 L141.4 337 L142 336.3 L142.5 338.9 L143.1 338.1 L143.6 335.9 L144.2 340.4 L144.7 334 L145.3 335.7 L145.8 338 L146.4 337.5 L146.9 335 L147.5 341.3 L148 337.2 L148.6 340.2 L149.1 340.5 L149.7 338.6 L150.2 336.1 L150.8 344.8 L151.3 339.8 L151.9 342.8 L152.4 338 L153 339.2 L153.5 341.8 L154.1 340.5 L154.6 338.6 L155.2 339.9 L155.7 341.4 L156.3 339.9 L156.8 340 L157.4 338.7 L157.9 339.5 L158.5 338.3 L159 341.3 L159.6 340.1 L160.1 342.4 L160.7 340.3 L161.2 341 L161.8 345.5 L162.3 340.9 L162.9 340.8 L163.4 342.9 L164 340.8 L164.5 341.9 L165.1 344.1 L165.6 344 L166.2 338.8 L166.7 343.5 L167.3 344.9 L167.8 343.3 L168.4 341.7 L168.9 345 L169.5 341 L170 343.6 L170.6 346.7 L171.1 343.5 L171.7 346.3 L172.2 342.5 L172.8 341.7 L173.3 343.8 L173.9 345.2 L174.4 338.3 L175 342.9 L175.5 345 L176.1 344.4 L176.6 343 L177.2 346 L177.7 341.9 L178.3 344.8 L178.8 347.1 L179.4 340.8 L179.9 345.1 L180.5 343.3 L181 344.8 L181.6 342.7 L182.1 342.1 L182.7 347.8 L183.2 345.2 L183.8 344.1 L184.3 343.1 L184.9 343.4 L185.4 341.4 L186 343.8 L186.5 340.6 L187.1 341.8 L187.6 341.3 L188.2 346.8 L188.7 343.5 L189.3 341.6 L189.8 343.5 L190.4 342.9 L190.9 344.7 L191.5 340.5 L192 346 L192.6 346.9 L193.1 345.1 L193.7 346.7 L194.2 345.1 L194.8 341.3 L195.3 343.8 L195.9 344.8 L196.4 342.6 L197 344.6 L197.5 343.5 L198.1 347.8 L198.6 344.5 L199.2 346.1 L199.7 344.5 L200.3 341.2 L200.8 342.9 L201.4 341.4 L201.9 344.2 L202.5 342.9 L203 345.8 L203.6 344.4 L204.1 343.6 L204.7 344.5 L205.2 345.4 L205.8 346.8 L206.3 347.2 L206.9 349.6 L207.4 343.2 L208 344.6 L208.5 344 L209.1 343.5 L209.6 343.6 L210.2 340.5 L210.7 339.9 L211.3 343.4 L211.8 344.5 L212.4 343.4 L212.9 346.2 L213.5 341.4 L214 343.7 L214.6 348.7 L215.1 344.7 L215.7 343 L216.2 346.5 L216.8 342.9 L217.3 346.9 L217.9 345.7 L218.4 345.5 L219 340.4 L219.5 347.2 L220.1 342.7 L220.6 345.8 L221.2 346.6 L221.7 347.2 L222.3 344.8 L222.8 345.5 L223.4 347.5 L223.9 345.6 L224.5 346.4 L225 344.6 L225.6 344.5 L226.1 344.8 L226.7 345.4 L227.2 347.1 L227.8 345.5 L228.3 343.6 L228.9 343.6 L229.4 344.7 L230 342.4 L230.5 344.4 L231.1 344.1 L231.6 344 L232.2 350.1 L232.7 348 L233.3 349.8 L233.8 341.7 L234.4 343.9 L234.9 343.7 L235.5 345.2 L236 345.1 L236.6 346.1 L237.1 345.7 L237.7 345.8 L238.2 345.7 L238.8 347.7 L239.3 343 L239.9 347.5" fill="none" stroke="#74b43a" stroke-width="1.15" stroke-linejoin="round"/>
<path d="M73.8 260.6 L74.3 260.4 L74.9 260.1 L75.4 260.4 L76 260.3 L76.5 260.4 L77.1 260.3 L77.6 260.4 L78.2 260.3 L78.7 260.4 L79.3 260.3 L79.8 260.3 L80.4 260.2 L80.9 260.3 L81.5 260.1 L82 260.3 L82.6 260.3 L83.1 260.6 L83.7 260.3 L84.2 260.5 L84.8 260.4 L85.3 260.6 L85.9 260.5 L86.4 260.2 L87 260.5 L87.5 260.7 L88.1 261.1 L88.6 261.7 L89.2 262 L89.7 262.2 L90.3 262.6 L90.8 263.3 L91.4 263.9 L91.9 264.8 L92.5 265.1 L93 266.1 L93.6 267.5 L94.1 268 L94.7 269.2 L95.2 270.4 L95.8 271.4 L96.3 272.8 L96.9 273.5 L97.4 274.6 L98 275.8 L98.5 277.7 L99.1 279.8 L99.6 279.8 L100.2 281.9 L100.7 284 L101.3 285.3 L101.8 286.8 L102.4 288.3 L102.9 289.2 L103.5 291.6 L104 293.2 L104.6 292.7 L105.1 293.8 L105.7 296.9 L106.2 296.9 L106.8 300.2 L107.3 302.4 L107.9 302.1 L108.4 305.2 L109 305 L109.5 304.5 L110.1 308.6 L110.6 309 L111.2 310.7 L111.7 311.9 L112.3 313.4 L112.8 313.2 L113.4 311.2 L113.9 314.1 L114.5 318 L115 313 L115.6 317.2 L116.1 316.6 L116.7 318.5 L117.2 320.6 L117.8 317.9 L118.3 320.2 L118.9 319.8 L119.4 320 L120 322.9 L120.5 322.8 L121.1 322.1 L121.6 323.3 L122.2 325.1 L122.7 325.6 L123.3 322.1 L123.8 325.1 L124.4 325.3 L124.9 325.1 L125.5 325.3 L126 324 L126.6 327 L127.1 325.7 L127.7 325.9 L128.2 327.3 L128.8 325.7 L129.3 327.6 L129.9 328.1 L130.4 327.3 L131 327.9 L131.5 330.4 L132.1 329.1 L132.6 330.4 L133.2 328.6 L133.7 329.6 L134.3 331.9 L134.8 331.1 L135.4 331 L135.9 327.5 L136.5 331.6 L137 331 L137.6 329.4 L138.1 333 L138.7 332.5 L139.2 331 L139.8 329.5 L140.3 332.2 L140.9 331.1 L141.4 333 L142 333.6 L142.5 332.3 L143.1 332.7 L143.6 336.3 L144.2 336 L144.7 333.6 L145.3 334.2 L145.8 333.6 L146.4 333.9 L146.9 333.9 L147.5 333.5 L148 333.7 L148.6 338.1 L149.1 335.3 L149.7 333.1 L150.2 334.8 L150.8 338.3 L151.3 335.7 L151.9 336.1 L152.4 340.6 L153 336.2 L153.5 337.8 L154.1 336.1 L154.6 335.2 L155.2 337.4 L155.7 335.3 L156.3 338.3 L156.8 339.6 L157.4 335.5 L157.9 334.7 L158.5 336.9 L159 337.5 L159.6 339.3 L160.1 338.3 L160.7 337.3 L161.2 338.5 L161.8 336.9 L162.3 336.2 L162.9 335.7 L163.4 338 L164 338.9 L164.5 336.2 L165.1 338.8 L165.6 337.8 L166.2 341.4 L166.7 337.2 L167.3 337.2 L167.8 341.4 L168.4 339.4 L168.9 338.6 L169.5 339.5 L170 339.8 L170.6 341.5 L171.1 341.2 L171.7 341.1 L172.2 340.2 L172.8 337 L173.3 339.8 L173.9 336.7 L174.4 337.7 L175 341 L175.5 341.8 L176.1 339.6 L176.6 337.8 L177.2 338.1 L177.7 342.2 L178.3 338.6 L178.8 339.2 L179.4 342.2 L179.9 339.8 L180.5 338.1 L181 340.1 L181.6 339.6 L182.1 337.3 L182.7 340.3 L183.2 339.7 L183.8 339.7 L184.3 340.3 L184.9 341.8 L185.4 342.8 L186 341.9 L186.5 340.6 L187.1 342.1 L187.6 338.7 L188.2 343.9 L188.7 340.9 L189.3 338.8 L189.8 341.2 L190.4 345.3 L190.9 344.4 L191.5 344 L192 340.7 L192.6 340.8 L193.1 342.6 L193.7 344 L194.2 342.6 L194.8 339.5 L195.3 345.2 L195.9 338.3 L196.4 341.6 L197 341.2 L197.5 339.8 L198.1 338.5 L198.6 338.8 L199.2 339.1 L199.7 340.3 L200.3 343 L200.8 339.3 L201.4 343.1 L201.9 339.7 L202.5 340.6 L203 339.2 L203.6 338.6 L204.1 344.6 L204.7 338.1 L205.2 342 L205.8 343.2 L206.3 339.8 L206.9 340.4 L207.4 338.9 L208 341.7 L208.5 340 L209.1 341.5 L209.6 339.2 L210.2 345.4 L210.7 342.1 L211.3 340.9 L211.8 341.4 L212.4 343.4 L212.9 338.1 L213.5 341.3 L214 341 L214.6 342.5 L215.1 342.7 L215.7 344.9 L216.2 335 L216.8 342.7 L217.3 338.6 L217.9 340.9 L218.4 340.2 L219 339.5 L219.5 344 L220.1 344.6 L220.6 339.6 L221.2 343.1 L221.7 338.8 L222.3 342.5 L222.8 339.7 L223.4 338.9 L223.9 342.3 L224.5 343.3 L225 339.8 L225.6 340.3 L226.1 340 L226.7 341.6 L227.2 340.8 L227.8 341.9 L228.3 342.7 L228.9 342.3 L229.4 339.3 L230 341.9 L230.5 338.7 L231.1 342.1 L231.6 344.2 L232.2 344.4 L232.7 344.3 L233.3 337.5 L233.8 342.6 L234.4 341.2 L234.9 339.9 L235.5 339.5 L236 343.1 L236.6 343.2 L237.1 337.6 L237.7 343.6 L238.2 344.5 L238.8 339.9 L239.3 343.8 L239.9 341.2 L240.4 343.7 L241 345.6" fill="none" stroke="#8cc44a" stroke-width="1.15" stroke-linejoin="round"/>
<path d="M73.8 260.2 L74.3 260.5 L74.9 260.3 L75.4 260.1 L76 260 L76.5 260.3 L77.1 260.3 L77.6 260.2 L78.2 260.5 L78.7 260 L79.3 260.2 L79.8 260.5 L80.4 260.2 L80.9 260.4 L81.5 260 L82 260.3 L82.6 260.4 L83.1 260.5 L83.7 260.6 L84.2 260.6 L84.8 260.4 L85.3 260.5 L85.9 260.7 L86.4 260.8 L87 261.6 L87.5 262.8 L88.1 264.4 L88.6 267 L89.2 268.9 L89.7 270.9 L90.3 271.9 L90.8 271.9 L91.4 272.9 L91.9 273.6 L92.5 275.2 L93 275.6 L93.6 276 L94.1 278.1 L94.7 278.6 L95.2 280.2 L95.8 280.6 L96.3 283.2 L96.9 284.2 L97.4 286.3 L98 286.6 L98.5 287.2 L99.1 290.4 L99.6 292.8 L100.2 292.8 L100.7 295.7 L101.3 293.9 L101.8 298.2 L102.4 298.8 L102.9 300.5 L103.5 302.1 L104 304.4 L104.6 304.7 L105.1 308.4 L105.7 304.7 L106.2 306.6 L106.8 308 L107.3 312.5 L107.9 312.9 L108.4 313.2 L109 314 L109.5 316.8 L110.1 318.9 L110.6 319.6 L111.2 320 L111.7 320.2 L112.3 320.4 L112.8 324.4 L113.4 323 L113.9 323.5 L114.5 323.1 L115 327.4 L115.6 325.8 L116.1 325.5 L116.7 325.4 L117.2 327.5 L117.8 327.2 L118.3 326.5 L118.9 328.5 L119.4 330.3 L120 329.6 L120.5 327.8 L121.1 328.6 L121.6 329.3 L122.2 334.2 L122.7 334.2 L123.3 332 L123.8 329.5 L124.4 330.7 L124.9 331.8 L125.5 331.9 L126 334 L126.6 330.6 L127.1 336.9 L127.7 335 L128.2 336.2 L128.8 331.5 L129.3 333.4 L129.9 332.6 L130.4 334.9 L131 335.9 L131.5 336.7 L132.1 338.8 L132.6 335.8 L133.2 333.4 L133.7 335 L134.3 335.7 L134.8 338.8 L135.4 337.3 L135.9 334.9 L136.5 339.2 L137 338.3 L137.6 337.6 L138.1 336.2 L138.7 336.4 L139.2 336.3 L139.8 337.7 L140.3 337.4 L140.9 340.6 L141.4 342.1 L142 339 L142.5 340.7 L143.1 342.1 L143.6 339.4 L144.2 341.2 L144.7 343.6 L145.3 343.1 L145.8 337.3 L146.4 339.6 L146.9 340.8 L147.5 340.8 L148 339.5 L148.6 340.9 L149.1 341.8 L149.7 343.3 L150.2 341.4 L150.8 341.5 L151.3 342.2 L151.9 344.1 L152.4 344.1 L153 343.3 L153.5 344 L154.1 341.7 L154.6 341.4 L155.2 340.3 L155.7 347.3 L156.3 338.9 L156.8 344.2 L157.4 342.7 L157.9 340.7 L158.5 344.5 L159 346.1 L159.6 341.2 L160.1 345.6 L160.7 343.1 L161.2 341.5 L161.8 342.9 L162.3 341.9 L162.9 342.7 L163.4 341.7 L164 343.4 L164.5 341 L165.1 344 L165.6 347.7 L166.2 340.6 L166.7 345.7 L167.3 347 L167.8 345.3 L168.4 343.5 L168.9 346.3 L169.5 343.2 L170 348.1 L170.6 346.7 L171.1 345.8 L171.7 347 L172.2 349.2 L172.8 342.6 L173.3 344.2 L173.9 346.8 L174.4 344.6 L175 349.8 L175.5 345.1 L176.1 345 L176.6 346.7 L177.2 345.8 L177.7 349.9 L178.3 345.9 L178.8 343.5 L179.4 346.2 L179.9 344.6 L180.5 346.9 L181 345.1 L181.6 344.3 L182.1 346.1 L182.7 344.1 L183.2 349 L183.8 346.7 L184.3 344.6 L184.9 349.7 L185.4 346.2 L186 345.3 L186.5 345.9 L187.1 346.9 L187.6 342.8 L188.2 346.7 L188.7 347.2 L189.3 345.6 L189.8 345.4 L190.4 347.8 L190.9 342.6 L191.5 347.3 L192 342.8 L192.6 344.7 L193.1 345.8 L193.7 345.9 L194.2 347.1 L194.8 350.7 L195.3 349 L195.9 343.2 L196.4 347.1 L197 350.5 L197.5 343.4 L198.1 346.1 L198.6 346.7 L199.2 347.3 L199.7 346.5 L200.3 342.2 L200.8 345.5 L201.4 350.3 L201.9 345.9 L202.5 349.8 L203 348.9 L203.6 346.4 L204.1 346.8 L204.7 347.8 L205.2 349.9 L205.8 347.7 L206.3 346.1 L206.9 345.2 L207.4 347.7 L208 346.5 L208.5 346.9 L209.1 345.4 L209.6 351.4 L210.2 347.1 L210.7 344.4 L211.3 350.1 L211.8 350.9 L212.4 346.4 L212.9 346.4 L213.5 349.3 L214 346.5 L214.6 344.6 L215.1 347 L215.7 346.1 L216.2 350.5 L216.8 349 L217.3 348.1 L217.9 348.3 L218.4 348 L219 351.6 L219.5 345.2 L220.1 352.2 L220.6 349.4 L221.2 351.9 L221.7 346.5 L222.3 344.4 L222.8 348 L223.4 348.9 L223.9 348.1 L224.5 343.6 L225 348.6 L225.6 345.9 L226.1 350.1 L226.7 351.2 L227.2 347.9 L227.8 352.2 L228.3 347.6 L228.9 349 L229.4 350.3 L230 350.1 L230.5 345.2 L231.1 346.5 L231.6 349.3 L232.2 350.1 L232.7 348.1 L233.3 346.5 L233.8 350.7 L234.4 348.3 L234.9 343.2 L235.5 345.8 L236 348 L236.6 349 L237.1 347 L237.7 349.7 L238.2 347.5 L238.8 348 L239.3 344.6" fill="none" stroke="#7ab844" stroke-width="1.15" stroke-linejoin="round"/>
<path d="M73.8 260.4 L74.3 260.4 L74.9 260.5 L75.4 260.3 L76 260.3 L76.5 260.5 L77.1 260.4 L77.6 260.5 L78.2 260.4 L78.7 260.3 L79.3 260.2 L79.8 260.2 L80.4 260.4 L80.9 260.2 L81.5 260.2 L82 260.1 L82.6 260.4 L83.1 260.4 L83.7 260.3 L84.2 260.3 L84.8 260.1 L85.3 260.3 L85.9 260.5 L86.4 261.4 L87 263.7 L87.5 265.2 L88.1 267.4 L88.6 267.9 L89.2 269.1 L89.7 269.4 L90.3 269.7 L90.8 270.9 L91.4 271.8 L91.9 272.8 L92.5 273.6 L93 276.5 L93.6 275.7 L94.1 278.6 L94.7 279 L95.2 280.4 L95.8 282.2 L96.3 284.4 L96.9 286.7 L97.4 286.7 L98 289.9 L98.5 289.1 L99.1 291 L99.6 292.9 L100.2 296.4 L100.7 295.8 L101.3 298.2 L101.8 299.7 L102.4 300.2 L102.9 302.1 L103.5 303.5 L104 302.9 L104.6 307.6 L105.1 309 L105.7 310 L106.2 310.2 L106.8 310.1 L107.3 312.6 L107.9 314.4 L108.4 317.4 L109 319.3 L109.5 317.6 L110.1 321.9 L110.6 321.8 L111.2 321.9 L111.7 324.4 L112.3 324.4 L112.8 327.6 L113.4 327.2 L113.9 328 L114.5 330.7 L115 332.4 L115.6 331.4 L116.1 331.7 L116.7 331.9 L117.2 335 L117.8 334.7 L118.3 337 L118.9 338.9 L119.4 338.4 L120 337.8 L120.5 341.4 L121.1 336.9 L121.6 340.3 L122.2 344.9 L122.7 340.6 L123.3 343.4 L123.8 341.4 L124.4 348.5 L124.9 340.7 L125.5 343.8 L126 341.8 L126.6 341.2 L127.1 342.9 L127.7 344.7 L128.2 345.6 L128.8 343.2 L129.3 348.3 L129.9 344.8 L130.4 353 L131 349.5 L131.5 347.2 L132.1 347.3 L132.6 344.4 L133.2 346.3 L133.7 346.1 L134.3 349.8 L134.8 350.1 L135.4 346.6 L135.9 348.8 L136.5 349.4 L137 347.1 L137.6 348.3 L138.1 348.6 L138.7 349.9 L139.2 353.3 L139.8 355.2 L140.3 352.1 L140.9 347.2 L141.4 352.3 L142 347.4 L142.5 350 L143.1 351 L143.6 350.1 L144.2 354.4 L144.7 349.6 L145.3 350.1 L145.8 351.8 L146.4 351.5 L146.9 350.8 L147.5 347.6 L148 349.4 L148.6 352.6 L149.1 354.2 L149.7 347.6 L150.2 352.3 L150.8 350 L151.3 354.2 L151.9 350.5 L152.4 351.9 L153 352.8 L153.5 351.8 L154.1 351.5 L154.6 351.7 L155.2 356.6 L155.7 352.9 L156.3 353.6 L156.8 354.3 L157.4 349.6 L157.9 354.3 L158.5 352.5 L159 355.8 L159.6 356.7 L160.1 354 L160.7 353.2 L161.2 355.7 L161.8 352.2 L162.3 358.2 L162.9 353.2 L163.4 354.6 L164 357.9 L164.5 352.9 L165.1 353.7 L165.6 356.8 L166.2 350.9 L166.7 351.8 L167.3 352.1 L167.8 349.6 L168.4 354.6 L168.9 354 L169.5 352.5 L170 349.1 L170.6 351.7 L171.1 352.4 L171.7 352.6 L172.2 351.2 L172.8 349.7 L173.3 351.9 L173.9 357.6 L174.4 359 L175 357.2 L175.5 351.7 L176.1 349.6 L176.6 350.3 L177.2 353.6 L177.7 357.2 L178.3 360 L178.8 353.2 L179.4 352.4 L179.9 355.4 L180.5 354.6 L181 357.6 L181.6 357.5 L182.1 354 L182.7 354.2 L183.2 351 L183.8 357.8 L184.3 355.9 L184.9 351.6 L185.4 353.5 L186 355.1 L186.5 355.3 L187.1 355.7 L187.6 356.4 L188.2 357.5 L188.7 354 L189.3 352.4 L189.8 357.6 L190.4 359 L190.9 357.6 L191.5 347.2 L192 356.3 L192.6 353.5 L193.1 356.6 L193.7 356.5 L194.2 354 L194.8 355.1 L195.3 355.9 L195.9 356.9 L196.4 349.1 L197 358 L197.5 356.1 L198.1 354 L198.6 358.2 L199.2 362.4 L199.7 351.2 L200.3 354.9 L200.8 355.8 L201.4 357 L201.9 358.5 L202.5 354.1 L203 353 L203.6 355.9 L204.1 352.3 L204.7 358.6 L205.2 353.6 L205.8 351.1 L206.3 353.3 L206.9 356.8 L207.4 353.7 L208 354.4 L208.5 354.5 L209.1 351.7 L209.6 356.4 L210.2 356.3 L210.7 354.4 L211.3 352.8 L211.8 354.2 L212.4 355.6 L212.9 354 L213.5 356.4 L214 355.3 L214.6 353.3 L215.1 353.3 L215.7 355.4 L216.2 355.1 L216.8 353.8 L217.3 357.5 L217.9 356.6 L218.4 353.9 L219 354.6 L219.5 356.9 L220.1 359.3 L220.6 355.1 L221.2 361.9 L221.7 357.3 L222.3 356.3 L222.8 359.6 L223.4 354.6 L223.9 359.8 L224.5 354 L225 356.1 L225.6 357.7 L226.1 355.2 L226.7 357.2 L227.2 356.1 L227.8 359.6 L228.3 360.5 L228.9 355.5 L229.4 353.8 L230 357.7 L230.5 358.3 L231.1 358.3 L231.6 354.8 L232.2 356.2 L232.7 354.2 L233.3 358.2 L233.8 355.1 L234.4 353 L234.9 356.2 L235.5 361.2 L236 356.9 L236.6 354.3 L237.1 357.4 L237.7 355.4 L238.2 356.6 L238.8 356.3" fill="none" stroke="#111111" stroke-width="1.15" stroke-linejoin="round"/>
<path d="M85.9 260.5 L86.3 254 L86.6 252.8 L87 257.5 L87.6 261.5" fill="none" stroke="#4f7f2a" stroke-width="1.2"/>
<text x="76" y="136.3" font-size="11.4" fill="#2a5890" textLength="34.5" lengthAdjust="spacingAndGlyphs">63 nM</text>
<text x="77.2" y="160.3" font-size="11.4" fill="#2a5890" textLength="27.5" lengthAdjust="spacingAndGlyphs">2 μM</text>
<line x1="91.1" y1="152.3" x2="91.1" y2="143.6" stroke="#111" stroke-width="1.3"/>
<path d="M91.1 137.3 L94 143.6 L88.2 143.6 Z" fill="#111"/>
<text x="199.1" y="120.7" font-size="11.4" fill="#2a5890" textLength="40.5" lengthAdjust="spacingAndGlyphs">188 nM</text>
<line x1="223.4" y1="123.2" x2="221.7" y2="127.7" stroke="#111" stroke-width="1.3"/>
<path d="M219.4 133.6 L219 126.7 L224.4 128.8 Z" fill="#111"/>
<text x="337.2" y="128.5" font-size="11.4" fill="#d43f3d" textLength="33" lengthAdjust="spacingAndGlyphs">16 nM</text>
<text x="337.7" y="157.2" font-size="11.4" fill="#d43f3d" textLength="27.5" lengthAdjust="spacingAndGlyphs">2 μM</text>
<line x1="351.1" y1="148.3" x2="351.1" y2="140.7" stroke="#111" stroke-width="1.3"/>
<path d="M351.1 134.4 L354 140.7 L348.2 140.7 Z" fill="#111"/>
<text x="462" y="126.7" font-size="11.4" fill="#d43f3d" textLength="40.5" lengthAdjust="spacingAndGlyphs">125 nM</text>
<line x1="479.4" y1="129.2" x2="477.1" y2="134.7" stroke="#111" stroke-width="1.3"/>
<path d="M474.7 140.5 L474.4 133.6 L479.8 135.8 Z" fill="#111"/>
<text x="77.2" y="324.7" font-size="11.4" fill="#82b04f" textLength="28" lengthAdjust="spacingAndGlyphs">8 nM</text>
<text x="77.7" y="351.7" font-size="11.4" fill="#82b04f" textLength="27.5" lengthAdjust="spacingAndGlyphs">2 μM</text>
<line x1="91.6" y1="342.4" x2="91.6" y2="334.9" stroke="#111" stroke-width="1.3"/>
<path d="M91.6 328.6 L94.5 334.9 L88.7 334.9 Z" fill="#111"/>
<text x="206.4" y="301.2" font-size="11.4" fill="#82b04f" textLength="34.5" lengthAdjust="spacingAndGlyphs">63 nM</text>
<line x1="229.4" y1="304.3" x2="227.3" y2="309.7" stroke="#111" stroke-width="1.3"/>
<path d="M225.1 315.6 L224.6 308.7 L230.1 310.7 Z" fill="#111"/>
<text transform="translate(278.7 0) scale(1.08 1) translate(-278.7 0)" x="272.6" y="247" font-size="16" font-weight="bold" fill="#000">D</text>
<path d="M335.8 251.3 V361.4 M335.1 360.7 H494" stroke="#000" stroke-width="1.4" fill="none"/>
<line x1="331.3" y1="265.4" x2="335.8" y2="265.4" stroke="#000" stroke-width="1.3"/>
<text x="326.3" y="269" font-size="11.8" fill="#231f20" text-anchor="end">100</text>
<line x1="331.3" y1="313.1" x2="335.8" y2="313.1" stroke="#000" stroke-width="1.3"/>
<text x="326.3" y="316.7" font-size="11.8" fill="#231f20" text-anchor="end">50</text>
<line x1="331.3" y1="360.7" x2="335.8" y2="360.7" stroke="#000" stroke-width="1.3"/>
<text x="326.3" y="364.3" font-size="11.8" fill="#231f20" text-anchor="end">0</text>
<path d="M342.3 360.7 V363.3 M347.6 360.7 V363.3 M352 360.7 V363.3 M355.7 360.7 V363.3 M358.9 360.7 V363.3 M361.7 360.7 V363.3 M364.2 360.7 V365 M380.8 360.7 V363.3 M390.5 360.7 V363.3 M397.4 360.7 V363.3 M402.7 360.7 V363.3 M407.1 360.7 V363.3 M410.8 360.7 V363.3 M414 360.7 V363.3 M416.8 360.7 V363.3 M419.3 360.7 V365 M435.9 360.7 V363.3 M445.6 360.7 V363.3 M452.5 360.7 V363.3 M457.8 360.7 V363.3 M462.2 360.7 V363.3 M465.9 360.7 V363.3 M469.1 360.7 V363.3 M471.9 360.7 V363.3 M474.4 360.7 V365 M491 360.7 V363.3" stroke="#000" stroke-width="1.2" fill="none"/>
<text x="364.8" y="380.3" font-size="11.8" fill="#231f20" text-anchor="middle">10</text>
<text x="419.9" y="380.3" font-size="11.8" fill="#231f20" text-anchor="middle">100</text>
<text x="475" y="380.3" font-size="11.8" fill="#231f20" text-anchor="middle">1000</text>
<text x="376.8" y="400.8" font-size="14.5" fill="#231f20" textLength="87.5" lengthAdjust="spacingAndGlyphs" stroke="#231f20" stroke-width="0.22">[Nanobody] (nM)</text>
<text transform="translate(297.8 305.4) rotate(-90)" x="0" y="0" font-size="14.5" fill="#231f20" text-anchor="middle" stroke="#231f20" stroke-width="0.22" textLength="83" lengthAdjust="spacingAndGlyphs">Aggregation (%)</text>
<path d="M358.3 355.9 L358.7 355.9 L359.1 355.9 L359.6 355.9 L360 355.9 L360.5 355.9 L360.9 355.9 L361.4 355.9 L361.8 355.9 L362.2 355.9 L362.7 355.9 L363.1 355.9 L363.6 355.9 L364 355.9 L364.5 355.9 L364.9 355.9 L365.4 355.9 L365.8 355.9 L366.2 355.9 L366.7 355.9 L367.1 355.9 L367.6 355.9 L368 355.9 L368.5 355.9 L368.9 355.9 L369.4 355.9 L369.8 355.9 L370.2 355.9 L370.7 355.9 L371.1 355.9 L371.6 355.9 L372 355.9 L372.5 355.9 L372.9 355.9 L373.3 355.9 L373.8 355.9 L374.2 355.9 L374.7 355.9 L375.1 355.9 L375.6 355.9 L376 355.9 L376.5 355.9 L376.9 355.9 L377.3 355.9 L377.8 355.9 L378.2 355.9 L378.7 355.9 L379.1 355.9 L379.6 355.9 L380 355.9 L380.5 355.9 L380.9 355.9 L381.3 355.9 L381.8 355.9 L382.2 355.8 L382.7 355.8 L383.1 355.8 L383.6 355.8 L384 355.8 L384.4 355.8 L384.9 355.7 L385.3 355.7 L385.8 355.7 L386.2 355.6 L386.7 355.6 L387.1 355.5 L387.6 355.5 L388 355.4 L388.4 355.4 L388.9 355.3 L389.3 355.2 L389.8 355.1 L390.2 355 L390.7 354.8 L391.1 354.7 L391.5 354.5 L392 354.3 L392.4 354.1 L392.9 353.9 L393.3 353.6 L393.8 353.3 L394.2 352.9 L394.7 352.5 L395.1 352.1 L395.5 351.6 L396 351 L396.4 350.4 L396.9 349.7 L397.3 348.9 L397.8 348 L398.2 347 L398.7 345.9 L399.1 344.7 L399.5 343.4 L400 341.9 L400.4 340.4 L400.9 338.7 L401.3 336.8 L401.8 334.8 L402.2 332.7 L402.6 330.5 L403.1 328.2 L403.5 325.7 L404 323.2 L404.4 320.6 L404.9 317.9 L405.3 315.3 L405.8 312.6 L406.2 309.9 L406.6 307.3 L407.1 304.7 L407.5 302.2 L408 299.8 L408.4 297.5 L408.9 295.4 L409.3 293.3 L409.7 291.4 L410.2 289.6 L410.6 288 L411.1 286.5 L411.5 285.1 L412 283.8 L412.4 282.7 L412.9 281.7 L413.3 280.7 L413.7 279.9 L414.2 279.1 L414.6 278.5 L415.1 277.9 L415.5 277.3 L416 276.8 L416.4 276.4 L416.9 276 L417.3 275.7 L417.7 275.4 L418.2 275.1 L418.6 274.9 L419.1 274.7 L419.5 274.5 L420 274.4 L420.4 274.2 L420.8 274.1 L421.3 274 L421.7 273.9 L422.2 273.8 L422.6 273.8 L423.1 273.7 L423.5 273.6 L424 273.6 L424.4 273.5 L424.8 273.5 L425.3 273.5 L425.7 273.4 L426.2 273.4 L426.6 273.4 L427.1 273.4 L427.5 273.3 L427.9 273.3 L428.4 273.3 L428.8 273.3 L429.3 273.3 L429.7 273.3 L430.2 273.3 L430.6 273.3 L431.1 273.3 L431.5 273.3 L431.9 273.2 L432.4 273.2 L432.8 273.2 L433.3 273.2 L433.7 273.2 L434.2 273.2 L434.6 273.2 L435.1 273.2 L435.5 273.2 L435.9 273.2 L436.4 273.2 L436.8 273.2 L437.3 273.2 L437.7 273.2 L438.2 273.2 L438.6 273.2 L439 273.2 L439.5 273.2 L439.9 273.2 L440.4 273.2 L440.8 273.2 L441.3 273.2 L441.7 273.2 L442.2 273.2 L442.6 273.2 L443 273.2 L443.5 273.2 L443.9 273.2 L444.4 273.2 L444.8 273.2 L445.3 273.2 L445.7 273.2 L446.2 273.2 L446.6 273.2 L447 273.2 L447.5 273.2 L447.9 273.2 L448.4 273.2 L448.8 273.2 L449.3 273.2 L449.7 273.2 L450.1 273.2 L450.6 273.2 L451 273.2 L451.5 273.2 L451.9 273.2 L452.4 273.2 L452.8 273.2 L453.3 273.2 L453.7 273.2 L454.1 273.2 L454.6 273.2 L455 273.2 L455.5 273.2 L455.9 273.2 L456.4 273.2 L456.8 273.2 L457.2 273.2 L457.7 273.2 L458.1 273.2 L458.6 273.2 L459 273.2 L459.5 273.2 L459.9 273.2 L460.4 273.2 L460.8 273.2 L461.2 273.2 L461.7 273.2 L462.1 273.2 L462.6 273.2 L463 273.2 L463.5 273.2 L463.9 273.2 L464.4 273.2 L464.8 273.2 L465.2 273.2 L465.7 273.2 L466.1 273.2 L466.6 273.2 L467 273.2 L467.5 273.2 L467.9 273.2 L468.3 273.2 L468.8 273.2 L469.2 273.2 L469.7 273.2 L470.1 273.2 L470.6 273.2 L471 273.2 L471.5 273.2 L471.9 273.2 L472.3 273.2 L472.8 273.2 L473.2 273.2 L473.7 273.2 L474.1 273.2 L474.6 273.2 L475 273.2 L475.4 273.2 L475.9 273.2 L476.3 273.2 L476.8 273.2 L477.2 273.2 L477.7 273.2 L478.1 273.2 L478.6 273.2 L479 273.2 L479.4 273.2 L479.9 273.2 L480.3 273.2 L480.8 273.2 L481.2 273.2 L481.7 273.2 L482.1 273.2 L482.6 273.2 L483 273.2 L483.4 273.2 L483.9 273.2 L484.3 273.2 L484.8 273.2 L485.2 273.2 L485.7 273.2 L486.1 273.2 L486.5 273.2 L487 273.2 L487.4 273.2 L487.9 273.2 L488.3 273.2 L488.8 273.2 L489.2 273.2 L489.7 273.2 L490.1 273.2 L490.5 273.2 L491 273.2" fill="none" stroke="#7ab648" stroke-width="1.8" stroke-linejoin="round"/>
<path d="M374.8 355.5 L375.2 355.5 L375.6 355.5 L376 355.5 L376.4 355.5 L376.8 355.5 L377.2 355.5 L377.6 355.5 L377.9 355.5 L378.3 355.5 L378.7 355.5 L379.1 355.5 L379.5 355.5 L379.9 355.5 L380.3 355.5 L380.7 355.5 L381.1 355.5 L381.4 355.5 L381.8 355.5 L382.2 355.5 L382.6 355.5 L383 355.5 L383.4 355.5 L383.8 355.5 L384.2 355.5 L384.6 355.5 L384.9 355.5 L385.3 355.5 L385.7 355.5 L386.1 355.5 L386.5 355.5 L386.9 355.4 L387.3 355.4 L387.7 355.4 L388 355.4 L388.4 355.4 L388.8 355.4 L389.2 355.4 L389.6 355.4 L390 355.4 L390.4 355.4 L390.8 355.4 L391.2 355.4 L391.5 355.4 L391.9 355.4 L392.3 355.4 L392.7 355.4 L393.1 355.4 L393.5 355.4 L393.9 355.4 L394.3 355.4 L394.7 355.4 L395 355.4 L395.4 355.3 L395.8 355.3 L396.2 355.3 L396.6 355.3 L397 355.3 L397.4 355.3 L397.8 355.2 L398.1 355.2 L398.5 355.2 L398.9 355.1 L399.3 355.1 L399.7 355.1 L400.1 355 L400.5 355 L400.9 354.9 L401.3 354.9 L401.6 354.8 L402 354.7 L402.4 354.6 L402.8 354.5 L403.2 354.4 L403.6 354.3 L404 354.1 L404.4 354 L404.8 353.8 L405.1 353.6 L405.5 353.4 L405.9 353.1 L406.3 352.9 L406.7 352.6 L407.1 352.2 L407.5 351.8 L407.9 351.4 L408.2 351 L408.6 350.5 L409 349.9 L409.4 349.3 L409.8 348.6 L410.2 347.9 L410.6 347 L411 346.1 L411.4 345.1 L411.7 344.1 L412.1 342.9 L412.5 341.7 L412.9 340.3 L413.3 338.8 L413.7 337.3 L414.1 335.6 L414.5 333.8 L414.9 331.9 L415.2 330 L415.6 327.9 L416 325.8 L416.4 323.6 L416.8 321.3 L417.2 319 L417.6 316.6 L418 314.2 L418.3 311.8 L418.7 309.5 L419.1 307.1 L419.5 304.8 L419.9 302.6 L420.3 300.4 L420.7 298.3 L421.1 296.3 L421.5 294.3 L421.8 292.5 L422.2 290.8 L422.6 289.1 L423 287.6 L423.4 286.2 L423.8 284.9 L424.2 283.6 L424.6 282.5 L425 281.5 L425.3 280.5 L425.7 279.7 L426.1 278.9 L426.5 278.2 L426.9 277.5 L427.3 276.9 L427.7 276.4 L428.1 275.9 L428.4 275.4 L428.8 275 L429.2 274.7 L429.6 274.4 L430 274.1 L430.4 273.8 L430.8 273.6 L431.2 273.4 L431.6 273.2 L431.9 273 L432.3 272.9 L432.7 272.7 L433.1 272.6 L433.5 272.5 L433.9 272.4 L434.3 272.3 L434.7 272.2 L435.1 272.2 L435.4 272.1 L435.8 272.1 L436.2 272 L436.6 272 L437 271.9 L437.4 271.9 L437.8 271.9 L438.2 271.8 L438.5 271.8 L438.9 271.8 L439.3 271.8 L439.7 271.7 L440.1 271.7 L440.5 271.7 L440.9 271.7 L441.3 271.7 L441.7 271.7 L442 271.7 L442.4 271.7 L442.8 271.7 L443.2 271.6 L443.6 271.6 L444 271.6 L444.4 271.6 L444.8 271.6 L445.2 271.6 L445.5 271.6 L445.9 271.6 L446.3 271.6 L446.7 271.6 L447.1 271.6 L447.5 271.6 L447.9 271.6 L448.3 271.6 L448.6 271.6 L449 271.6 L449.4 271.6 L449.8 271.6 L450.2 271.6 L450.6 271.6 L451 271.6 L451.4 271.6 L451.8 271.6 L452.1 271.6 L452.5 271.6 L452.9 271.6 L453.3 271.6 L453.7 271.6 L454.1 271.6 L454.5 271.6 L454.9 271.6 L455.2 271.6 L455.6 271.6 L456 271.6 L456.4 271.6 L456.8 271.6 L457.2 271.6 L457.6 271.6 L458 271.6 L458.4 271.6 L458.7 271.6 L459.1 271.6 L459.5 271.6 L459.9 271.6 L460.3 271.6 L460.7 271.6 L461.1 271.6 L461.5 271.6 L461.9 271.6 L462.2 271.6 L462.6 271.6 L463 271.6 L463.4 271.6 L463.8 271.6 L464.2 271.6 L464.6 271.6 L465 271.6 L465.3 271.6 L465.7 271.6 L466.1 271.6 L466.5 271.6 L466.9 271.6 L467.3 271.6 L467.7 271.6 L468.1 271.6 L468.5 271.6 L468.8 271.6 L469.2 271.6 L469.6 271.6 L470 271.6 L470.4 271.6 L470.8 271.6 L471.2 271.6 L471.6 271.6 L472 271.6 L472.3 271.6 L472.7 271.6 L473.1 271.6 L473.5 271.6 L473.9 271.6 L474.3 271.6 L474.7 271.6 L475.1 271.6 L475.4 271.6 L475.8 271.6 L476.2 271.6 L476.6 271.6 L477 271.6 L477.4 271.6 L477.8 271.6 L478.2 271.6 L478.6 271.6 L478.9 271.6 L479.3 271.6 L479.7 271.6 L480.1 271.6 L480.5 271.6 L480.9 271.6 L481.3 271.6 L481.7 271.6 L482.1 271.6 L482.4 271.6 L482.8 271.6 L483.2 271.6 L483.6 271.6 L484 271.6 L484.4 271.6 L484.8 271.6 L485.2 271.6 L485.5 271.6 L485.9 271.6 L486.3 271.6 L486.7 271.6 L487.1 271.6 L487.5 271.6 L487.9 271.6 L488.3 271.6 L488.7 271.6 L489 271.6 L489.4 271.6 L489.8 271.6 L490.2 271.6 L490.6 271.6 L491 271.6" fill="none" stroke="#e8342a" stroke-width="1.8" stroke-linejoin="round"/>
<path d="M408.1 355 L408.3 355 L408.6 355 L408.9 355 L409.2 355 L409.4 355 L409.7 355 L410 355 L410.3 355 L410.5 355 L410.8 354.9 L411.1 354.9 L411.4 354.9 L411.7 354.9 L411.9 354.9 L412.2 354.9 L412.5 354.9 L412.8 354.9 L413 354.9 L413.3 354.9 L413.6 354.9 L413.9 354.9 L414.2 354.9 L414.4 354.9 L414.7 354.8 L415 354.8 L415.3 354.8 L415.5 354.8 L415.8 354.8 L416.1 354.7 L416.4 354.7 L416.7 354.7 L416.9 354.7 L417.2 354.6 L417.5 354.6 L417.8 354.5 L418 354.5 L418.3 354.4 L418.6 354.4 L418.9 354.3 L419.1 354.2 L419.4 354.2 L419.7 354.1 L420 354 L420.3 353.9 L420.5 353.7 L420.8 353.6 L421.1 353.5 L421.4 353.3 L421.6 353.1 L421.9 352.9 L422.2 352.7 L422.5 352.4 L422.8 352.2 L423 351.9 L423.3 351.6 L423.6 351.2 L423.9 350.8 L424.1 350.4 L424.4 349.9 L424.7 349.4 L425 348.8 L425.2 348.2 L425.5 347.5 L425.8 346.7 L426.1 345.9 L426.4 345 L426.6 344.1 L426.9 343.1 L427.2 342 L427.5 340.8 L427.7 339.5 L428 338.1 L428.3 336.7 L428.6 335.1 L428.9 333.5 L429.1 331.8 L429.4 330 L429.7 328.1 L430 326.2 L430.2 324.2 L430.5 322.1 L430.8 320 L431.1 317.8 L431.4 315.6 L431.6 313.4 L431.9 311.2 L432.2 309 L432.5 306.9 L432.7 304.7 L433 302.6 L433.3 300.6 L433.6 298.6 L433.8 296.7 L434.1 294.8 L434.4 293.1 L434.7 291.4 L435 289.8 L435.2 288.3 L435.5 286.9 L435.8 285.5 L436.1 284.3 L436.3 283.1 L436.6 282.1 L436.9 281.1 L437.2 280.1 L437.5 279.3 L437.7 278.5 L438 277.8 L438.3 277.1 L438.6 276.5 L438.8 276 L439.1 275.5 L439.4 275 L439.7 274.6 L440 274.2 L440.2 273.8 L440.5 273.5 L440.8 273.2 L441.1 273 L441.3 272.8 L441.6 272.5 L441.9 272.3 L442.2 272.2 L442.4 272 L442.7 271.9 L443 271.7 L443.3 271.6 L443.6 271.5 L443.8 271.4 L444.1 271.3 L444.4 271.3 L444.7 271.2 L444.9 271.1 L445.2 271.1 L445.5 271 L445.8 271 L446.1 270.9 L446.3 270.9 L446.6 270.9 L446.9 270.8 L447.2 270.8 L447.4 270.8 L447.7 270.8 L448 270.7 L448.3 270.7 L448.5 270.7 L448.8 270.7 L449.1 270.7 L449.4 270.7 L449.7 270.6 L449.9 270.6 L450.2 270.6 L450.5 270.6 L450.8 270.6 L451 270.6 L451.3 270.6 L451.6 270.6 L451.9 270.6 L452.2 270.6 L452.4 270.6 L452.7 270.6 L453 270.6 L453.3 270.6 L453.5 270.6 L453.8 270.6 L454.1 270.6 L454.4 270.6 L454.7 270.6 L454.9 270.6 L455.2 270.6 L455.5 270.6 L455.8 270.6 L456 270.6 L456.3 270.6 L456.6 270.6 L456.9 270.6 L457.1 270.6 L457.4 270.6 L457.7 270.6 L458 270.6 L458.3 270.6 L458.5 270.5 L458.8 270.5 L459.1 270.5 L459.4 270.5 L459.6 270.5 L459.9 270.5 L460.2 270.5 L460.5 270.5 L460.8 270.5 L461 270.5 L461.3 270.5 L461.6 270.5 L461.9 270.5 L462.1 270.5 L462.4 270.5 L462.7 270.5 L463 270.5 L463.2 270.5 L463.5 270.5 L463.8 270.5 L464.1 270.5 L464.4 270.5 L464.6 270.5 L464.9 270.5 L465.2 270.5 L465.5 270.5 L465.7 270.5 L466 270.5 L466.3 270.5 L466.6 270.5 L466.9 270.5 L467.1 270.5 L467.4 270.5 L467.7 270.5 L468 270.5 L468.2 270.5 L468.5 270.5 L468.8 270.5 L469.1 270.5 L469.4 270.5 L469.6 270.5 L469.9 270.5 L470.2 270.5 L470.5 270.5 L470.7 270.5 L471 270.5 L471.3 270.5 L471.6 270.5 L471.8 270.5 L472.1 270.5 L472.4 270.5 L472.7 270.5 L473 270.5 L473.2 270.5 L473.5 270.5 L473.8 270.5 L474.1 270.5 L474.3 270.5 L474.6 270.5 L474.9 270.5 L475.2 270.5 L475.5 270.5 L475.7 270.5 L476 270.5 L476.3 270.5 L476.6 270.5 L476.8 270.5 L477.1 270.5 L477.4 270.5 L477.7 270.5 L478 270.5 L478.2 270.5 L478.5 270.5 L478.8 270.5 L479.1 270.5 L479.3 270.5 L479.6 270.5 L479.9 270.5 L480.2 270.5 L480.4 270.5 L480.7 270.5 L481 270.5 L481.3 270.5 L481.6 270.5 L481.8 270.5 L482.1 270.5 L482.4 270.5 L482.7 270.5 L482.9 270.5 L483.2 270.5 L483.5 270.5 L483.8 270.5 L484.1 270.5 L484.3 270.5 L484.6 270.5 L484.9 270.5 L485.2 270.5 L485.4 270.5 L485.7 270.5 L486 270.5 L486.3 270.5 L486.5 270.5 L486.8 270.5 L487.1 270.5 L487.4 270.5 L487.7 270.5 L487.9 270.5 L488.2 270.5 L488.5 270.5 L488.8 270.5 L489 270.5 L489.3 270.5 L489.6 270.5 L489.9 270.5 L490.2 270.5 L490.4 270.5 L490.7 270.5 L491 270.5" fill="none" stroke="#1d5291" stroke-width="1.8" stroke-linejoin="round"/>
<path d="M374.8 352.1 V356.9 M372.6 352.1 H377 M372.6 356.9 H377 M391.5 357.8 V360.7 M389.3 357.8 H393.7 M389.3 360.7 H393.7 M408.1 292 V310.1 M405.9 292 H410.3 M405.9 310.1 H410.3 M424.6 274.9 V280.6 M422.4 274.9 H426.8 M422.4 280.6 H426.8 M457.8 264.4 V277.8 M455.6 264.4 H460 M455.6 277.8 H460 M408.1 347.4 V353.1 M405.9 347.4 H410.3 M405.9 353.1 H410.3 M424.6 280.6 V288.3 M422.4 280.6 H426.8 M422.4 288.3 H426.8 M441.2 266.4 V274 M439 266.4 H443.4 M439 274 H443.4 M457.8 272.1 V279.7 M455.6 272.1 H460 M455.6 279.7 H460 M424.6 345 V351.6 M422.4 345 H426.8 M422.4 351.6 H426.8 M434.3 286.8 V297.3 M432.1 286.8 H436.5 M432.1 297.3 H436.5 M441.2 270.2 V276.8 M439 270.2 H443.4 M439 276.8 H443.4 M474.4 260.2 V273.5 M472.2 260.2 H476.6 M472.2 273.5 H476.6 M491 269.7 V278.3 M488.8 269.7 H493.2 M488.8 278.3 H493.2" stroke="#222" stroke-width="1.1" fill="none"/>
<circle cx="358.3" cy="355.9" r="2.2" fill="#6aa83e"/>
<circle cx="374.8" cy="354.5" r="2.2" fill="#6aa83e"/>
<circle cx="391.5" cy="359.3" r="2.2" fill="#6aa83e"/>
<circle cx="408.1" cy="301" r="2.2" fill="#6aa83e"/>
<circle cx="424.6" cy="277.8" r="2.2" fill="#6aa83e"/>
<circle cx="441.2" cy="273" r="2.2" fill="#6aa83e"/>
<circle cx="457.8" cy="271.1" r="2.2" fill="#6aa83e"/>
<circle cx="474.4" cy="272.5" r="2.2" fill="#6aa83e"/>
<circle cx="491" cy="273" r="2.2" fill="#6aa83e"/>
<circle cx="374.8" cy="357.4" r="2.2" fill="#d8302a"/>
<circle cx="391.5" cy="354.5" r="2.2" fill="#d8302a"/>
<circle cx="408.1" cy="350.2" r="2.2" fill="#d8302a"/>
<circle cx="424.6" cy="284.5" r="2.2" fill="#d8302a"/>
<circle cx="441.2" cy="270.2" r="2.2" fill="#d8302a"/>
<circle cx="457.8" cy="275.9" r="2.2" fill="#d8302a"/>
<circle cx="474.4" cy="274.5" r="2.2" fill="#d8302a"/>
<circle cx="491" cy="268.7" r="2.2" fill="#d8302a"/>
<path d="M408.1 351.2 L410.5 354 L408.1 356.8 L405.7 354 Z" fill="#1d5296"/>
<path d="M424.6 345.5 L427 348.3 L424.6 351.1 L422.2 348.3 Z" fill="#1d5296"/>
<path d="M434.3 289.3 L436.7 292.1 L434.3 294.9 L431.9 292.1 Z" fill="#1d5296"/>
<path d="M441.2 270.7 L443.6 273.5 L441.2 276.3 L438.8 273.5 Z" fill="#1d5296"/>
<path d="M457.8 267.4 L460.2 270.2 L457.8 273 L455.4 270.2 Z" fill="#1d5296"/>
<path d="M474.4 264 L476.8 266.8 L474.4 269.6 L472 266.8 Z" fill="#1d5296"/>
<path d="M491 271.2 L493.4 274 L491 276.8 L488.6 274 Z" fill="#1d5296"/>
<text x="371.3" y="311.9" font-size="11.4" fill="#82b04f" textLength="30" lengthAdjust="spacingAndGlyphs">6D12</text>
<text x="420.9" y="313.9" font-size="11.4" fill="#d43f3d" textLength="28.5" lengthAdjust="spacingAndGlyphs">6C11</text>
<text x="429.2" y="343.4" font-size="11.4" fill="#2a5890" textLength="21.8" lengthAdjust="spacingAndGlyphs">6C4</text>
<text x="11.9" y="442" font-size="16" font-weight="bold" fill="#000">E</text>
<path d="M73.8 449 V574 M73.1 570 H252.3" stroke="#000" stroke-width="1.4" fill="none"/>
<path d="M69.3 563 H73.8 M71.3 544.6 H73.8 M69.3 526.3 H73.8 M71.3 507.9 H73.8 M69.3 489.6 H73.8 M71.3 471.2 H73.8 M69.3 452.9 H73.8 M73.8 570 V574.3 M82.6 570 V572.6 M91.4 570 V572.6 M100.2 570 V572.6 M109 570 V572.6 M117.8 570 V572.6 M126.6 570 V572.6 M135.4 570 V572.6 M144.2 570 V572.6 M153 570 V572.6 M161.8 570 V574.3 M170.6 570 V572.6 M179.4 570 V572.6 M188.2 570 V572.6 M197 570 V572.6 M205.8 570 V572.6 M214.6 570 V572.6 M223.4 570 V572.6 M232.2 570 V572.6 M241 570 V572.6 M249.8 570 V574.3" stroke="#000" stroke-width="1.2" fill="none"/>
<text x="64.4" y="566.8" font-size="11.8" fill="#231f20" text-anchor="end">0.0</text>
<text x="64.4" y="530.1" font-size="11.8" fill="#231f20" text-anchor="end">1.0</text>
<text x="64.4" y="493.4" font-size="11.8" fill="#231f20" text-anchor="end">2.0</text>
<text x="64.4" y="456.7" font-size="11.8" fill="#231f20" text-anchor="end">3.0</text>
<text x="74.1" y="589.9" font-size="11.8" fill="#231f20" text-anchor="middle">0.0</text>
<text x="162.1" y="589.9" font-size="11.8" fill="#231f20" text-anchor="middle">0.5</text>
<text x="250.1" y="589.9" font-size="11.8" fill="#231f20" text-anchor="middle">1.0</text>
<text x="126" y="611.2" font-size="14.5" fill="#231f20" textLength="75.5" lengthAdjust="spacingAndGlyphs" stroke="#231f20" stroke-width="0.22">[VWF] (μg/mL)</text>
<text transform="translate(35.9 525.6) rotate(-90)" x="0" y="0" font-size="15" fill="#231f20" stroke="#231f20" stroke-width="0.22" textLength="16.3" lengthAdjust="spacingAndGlyphs">OD</text>
<text transform="translate(35.9 525.6) rotate(-90)" x="16.9" y="3.4" font-size="10" fill="#231f20" textLength="15" lengthAdjust="spacingAndGlyphs">450</text>
<path d="M73.8 562.3 L79.3 562.3 L84.8 562.3 L95.8 562.3 L117.8 562.3 L161.8 562.1 L249.8 561.9" fill="none" stroke="#231f20" stroke-width="1.3" stroke-linejoin="round"/>
<path d="M73.8 563 L79.3 557.5 L84.8 552.4 L95.8 545 L117.8 535.8 L161.8 520.4 L249.8 504.3" fill="none" stroke="#e5392b" stroke-width="1.25" stroke-linejoin="round"/>
<path d="M73.8 563 L79.3 551.3 L84.8 545 L95.8 531.1 L117.8 514.9 L161.8 491.8 L249.8 479" fill="none" stroke="#1d5599" stroke-width="1.25" stroke-linejoin="round"/>
<path d="M73.8 563 L79.3 545 L84.8 533.6 L95.8 519.3 L117.8 501 L161.8 481.2 L249.8 466.1" fill="none" stroke="#7ab648" stroke-width="1.25" stroke-linejoin="round"/>
<path d="M161.8 478.4 V485.2 M159.6 478.4 H164 M159.6 485.2 H164 M249.8 476 V481.5 M247.6 476 H252" stroke="#333" stroke-width="1" fill="none"/>
<circle cx="73.8" cy="563" r="2.9" fill="#fff" fill-opacity="0.0" stroke="#3a3a3a" stroke-width="1.1"/>
<circle cx="79.3" cy="545" r="2.9" fill="#fff" fill-opacity="0.0" stroke="#3a3a3a" stroke-width="1.1"/>
<circle cx="84.8" cy="533.6" r="2.9" fill="#fff" fill-opacity="0.0" stroke="#3a3a3a" stroke-width="1.1"/>
<circle cx="95.8" cy="519.3" r="2.9" fill="#fff" fill-opacity="0.0" stroke="#3a3a3a" stroke-width="1.1"/>
<circle cx="117.8" cy="501" r="2.9" fill="#fff" fill-opacity="0.0" stroke="#3a3a3a" stroke-width="1.1"/>
<circle cx="161.8" cy="481.2" r="2.9" fill="#fff" fill-opacity="0.0" stroke="#3a3a3a" stroke-width="1.1"/>
<circle cx="249.8" cy="466.1" r="2.9" fill="#fff" fill-opacity="0.0" stroke="#3a3a3a" stroke-width="1.1"/>
<path d="M73.8 559.8 L77 565.4 L70.6 565.4 Z" fill="none" stroke="#3a3a3a" stroke-width="1.1"/>
<path d="M79.3 548.1 L82.5 553.7 L76.1 553.7 Z" fill="none" stroke="#3a3a3a" stroke-width="1.1"/>
<path d="M84.8 541.8 L88 547.4 L81.6 547.4 Z" fill="none" stroke="#3a3a3a" stroke-width="1.1"/>
<path d="M95.8 527.9 L99 533.5 L92.6 533.5 Z" fill="none" stroke="#3a3a3a" stroke-width="1.1"/>
<path d="M117.8 511.7 L121 517.3 L114.6 517.3 Z" fill="none" stroke="#3a3a3a" stroke-width="1.1"/>
<path d="M161.8 488.6 L165 494.2 L158.6 494.2 Z" fill="none" stroke="#3a3a3a" stroke-width="1.1"/>
<path d="M249.8 475.8 L253 481.4 L246.6 481.4 Z" fill="none" stroke="#3a3a3a" stroke-width="1.1"/>
<rect x="71.1" y="560.3" width="5.4" height="5.4" fill="none" stroke="#3a3a3a" stroke-width="1.1"/>
<rect x="76.6" y="554.8" width="5.4" height="5.4" fill="none" stroke="#3a3a3a" stroke-width="1.1"/>
<rect x="82.1" y="549.7" width="5.4" height="5.4" fill="none" stroke="#3a3a3a" stroke-width="1.1"/>
<rect x="93.1" y="542.3" width="5.4" height="5.4" fill="none" stroke="#3a3a3a" stroke-width="1.1"/>
<rect x="115.1" y="533.1" width="5.4" height="5.4" fill="none" stroke="#3a3a3a" stroke-width="1.1"/>
<rect x="159.1" y="517.7" width="5.4" height="5.4" fill="none" stroke="#3a3a3a" stroke-width="1.1"/>
<rect x="247.1" y="501.6" width="5.4" height="5.4" fill="none" stroke="#3a3a3a" stroke-width="1.1"/>
<path d="M73.8 565.5 L77 559.9 L70.6 559.9 Z" fill="none" stroke="#3a3a3a" stroke-width="1.1"/>
<path d="M79.3 565.5 L82.5 559.9 L76.1 559.9 Z" fill="none" stroke="#3a3a3a" stroke-width="1.1"/>
<path d="M84.8 565.5 L88 559.9 L81.6 559.9 Z" fill="none" stroke="#3a3a3a" stroke-width="1.1"/>
<path d="M95.8 565.5 L99 559.9 L92.6 559.9 Z" fill="none" stroke="#3a3a3a" stroke-width="1.1"/>
<path d="M117.8 565.5 L121 559.9 L114.6 559.9 Z" fill="none" stroke="#3a3a3a" stroke-width="1.1"/>
<path d="M161.8 565.3 L165 559.7 L158.6 559.7 Z" fill="none" stroke="#3a3a3a" stroke-width="1.1"/>
<path d="M249.8 565.1 L253 559.5 L246.6 559.5 Z" fill="none" stroke="#3a3a3a" stroke-width="1.1"/>
<text x="227.6" y="457.5" font-size="11.4" fill="#82b04f" textLength="36.5" lengthAdjust="spacingAndGlyphs">+6D12</text>
<text x="227.6" y="496.5" font-size="11.4" fill="#2a5890" textLength="29.5" lengthAdjust="spacingAndGlyphs">+6C4</text>
<text x="227.6" y="525.2" font-size="11.4" fill="#d43f3d" textLength="35" lengthAdjust="spacingAndGlyphs">+6C11</text>
<text x="227.6" y="552.9" font-size="11.4" fill="#231f20" textLength="24.3" lengthAdjust="spacingAndGlyphs">NPP</text>
<rect x="0.5" y="0.5" width="519" height="623" fill="none" stroke="#1a1a1a" stroke-width="1"/>
</svg>
</body></html>
